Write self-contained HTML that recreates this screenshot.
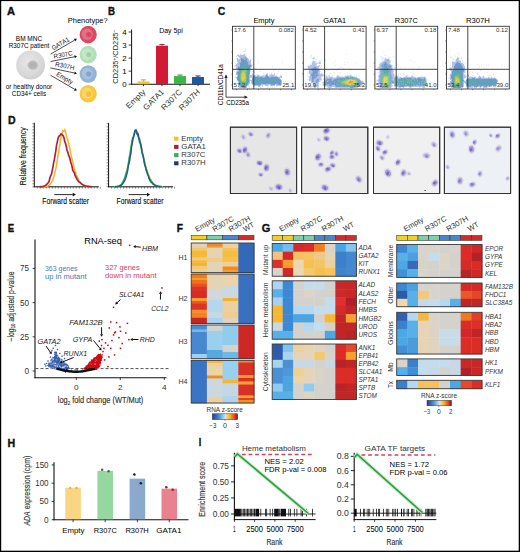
<!DOCTYPE html>
<html><head><meta charset="utf-8"><style>
html,body{margin:0;padding:0;background:#fff;}
svg{display:block;font-family:"Liberation Sans",sans-serif;}
</style></head><body>
<svg width="520" height="552" viewBox="0 0 520 552" font-family='"Liberation Sans", sans-serif'>
<defs>
<filter id="mblur" x="-5%" y="-5%" width="110%" height="110%"><feGaussianBlur stdDeviation="0.35"/></filter>
<filter id="fblur" x="-5%" y="-5%" width="110%" height="110%"><feGaussianBlur stdDeviation="0.45"/></filter>
<radialGradient id="gcell" cx="0.45" cy="0.4" r="0.6"><stop offset="0" stop-color="#e8e8e8"/><stop offset="0.7" stop-color="#d9d9d9"/><stop offset="1" stop-color="#cfcfcf"/></radialGradient>
<radialGradient id="gBlue"><stop offset="0" stop-color="#5a8cc0" stop-opacity="0.95"/><stop offset="0.6" stop-color="#7aa6d0" stop-opacity="0.6"/><stop offset="1" stop-color="#b8d0ea" stop-opacity="0"/></radialGradient>
<radialGradient id="gCore"><stop offset="0" stop-color="#e89a30"/><stop offset="0.3" stop-color="#d8c840"/><stop offset="0.65" stop-color="#6cb060" stop-opacity="0.9"/><stop offset="1" stop-color="#5a9ac0" stop-opacity="0"/></radialGradient>
<radialGradient id="gTail"><stop offset="0" stop-color="#4aa080"/><stop offset="0.5" stop-color="#5a90c0" stop-opacity="0.8"/><stop offset="1" stop-color="#9cbce0" stop-opacity="0"/></radialGradient>
<radialGradient id="gGreen"><stop offset="0" stop-color="#60b050"/><stop offset="1" stop-color="#60b050" stop-opacity="0"/></radialGradient>
<radialGradient id="gTail2"><stop offset="0" stop-color="#60b040"/><stop offset="0.55" stop-color="#58a090" stop-opacity="0.85"/><stop offset="1" stop-color="#9cbce0" stop-opacity="0"/></radialGradient>
<radialGradient id="gCore2"><stop offset="0" stop-color="#f07020"/><stop offset="0.5" stop-color="#e8c030"/><stop offset="1" stop-color="#a0c040" stop-opacity="0"/></radialGradient>
<linearGradient id="cbar" x1="0" x2="1" y1="0" y2="0"><stop offset="0" stop-color="#2b3f8f"/><stop offset="0.2" stop-color="#3a78c4"/><stop offset="0.42" stop-color="#8ccaee"/><stop offset="0.52" stop-color="#e6e2cc"/><stop offset="0.68" stop-color="#f8b434"/><stop offset="0.84" stop-color="#ea5a20"/><stop offset="1" stop-color="#8e0e1c"/></linearGradient>
</defs>
<rect x="0" y="0" width="520" height="552" fill="#fff"/>
<text x="6.90" y="14.60" font-size="10.2" fill="#111" font-weight="bold" textLength="8.00" lengthAdjust="spacingAndGlyphs" stroke="#111" stroke-width="0.35">A</text>
<text x="29.00" y="41.30" font-size="6.9" text-anchor="middle" textLength="26.40" lengthAdjust="spacingAndGlyphs" >BM MNC</text>
<text x="29.00" y="48.40" font-size="6.9" text-anchor="middle" textLength="40.40" lengthAdjust="spacingAndGlyphs" >R307C patient</text>
<circle cx="30.6" cy="65" r="14.4" fill="url(#gcell)"/>
<ellipse cx="32.8" cy="65.2" rx="5.2" ry="4.6" fill="#bcbcbc"/>
<ellipse cx="32.8" cy="65.2" rx="3.2" ry="2.6" fill="#b2b2b2"/>
<text x="29.00" y="88.50" font-size="6.9" text-anchor="middle" textLength="46.40" lengthAdjust="spacingAndGlyphs" >or healthy donor</text>
<text x="29.00" y="95.70" font-size="6.9" text-anchor="middle" textLength="34.40" lengthAdjust="spacingAndGlyphs" >CD34+ cells</text>
<text x="67.80" y="22.80" font-size="7.4" textLength="39.80" lengthAdjust="spacingAndGlyphs" >Phenotype?</text>
<ellipse cx="88.2" cy="34.6" rx="8.6" ry="8.8" fill="#dc4862"/>
<ellipse cx="87.2" cy="34.2" rx="5.6" ry="5.8" fill="#f0a0b0" opacity="0.45"/>
<circle cx="88.8" cy="34.6" r="2.6" fill="#c43050" opacity="0.6"/>
<ellipse cx="88.2" cy="54.6" rx="8.6" ry="8.8" fill="#b2e0b6"/>
<ellipse cx="87.2" cy="54.2" rx="5.6" ry="5.8" fill="#d8f0d8" opacity="0.45"/>
<circle cx="88.8" cy="54.6" r="2.6" fill="#86c890" opacity="0.6"/>
<ellipse cx="88.2" cy="74.0" rx="8.6" ry="8.8" fill="#92b2d8"/>
<ellipse cx="87.2" cy="73.6" rx="5.6" ry="5.8" fill="#c0d4ec" opacity="0.45"/>
<circle cx="88.8" cy="74.0" r="2.6" fill="#6a90c0" opacity="0.6"/>
<ellipse cx="88.2" cy="93.8" rx="8.6" ry="8.8" fill="#f8c83a"/>
<ellipse cx="87.2" cy="93.39999999999999" rx="5.6" ry="5.8" fill="#fce49a" opacity="0.45"/>
<circle cx="88.8" cy="93.8" r="2.6" fill="#f0b020" opacity="0.6"/>
<line x1="50.60" y1="54.10" x2="74.65" y2="40.11" stroke="#111" stroke-width="0.75" />
<polygon points="76.90,38.80 75.46,41.49 73.85,38.72" fill="#111"/>
<line x1="50.60" y1="61.50" x2="74.45" y2="56.80" stroke="#111" stroke-width="0.75" />
<polygon points="77.00,56.30 74.76,58.37 74.14,55.23" fill="#111"/>
<line x1="50.30" y1="67.90" x2="74.46" y2="72.97" stroke="#111" stroke-width="0.75" />
<polygon points="77.00,73.50 74.13,74.53 74.78,71.40" fill="#111"/>
<line x1="50.60" y1="75.30" x2="74.65" y2="89.29" stroke="#111" stroke-width="0.75" />
<polygon points="76.90,90.60 73.85,90.68 75.46,87.91" fill="#111"/>
<text x="53.20" y="50.60" font-size="6.6" fill="#1a1a1a" textLength="19.50" lengthAdjust="spacingAndGlyphs" transform="rotate(-30.3 53.20 50.60)" >GATA1</text>
<text x="54.00" y="58.80" font-size="6.6" fill="#1a1a1a" textLength="19.20" lengthAdjust="spacingAndGlyphs" transform="rotate(-10.7 54.00 58.80)" >R307C</text>
<text x="54.80" y="66.20" font-size="6.6" fill="#1a1a1a" textLength="19.60" lengthAdjust="spacingAndGlyphs" transform="rotate(11.8 54.80 66.20)" >R307H</text>
<text x="55.80" y="75.40" font-size="6.6" fill="#1a1a1a" textLength="18.20" lengthAdjust="spacingAndGlyphs" transform="rotate(30.3 55.80 75.40)" >Empty</text>
<text x="107.90" y="14.70" font-size="10.2" fill="#111" font-weight="bold" textLength="7.00" lengthAdjust="spacingAndGlyphs" stroke="#111" stroke-width="0.35">B</text>
<line x1="131.60" y1="29.50" x2="131.60" y2="84.60" stroke="#111" stroke-width="1" />
<line x1="131.20" y1="84.20" x2="210.00" y2="84.20" stroke="#111" stroke-width="1.1" />
<line x1="128.60" y1="84.20" x2="131.60" y2="84.20" stroke="#111" stroke-width="0.8" />
<text x="126.60" y="87.00" font-size="7.8" text-anchor="end" >0</text>
<line x1="128.60" y1="71.15" x2="131.60" y2="71.15" stroke="#111" stroke-width="0.8" />
<text x="126.60" y="73.95" font-size="7.8" text-anchor="end" >1</text>
<line x1="128.60" y1="58.10" x2="131.60" y2="58.10" stroke="#111" stroke-width="0.8" />
<text x="126.60" y="60.90" font-size="7.8" text-anchor="end" >2</text>
<line x1="128.60" y1="45.05" x2="131.60" y2="45.05" stroke="#111" stroke-width="0.8" />
<text x="126.60" y="47.85" font-size="7.8" text-anchor="end" >3</text>
<line x1="128.60" y1="32.00" x2="131.60" y2="32.00" stroke="#111" stroke-width="0.8" />
<text x="126.60" y="34.80" font-size="7.8" text-anchor="end" >4</text>
<text x="118.4" y="56.7" font-size="7.8" text-anchor="middle" fill="#222" transform="rotate(-90 118.4 56.7)" textLength="54" lengthAdjust="spacingAndGlyphs">CD235<tspan dy="-2.4" font-size="5">+</tspan><tspan dy="2.4">/CD235</tspan><tspan dy="-2.4" font-size="5">−</tspan></text>
<text x="171.00" y="33.00" font-size="6.6" text-anchor="middle" textLength="23.50" lengthAdjust="spacingAndGlyphs" >Day 5pi</text>
<rect x="137.50" y="81.46" width="12.00" height="2.74" fill="#f2c232" />
<line x1="143.50" y1="79.89" x2="143.50" y2="81.46" stroke="#c49a12" stroke-width="0.8" />
<line x1="140.90" y1="79.89" x2="146.10" y2="79.89" stroke="#c49a12" stroke-width="0.9" />
<line x1="143.50" y1="84.20" x2="143.50" y2="86.20" stroke="#111" stroke-width="0.8" />
<rect x="156.00" y="45.70" width="12.00" height="38.50" fill="#d11a35" />
<line x1="162.00" y1="44.40" x2="162.00" y2="45.70" stroke="#801020" stroke-width="0.8" />
<line x1="159.40" y1="44.40" x2="164.60" y2="44.40" stroke="#801020" stroke-width="0.9" />
<line x1="162.00" y1="84.20" x2="162.00" y2="86.20" stroke="#111" stroke-width="0.8" />
<rect x="174.00" y="76.11" width="12.00" height="8.09" fill="#3cb54a" />
<line x1="180.00" y1="75.06" x2="180.00" y2="76.11" stroke="#1c7a2a" stroke-width="0.8" />
<line x1="177.40" y1="75.06" x2="182.60" y2="75.06" stroke="#1c7a2a" stroke-width="0.9" />
<line x1="180.00" y1="84.20" x2="180.00" y2="86.20" stroke="#111" stroke-width="0.8" />
<rect x="192.00" y="77.02" width="12.00" height="7.18" fill="#1e58a0" />
<line x1="198.00" y1="75.98" x2="198.00" y2="77.02" stroke="#0c3060" stroke-width="0.8" />
<line x1="195.40" y1="75.98" x2="200.60" y2="75.98" stroke="#0c3060" stroke-width="0.9" />
<line x1="198.00" y1="84.20" x2="198.00" y2="86.20" stroke="#111" stroke-width="0.8" />
<text x="146.10" y="92.40" font-size="8.0" text-anchor="end" fill="#333" textLength="24.00" lengthAdjust="spacingAndGlyphs" transform="rotate(-45 146.10 92.40)" >Empty</text>
<text x="164.60" y="92.40" font-size="8.0" text-anchor="end" fill="#333" textLength="25.80" lengthAdjust="spacingAndGlyphs" transform="rotate(-45 164.60 92.40)" >GATA1</text>
<text x="182.60" y="92.40" font-size="8.0" text-anchor="end" fill="#333" textLength="25.80" lengthAdjust="spacingAndGlyphs" transform="rotate(-45 182.60 92.40)" >R307C</text>
<text x="200.60" y="92.40" font-size="8.0" text-anchor="end" fill="#333" textLength="26.40" lengthAdjust="spacingAndGlyphs" transform="rotate(-45 200.60 92.40)" >R307H</text>
<text x="217.70" y="15.00" font-size="10.2" fill="#111" font-weight="bold" textLength="7.50" lengthAdjust="spacingAndGlyphs" stroke="#111" stroke-width="0.35">C</text>
<text x="263.90" y="22.80" font-size="7.2" text-anchor="middle" textLength="21.00" lengthAdjust="spacingAndGlyphs" >Empty</text>
<g filter="url(#fblur)">
<rect x="245.0" y="48.8" width="1" height="1" fill="#96afdc" fill-opacity="0.33"/>
<rect x="243.0" y="50.8" width="2" height="1" fill="#7a9ad2" fill-opacity="0.33"/>
<rect x="245.0" y="50.8" width="1" height="1" fill="#96afdc" fill-opacity="0.33"/>
<rect x="238.0" y="53.8" width="1" height="1" fill="#96afdc" fill-opacity="0.33"/>
<rect x="240.0" y="53.8" width="1" height="1" fill="#96afdc" fill-opacity="0.33"/>
<rect x="243.0" y="53.8" width="3" height="1" fill="#7a9ad2" fill-opacity="0.33"/>
<rect x="237.0" y="54.8" width="2" height="1" fill="#7a9ad2" fill-opacity="0.67"/>
<rect x="239.0" y="54.8" width="1" height="1" fill="#7a9ad2" fill-opacity="0.33"/>
<rect x="240.0" y="54.8" width="5" height="1" fill="#7a9ad2" fill-opacity="0.67"/>
<rect x="246.0" y="54.8" width="1" height="1" fill="#96afdc" fill-opacity="0.33"/>
<rect x="236.0" y="55.8" width="1" height="1" fill="#96afdc" fill-opacity="0.33"/>
<rect x="238.0" y="55.8" width="8" height="1" fill="#7a9ad2" fill-opacity="0.67"/>
<rect x="239.0" y="56.8" width="5" height="1" fill="#7a9ad2" fill-opacity="0.67"/>
<rect x="244.0" y="56.8" width="2" height="1" fill="#5e85c9" fill-opacity="0.67"/>
<rect x="246.0" y="56.8" width="1" height="1" fill="#7a9ad2" fill-opacity="0.67"/>
<rect x="249.0" y="56.8" width="1" height="1" fill="#96afdc" fill-opacity="0.33"/>
<rect x="236.0" y="57.8" width="1" height="1" fill="#96afdc" fill-opacity="0.33"/>
<rect x="237.0" y="57.8" width="1" height="1" fill="#7a9ad2" fill-opacity="0.67"/>
<rect x="240.0" y="57.8" width="1" height="1" fill="#7a9ad2" fill-opacity="0.67"/>
<rect x="241.0" y="57.8" width="1" height="1" fill="#5e85c9"/>
<rect x="242.0" y="57.8" width="3" height="1" fill="#5e85c9" fill-opacity="0.67"/>
<rect x="245.0" y="57.8" width="1" height="1" fill="#5e85c9"/>
<rect x="246.0" y="57.8" width="1" height="1" fill="#5e85c9" fill-opacity="0.67"/>
<rect x="247.0" y="57.8" width="1" height="1" fill="#7a9ad2" fill-opacity="0.67"/>
<rect x="252.0" y="57.8" width="1" height="1" fill="#96afdc" fill-opacity="0.33"/>
<rect x="237.0" y="58.8" width="3" height="1" fill="#7a9ad2" fill-opacity="0.67"/>
<rect x="240.0" y="58.8" width="1" height="1" fill="#5e85c9" fill-opacity="0.67"/>
<rect x="241.0" y="58.8" width="3" height="1" fill="#5e85c9"/>
<rect x="244.0" y="58.8" width="2" height="1" fill="#5e85c9" fill-opacity="0.67"/>
<rect x="246.0" y="58.8" width="1" height="1" fill="#5e85c9"/>
<rect x="247.0" y="58.8" width="1" height="1" fill="#5e85c9" fill-opacity="0.67"/>
<rect x="248.0" y="58.8" width="1" height="1" fill="#7a9ad2" fill-opacity="0.67"/>
<rect x="250.0" y="58.8" width="1" height="1" fill="#96afdc" fill-opacity="0.33"/>
<rect x="237.0" y="59.8" width="4" height="1" fill="#7a9ad2" fill-opacity="0.67"/>
<rect x="241.0" y="59.8" width="1" height="1" fill="#5e85c9"/>
<rect x="242.0" y="59.8" width="2" height="1" fill="#4f89bd"/>
<rect x="244.0" y="59.8" width="1" height="1" fill="#5e85c9"/>
<rect x="245.0" y="59.8" width="1" height="1" fill="#4f89bd"/>
<rect x="246.0" y="59.8" width="1" height="1" fill="#5e85c9"/>
<rect x="247.0" y="59.8" width="2" height="1" fill="#7a9ad2" fill-opacity="0.67"/>
<rect x="249.0" y="59.8" width="1" height="1" fill="#7a9ad2" fill-opacity="0.33"/>
<rect x="250.0" y="59.8" width="1" height="1" fill="#7a9ad2" fill-opacity="0.67"/>
<rect x="251.0" y="59.8" width="1" height="1" fill="#96afdc" fill-opacity="0.33"/>
<rect x="237.0" y="60.8" width="2" height="1" fill="#7a9ad2" fill-opacity="0.67"/>
<rect x="239.0" y="60.8" width="1" height="1" fill="#5e85c9" fill-opacity="0.67"/>
<rect x="240.0" y="60.8" width="1" height="1" fill="#7a9ad2" fill-opacity="0.67"/>
<rect x="241.0" y="60.8" width="1" height="1" fill="#5e85c9"/>
<rect x="242.0" y="60.8" width="1" height="1" fill="#4f89bd"/>
<rect x="243.0" y="60.8" width="1" height="1" fill="#4391b1"/>
<rect x="244.0" y="60.8" width="2" height="1" fill="#4f89bd"/>
<rect x="246.0" y="60.8" width="1" height="1" fill="#5e85c9"/>
<rect x="247.0" y="60.8" width="1" height="1" fill="#5e85c9" fill-opacity="0.67"/>
<rect x="248.0" y="60.8" width="3" height="1" fill="#7a9ad2" fill-opacity="0.67"/>
<rect x="234.0" y="61.8" width="1" height="1" fill="#96afdc" fill-opacity="0.33"/>
<rect x="238.0" y="61.8" width="1" height="1" fill="#7a9ad2" fill-opacity="0.67"/>
<rect x="239.0" y="61.8" width="2" height="1" fill="#5e85c9" fill-opacity="0.67"/>
<rect x="241.0" y="61.8" width="1" height="1" fill="#5e85c9"/>
<rect x="242.0" y="61.8" width="1" height="1" fill="#4f89bd"/>
<rect x="243.0" y="61.8" width="2" height="1" fill="#4391b1"/>
<rect x="245.0" y="61.8" width="2" height="1" fill="#4f89bd"/>
<rect x="247.0" y="61.8" width="1" height="1" fill="#5e85c9"/>
<rect x="248.0" y="61.8" width="1" height="1" fill="#5e85c9" fill-opacity="0.67"/>
<rect x="249.0" y="61.8" width="2" height="1" fill="#7a9ad2" fill-opacity="0.67"/>
<rect x="258.0" y="61.8" width="1" height="1" fill="#96afdc" fill-opacity="0.33"/>
<rect x="282.0" y="61.8" width="1" height="1" fill="#96afdc" fill-opacity="0.33"/>
<rect x="235.0" y="62.8" width="1" height="1" fill="#96afdc" fill-opacity="0.33"/>
<rect x="237.0" y="62.8" width="2" height="1" fill="#7a9ad2" fill-opacity="0.67"/>
<rect x="239.0" y="62.8" width="1" height="1" fill="#5e85c9" fill-opacity="0.67"/>
<rect x="240.0" y="62.8" width="1" height="1" fill="#5e85c9"/>
<rect x="241.0" y="62.8" width="1" height="1" fill="#4f89bd"/>
<rect x="242.0" y="62.8" width="1" height="1" fill="#4391b1"/>
<rect x="243.0" y="62.8" width="1" height="1" fill="#409b98"/>
<rect x="244.0" y="62.8" width="1" height="1" fill="#4391b1"/>
<rect x="245.0" y="62.8" width="2" height="1" fill="#4f89bd"/>
<rect x="247.0" y="62.8" width="1" height="1" fill="#5e85c9"/>
<rect x="248.0" y="62.8" width="1" height="1" fill="#5e85c9" fill-opacity="0.67"/>
<rect x="249.0" y="62.8" width="2" height="1" fill="#7a9ad2" fill-opacity="0.67"/>
<rect x="236.0" y="63.8" width="3" height="1" fill="#7a9ad2" fill-opacity="0.67"/>
<rect x="239.0" y="63.8" width="1" height="1" fill="#5e85c9" fill-opacity="0.67"/>
<rect x="240.0" y="63.8" width="2" height="1" fill="#4f89bd"/>
<rect x="242.0" y="63.8" width="3" height="1" fill="#4391b1"/>
<rect x="245.0" y="63.8" width="1" height="1" fill="#4f89bd"/>
<rect x="246.0" y="63.8" width="2" height="1" fill="#5e85c9"/>
<rect x="248.0" y="63.8" width="2" height="1" fill="#5e85c9" fill-opacity="0.67"/>
<rect x="250.0" y="63.8" width="1" height="1" fill="#7a9ad2" fill-opacity="0.67"/>
<rect x="251.0" y="63.8" width="1" height="1" fill="#7a9ad2" fill-opacity="0.33"/>
<rect x="234.0" y="64.8" width="1" height="1" fill="#96afdc" fill-opacity="0.33"/>
<rect x="235.0" y="64.8" width="1" height="1" fill="#7a9ad2" fill-opacity="0.33"/>
<rect x="236.0" y="64.8" width="4" height="1" fill="#7a9ad2" fill-opacity="0.67"/>
<rect x="240.0" y="64.8" width="1" height="1" fill="#5e85c9"/>
<rect x="241.0" y="64.8" width="3" height="1" fill="#4391b1"/>
<rect x="244.0" y="64.8" width="1" height="1" fill="#409b98"/>
<rect x="245.0" y="64.8" width="1" height="1" fill="#4391b1"/>
<rect x="246.0" y="64.8" width="1" height="1" fill="#5e85c9"/>
<rect x="247.0" y="64.8" width="2" height="1" fill="#4f89bd"/>
<rect x="249.0" y="64.8" width="2" height="1" fill="#5e85c9"/>
<rect x="251.0" y="64.8" width="1" height="1" fill="#7a9ad2" fill-opacity="0.67"/>
<rect x="252.0" y="64.8" width="1" height="1" fill="#7a9ad2" fill-opacity="0.33"/>
<rect x="235.0" y="65.8" width="1" height="1" fill="#7a9ad2" fill-opacity="0.33"/>
<rect x="236.0" y="65.8" width="4" height="1" fill="#7a9ad2" fill-opacity="0.67"/>
<rect x="240.0" y="65.8" width="1" height="1" fill="#4f89bd"/>
<rect x="241.0" y="65.8" width="1" height="1" fill="#409b98"/>
<rect x="242.0" y="65.8" width="2" height="1" fill="#4391b1"/>
<rect x="244.0" y="65.8" width="1" height="1" fill="#409b98"/>
<rect x="245.0" y="65.8" width="4" height="1" fill="#4391b1"/>
<rect x="249.0" y="65.8" width="1" height="1" fill="#4f89bd"/>
<rect x="250.0" y="65.8" width="1" height="1" fill="#5e85c9"/>
<rect x="251.0" y="65.8" width="1" height="1" fill="#7a9ad2" fill-opacity="0.67"/>
<rect x="272.0" y="65.8" width="1" height="1" fill="#96afdc" fill-opacity="0.33"/>
<rect x="236.0" y="66.8" width="2" height="1" fill="#7a9ad2" fill-opacity="0.67"/>
<rect x="238.0" y="66.8" width="1" height="1" fill="#5e85c9"/>
<rect x="239.0" y="66.8" width="1" height="1" fill="#4f89bd"/>
<rect x="240.0" y="66.8" width="1" height="1" fill="#4391b1"/>
<rect x="241.0" y="66.8" width="6" height="1" fill="#409b98"/>
<rect x="247.0" y="66.8" width="2" height="1" fill="#4391b1"/>
<rect x="249.0" y="66.8" width="1" height="1" fill="#4f89bd"/>
<rect x="250.0" y="66.8" width="1" height="1" fill="#7a9ad2" fill-opacity="0.67"/>
<rect x="251.0" y="66.8" width="1" height="1" fill="#7a9ad2" fill-opacity="0.33"/>
<rect x="236.0" y="67.8" width="1" height="1" fill="#7a9ad2" fill-opacity="0.67"/>
<rect x="237.0" y="67.8" width="1" height="1" fill="#5e85c9" fill-opacity="0.67"/>
<rect x="238.0" y="67.8" width="1" height="1" fill="#4f89bd"/>
<rect x="239.0" y="67.8" width="1" height="1" fill="#4391b1"/>
<rect x="240.0" y="67.8" width="3" height="1" fill="#409b98"/>
<rect x="243.0" y="67.8" width="3" height="1" fill="#4aa771"/>
<rect x="246.0" y="67.8" width="1" height="1" fill="#409b98"/>
<rect x="247.0" y="67.8" width="1" height="1" fill="#4391b1"/>
<rect x="248.0" y="67.8" width="1" height="1" fill="#4f89bd"/>
<rect x="249.0" y="67.8" width="1" height="1" fill="#5e85c9"/>
<rect x="250.0" y="67.8" width="1" height="1" fill="#7a9ad2" fill-opacity="0.67"/>
<rect x="255.0" y="67.8" width="1" height="1" fill="#96afdc" fill-opacity="0.33"/>
<rect x="234.0" y="68.8" width="2" height="1" fill="#96afdc" fill-opacity="0.33"/>
<rect x="236.0" y="68.8" width="1" height="1" fill="#7a9ad2" fill-opacity="0.33"/>
<rect x="237.0" y="68.8" width="1" height="1" fill="#7a9ad2" fill-opacity="0.67"/>
<rect x="238.0" y="68.8" width="1" height="1" fill="#5e85c9"/>
<rect x="239.0" y="68.8" width="1" height="1" fill="#4391b1"/>
<rect x="240.0" y="68.8" width="2" height="1" fill="#409b98"/>
<rect x="242.0" y="68.8" width="2" height="1" fill="#4aa771"/>
<rect x="244.0" y="68.8" width="2" height="1" fill="#61b354"/>
<rect x="246.0" y="68.8" width="1" height="1" fill="#409b98"/>
<rect x="247.0" y="68.8" width="1" height="1" fill="#4391b1"/>
<rect x="248.0" y="68.8" width="1" height="1" fill="#4f89bd"/>
<rect x="249.0" y="68.8" width="1" height="1" fill="#5e85c9"/>
<rect x="250.0" y="68.8" width="1" height="1" fill="#7a9ad2" fill-opacity="0.67"/>
<rect x="252.0" y="68.8" width="1" height="1" fill="#96afdc" fill-opacity="0.33"/>
<rect x="233.0" y="69.8" width="1" height="1" fill="#96afdc" fill-opacity="0.33"/>
<rect x="237.0" y="69.8" width="1" height="1" fill="#7a9ad2" fill-opacity="0.33"/>
<rect x="238.0" y="69.8" width="1" height="1" fill="#7a9ad2" fill-opacity="0.67"/>
<rect x="239.0" y="69.8" width="1" height="1" fill="#5e85c9"/>
<rect x="240.0" y="69.8" width="1" height="1" fill="#4391b1"/>
<rect x="241.0" y="69.8" width="2" height="1" fill="#4aa771"/>
<rect x="243.0" y="69.8" width="1" height="1" fill="#61b354"/>
<rect x="244.0" y="69.8" width="2" height="1" fill="#8dc045"/>
<rect x="246.0" y="69.8" width="1" height="1" fill="#4aa771"/>
<rect x="247.0" y="69.8" width="1" height="1" fill="#409b98"/>
<rect x="248.0" y="69.8" width="1" height="1" fill="#4391b1"/>
<rect x="249.0" y="69.8" width="1" height="1" fill="#5e85c9"/>
<rect x="250.0" y="69.8" width="1" height="1" fill="#7a9ad2" fill-opacity="0.33"/>
<rect x="273.0" y="69.8" width="1" height="1" fill="#96afdc" fill-opacity="0.33"/>
<rect x="234.0" y="70.8" width="1" height="1" fill="#96afdc" fill-opacity="0.33"/>
<rect x="236.0" y="70.8" width="1" height="1" fill="#96afdc" fill-opacity="0.33"/>
<rect x="237.0" y="70.8" width="1" height="1" fill="#7a9ad2" fill-opacity="0.67"/>
<rect x="238.0" y="70.8" width="1" height="1" fill="#5e85c9" fill-opacity="0.67"/>
<rect x="239.0" y="70.8" width="1" height="1" fill="#4f89bd"/>
<rect x="240.0" y="70.8" width="1" height="1" fill="#409b98"/>
<rect x="241.0" y="70.8" width="1" height="1" fill="#61b354"/>
<rect x="242.0" y="70.8" width="4" height="1" fill="#8dc045"/>
<rect x="246.0" y="70.8" width="1" height="1" fill="#61b354"/>
<rect x="247.0" y="70.8" width="1" height="1" fill="#409b98"/>
<rect x="248.0" y="70.8" width="1" height="1" fill="#4391b1"/>
<rect x="249.0" y="70.8" width="1" height="1" fill="#5e85c9"/>
<rect x="250.0" y="70.8" width="1" height="1" fill="#7a9ad2" fill-opacity="0.33"/>
<rect x="252.0" y="70.8" width="2" height="1" fill="#96afdc" fill-opacity="0.33"/>
<rect x="260.0" y="70.8" width="1" height="1" fill="#96afdc" fill-opacity="0.33"/>
<rect x="278.0" y="70.8" width="1" height="1" fill="#96afdc" fill-opacity="0.33"/>
<rect x="236.0" y="71.8" width="1" height="1" fill="#7a9ad2" fill-opacity="0.67"/>
<rect x="237.0" y="71.8" width="1" height="1" fill="#5e85c9"/>
<rect x="238.0" y="71.8" width="1" height="1" fill="#4f89bd"/>
<rect x="239.0" y="71.8" width="1" height="1" fill="#409b98"/>
<rect x="240.0" y="71.8" width="1" height="1" fill="#4aa771"/>
<rect x="241.0" y="71.8" width="1" height="1" fill="#61b354"/>
<rect x="242.0" y="71.8" width="2" height="1" fill="#b9c839"/>
<rect x="244.0" y="71.8" width="1" height="1" fill="#8dc045"/>
<rect x="245.0" y="71.8" width="1" height="1" fill="#61b354"/>
<rect x="246.0" y="71.8" width="1" height="1" fill="#4aa771"/>
<rect x="247.0" y="71.8" width="1" height="1" fill="#409b98"/>
<rect x="248.0" y="71.8" width="1" height="1" fill="#4391b1"/>
<rect x="249.0" y="71.8" width="1" height="1" fill="#5e85c9"/>
<rect x="251.0" y="71.8" width="1" height="1" fill="#96afdc" fill-opacity="0.33"/>
<rect x="254.0" y="71.8" width="1" height="1" fill="#96afdc" fill-opacity="0.33"/>
<rect x="236.0" y="72.8" width="1" height="1" fill="#7a9ad2" fill-opacity="0.67"/>
<rect x="237.0" y="72.8" width="1" height="1" fill="#5e85c9"/>
<rect x="238.0" y="72.8" width="1" height="1" fill="#4391b1"/>
<rect x="239.0" y="72.8" width="1" height="1" fill="#409b98"/>
<rect x="240.0" y="72.8" width="1" height="1" fill="#4aa771"/>
<rect x="241.0" y="72.8" width="1" height="1" fill="#8dc045"/>
<rect x="242.0" y="72.8" width="3" height="1" fill="#b9c839"/>
<rect x="245.0" y="72.8" width="1" height="1" fill="#8dc045"/>
<rect x="246.0" y="72.8" width="1" height="1" fill="#4aa771"/>
<rect x="247.0" y="72.8" width="1" height="1" fill="#409b98"/>
<rect x="248.0" y="72.8" width="1" height="1" fill="#4391b1"/>
<rect x="249.0" y="72.8" width="1" height="1" fill="#5e85c9"/>
<rect x="252.0" y="72.8" width="1" height="1" fill="#7a9ad2" fill-opacity="0.33"/>
<rect x="263.0" y="72.8" width="1" height="1" fill="#96afdc" fill-opacity="0.33"/>
<rect x="267.0" y="72.8" width="1" height="1" fill="#96afdc" fill-opacity="0.33"/>
<rect x="271.0" y="72.8" width="1" height="1" fill="#96afdc" fill-opacity="0.33"/>
<rect x="274.0" y="72.8" width="1" height="1" fill="#96afdc" fill-opacity="0.33"/>
<rect x="277.0" y="72.8" width="1" height="1" fill="#96afdc" fill-opacity="0.33"/>
<rect x="236.0" y="73.8" width="2" height="1" fill="#7a9ad2" fill-opacity="0.67"/>
<rect x="238.0" y="73.8" width="1" height="1" fill="#4f89bd"/>
<rect x="239.0" y="73.8" width="1" height="1" fill="#409b98"/>
<rect x="240.0" y="73.8" width="1" height="1" fill="#61b354"/>
<rect x="241.0" y="73.8" width="1" height="1" fill="#8dc045"/>
<rect x="242.0" y="73.8" width="1" height="1" fill="#b9c839"/>
<rect x="243.0" y="73.8" width="1" height="1" fill="#e2c833"/>
<rect x="244.0" y="73.8" width="1" height="1" fill="#b9c839"/>
<rect x="245.0" y="73.8" width="1" height="1" fill="#8dc045"/>
<rect x="246.0" y="73.8" width="1" height="1" fill="#61b354"/>
<rect x="247.0" y="73.8" width="1" height="1" fill="#409b98"/>
<rect x="248.0" y="73.8" width="1" height="1" fill="#4f89bd"/>
<rect x="249.0" y="73.8" width="1" height="1" fill="#5e85c9" fill-opacity="0.67"/>
<rect x="252.0" y="73.8" width="1" height="1" fill="#7a9ad2" fill-opacity="0.67"/>
<rect x="256.0" y="73.8" width="1" height="1" fill="#96afdc" fill-opacity="0.33"/>
<rect x="264.0" y="73.8" width="1" height="1" fill="#96afdc" fill-opacity="0.33"/>
<rect x="266.0" y="73.8" width="2" height="1" fill="#7a9ad2" fill-opacity="0.67"/>
<rect x="269.0" y="73.8" width="1" height="1" fill="#96afdc" fill-opacity="0.33"/>
<rect x="271.0" y="73.8" width="1" height="1" fill="#7a9ad2" fill-opacity="0.67"/>
<rect x="272.0" y="73.8" width="1" height="1" fill="#7a9ad2" fill-opacity="0.33"/>
<rect x="274.0" y="73.8" width="1" height="1" fill="#7a9ad2" fill-opacity="0.67"/>
<rect x="235.0" y="74.8" width="1" height="1" fill="#96afdc" fill-opacity="0.33"/>
<rect x="237.0" y="74.8" width="1" height="1" fill="#7a9ad2" fill-opacity="0.67"/>
<rect x="238.0" y="74.8" width="1" height="1" fill="#5e85c9"/>
<rect x="239.0" y="74.8" width="1" height="1" fill="#409b98"/>
<rect x="240.0" y="74.8" width="1" height="1" fill="#61b354"/>
<rect x="241.0" y="74.8" width="1" height="1" fill="#b9c839"/>
<rect x="242.0" y="74.8" width="2" height="1" fill="#e2c833"/>
<rect x="244.0" y="74.8" width="1" height="1" fill="#b9c839"/>
<rect x="245.0" y="74.8" width="1" height="1" fill="#8dc045"/>
<rect x="246.0" y="74.8" width="1" height="1" fill="#4aa771"/>
<rect x="247.0" y="74.8" width="1" height="1" fill="#409b98"/>
<rect x="248.0" y="74.8" width="1" height="1" fill="#4f89bd"/>
<rect x="249.0" y="74.8" width="6" height="1" fill="#7a9ad2" fill-opacity="0.67"/>
<rect x="255.0" y="74.8" width="1" height="1" fill="#96afdc" fill-opacity="0.33"/>
<rect x="257.0" y="74.8" width="2" height="1" fill="#7a9ad2" fill-opacity="0.67"/>
<rect x="259.0" y="74.8" width="1" height="1" fill="#7a9ad2" fill-opacity="0.33"/>
<rect x="262.0" y="74.8" width="2" height="1" fill="#7a9ad2" fill-opacity="0.33"/>
<rect x="265.0" y="74.8" width="1" height="1" fill="#7a9ad2" fill-opacity="0.67"/>
<rect x="266.0" y="74.8" width="1" height="1" fill="#5e85c9"/>
<rect x="267.0" y="74.8" width="1" height="1" fill="#7a9ad2" fill-opacity="0.67"/>
<rect x="269.0" y="74.8" width="1" height="1" fill="#7a9ad2" fill-opacity="0.33"/>
<rect x="270.0" y="74.8" width="4" height="1" fill="#7a9ad2" fill-opacity="0.67"/>
<rect x="274.0" y="74.8" width="1" height="1" fill="#7a9ad2" fill-opacity="0.33"/>
<rect x="280.0" y="74.8" width="1" height="1" fill="#96afdc" fill-opacity="0.33"/>
<rect x="237.0" y="75.8" width="1" height="1" fill="#5e85c9" fill-opacity="0.67"/>
<rect x="238.0" y="75.8" width="1" height="1" fill="#4f89bd"/>
<rect x="239.0" y="75.8" width="1" height="1" fill="#409b98"/>
<rect x="240.0" y="75.8" width="1" height="1" fill="#61b354"/>
<rect x="241.0" y="75.8" width="1" height="1" fill="#b9c839"/>
<rect x="242.0" y="75.8" width="2" height="1" fill="#eda42d"/>
<rect x="244.0" y="75.8" width="1" height="1" fill="#e2c833"/>
<rect x="245.0" y="75.8" width="1" height="1" fill="#8dc045"/>
<rect x="246.0" y="75.8" width="1" height="1" fill="#4aa771"/>
<rect x="247.0" y="75.8" width="1" height="1" fill="#409b98"/>
<rect x="248.0" y="75.8" width="1" height="1" fill="#4f89bd"/>
<rect x="249.0" y="75.8" width="1" height="1" fill="#5e85c9" fill-opacity="0.67"/>
<rect x="250.0" y="75.8" width="3" height="1" fill="#7a9ad2" fill-opacity="0.67"/>
<rect x="253.0" y="75.8" width="2" height="1" fill="#5e85c9"/>
<rect x="255.0" y="75.8" width="1" height="1" fill="#5e85c9" fill-opacity="0.67"/>
<rect x="256.0" y="75.8" width="1" height="1" fill="#7a9ad2" fill-opacity="0.67"/>
<rect x="257.0" y="75.8" width="2" height="1" fill="#5e85c9" fill-opacity="0.67"/>
<rect x="259.0" y="75.8" width="6" height="1" fill="#7a9ad2" fill-opacity="0.67"/>
<rect x="265.0" y="75.8" width="1" height="1" fill="#5e85c9" fill-opacity="0.67"/>
<rect x="266.0" y="75.8" width="1" height="1" fill="#4f89bd"/>
<rect x="267.0" y="75.8" width="1" height="1" fill="#5e85c9"/>
<rect x="268.0" y="75.8" width="4" height="1" fill="#7a9ad2" fill-opacity="0.67"/>
<rect x="272.0" y="75.8" width="2" height="1" fill="#5e85c9" fill-opacity="0.67"/>
<rect x="274.0" y="75.8" width="3" height="1" fill="#7a9ad2" fill-opacity="0.67"/>
<rect x="280.0" y="75.8" width="2" height="1" fill="#7a9ad2" fill-opacity="0.67"/>
<rect x="235.0" y="76.8" width="1" height="1" fill="#7a9ad2" fill-opacity="0.33"/>
<rect x="236.0" y="76.8" width="1" height="1" fill="#7a9ad2" fill-opacity="0.67"/>
<rect x="237.0" y="76.8" width="1" height="1" fill="#5e85c9"/>
<rect x="238.0" y="76.8" width="1" height="1" fill="#4391b1"/>
<rect x="239.0" y="76.8" width="1" height="1" fill="#409b98"/>
<rect x="240.0" y="76.8" width="1" height="1" fill="#61b354"/>
<rect x="241.0" y="76.8" width="1" height="1" fill="#b9c839"/>
<rect x="242.0" y="76.8" width="3" height="1" fill="#e2c833"/>
<rect x="245.0" y="76.8" width="1" height="1" fill="#b9c839"/>
<rect x="246.0" y="76.8" width="1" height="1" fill="#61b354"/>
<rect x="247.0" y="76.8" width="1" height="1" fill="#409b98"/>
<rect x="248.0" y="76.8" width="1" height="1" fill="#4391b1"/>
<rect x="249.0" y="76.8" width="3" height="1" fill="#7a9ad2" fill-opacity="0.67"/>
<rect x="252.0" y="76.8" width="1" height="1" fill="#5e85c9" fill-opacity="0.67"/>
<rect x="253.0" y="76.8" width="1" height="1" fill="#4f89bd"/>
<rect x="254.0" y="76.8" width="1" height="1" fill="#4391b1"/>
<rect x="255.0" y="76.8" width="2" height="1" fill="#4f89bd"/>
<rect x="257.0" y="76.8" width="2" height="1" fill="#5e85c9"/>
<rect x="259.0" y="76.8" width="1" height="1" fill="#5e85c9" fill-opacity="0.67"/>
<rect x="260.0" y="76.8" width="2" height="1" fill="#5e85c9"/>
<rect x="262.0" y="76.8" width="3" height="1" fill="#5e85c9" fill-opacity="0.67"/>
<rect x="265.0" y="76.8" width="1" height="1" fill="#5e85c9"/>
<rect x="266.0" y="76.8" width="2" height="1" fill="#4f89bd"/>
<rect x="268.0" y="76.8" width="1" height="1" fill="#5e85c9"/>
<rect x="269.0" y="76.8" width="2" height="1" fill="#5e85c9" fill-opacity="0.67"/>
<rect x="271.0" y="76.8" width="7" height="1" fill="#5e85c9"/>
<rect x="278.0" y="76.8" width="4" height="1" fill="#7a9ad2" fill-opacity="0.67"/>
<rect x="236.0" y="77.8" width="1" height="1" fill="#7a9ad2" fill-opacity="0.33"/>
<rect x="237.0" y="77.8" width="1" height="1" fill="#5e85c9"/>
<rect x="238.0" y="77.8" width="1" height="1" fill="#4391b1"/>
<rect x="239.0" y="77.8" width="1" height="1" fill="#409b98"/>
<rect x="240.0" y="77.8" width="1" height="1" fill="#61b354"/>
<rect x="241.0" y="77.8" width="1" height="1" fill="#b9c839"/>
<rect x="242.0" y="77.8" width="2" height="1" fill="#e2c833"/>
<rect x="244.0" y="77.8" width="2" height="1" fill="#b9c839"/>
<rect x="246.0" y="77.8" width="1" height="1" fill="#61b354"/>
<rect x="247.0" y="77.8" width="1" height="1" fill="#409b98"/>
<rect x="248.0" y="77.8" width="1" height="1" fill="#4f89bd"/>
<rect x="249.0" y="77.8" width="1" height="1" fill="#7a9ad2" fill-opacity="0.67"/>
<rect x="252.0" y="77.8" width="1" height="1" fill="#5e85c9"/>
<rect x="253.0" y="77.8" width="3" height="1" fill="#4391b1"/>
<rect x="256.0" y="77.8" width="2" height="1" fill="#4f89bd"/>
<rect x="258.0" y="77.8" width="1" height="1" fill="#4391b1"/>
<rect x="259.0" y="77.8" width="1" height="1" fill="#4f89bd"/>
<rect x="260.0" y="77.8" width="2" height="1" fill="#4391b1"/>
<rect x="262.0" y="77.8" width="9" height="1" fill="#4f89bd"/>
<rect x="271.0" y="77.8" width="1" height="1" fill="#4391b1"/>
<rect x="272.0" y="77.8" width="6" height="1" fill="#4f89bd"/>
<rect x="278.0" y="77.8" width="1" height="1" fill="#5e85c9"/>
<rect x="279.0" y="77.8" width="1" height="1" fill="#7a9ad2" fill-opacity="0.67"/>
<rect x="237.0" y="78.8" width="1" height="1" fill="#5e85c9"/>
<rect x="238.0" y="78.8" width="1" height="1" fill="#4f89bd"/>
<rect x="239.0" y="78.8" width="1" height="1" fill="#409b98"/>
<rect x="240.0" y="78.8" width="1" height="1" fill="#61b354"/>
<rect x="241.0" y="78.8" width="1" height="1" fill="#8dc045"/>
<rect x="242.0" y="78.8" width="2" height="1" fill="#e2c833"/>
<rect x="244.0" y="78.8" width="1" height="1" fill="#b9c839"/>
<rect x="245.0" y="78.8" width="1" height="1" fill="#8dc045"/>
<rect x="246.0" y="78.8" width="1" height="1" fill="#4aa771"/>
<rect x="247.0" y="78.8" width="1" height="1" fill="#4391b1"/>
<rect x="248.0" y="78.8" width="1" height="1" fill="#5e85c9"/>
<rect x="249.0" y="78.8" width="1" height="1" fill="#7a9ad2" fill-opacity="0.67"/>
<rect x="252.0" y="78.8" width="1" height="1" fill="#5e85c9"/>
<rect x="253.0" y="78.8" width="3" height="1" fill="#4391b1"/>
<rect x="256.0" y="78.8" width="1" height="1" fill="#4f89bd"/>
<rect x="257.0" y="78.8" width="1" height="1" fill="#4391b1"/>
<rect x="258.0" y="78.8" width="2" height="1" fill="#409b98"/>
<rect x="260.0" y="78.8" width="4" height="1" fill="#4391b1"/>
<rect x="264.0" y="78.8" width="1" height="1" fill="#4f89bd"/>
<rect x="265.0" y="78.8" width="1" height="1" fill="#4391b1"/>
<rect x="266.0" y="78.8" width="3" height="1" fill="#4f89bd"/>
<rect x="269.0" y="78.8" width="5" height="1" fill="#4391b1"/>
<rect x="274.0" y="78.8" width="1" height="1" fill="#4f89bd"/>
<rect x="275.0" y="78.8" width="2" height="1" fill="#4391b1"/>
<rect x="277.0" y="78.8" width="2" height="1" fill="#4f89bd"/>
<rect x="279.0" y="78.8" width="1" height="1" fill="#5e85c9"/>
<rect x="280.0" y="78.8" width="1" height="1" fill="#7a9ad2" fill-opacity="0.67"/>
<rect x="237.0" y="79.8" width="1" height="1" fill="#7a9ad2" fill-opacity="0.67"/>
<rect x="238.0" y="79.8" width="1" height="1" fill="#4f89bd"/>
<rect x="239.0" y="79.8" width="1" height="1" fill="#4391b1"/>
<rect x="240.0" y="79.8" width="1" height="1" fill="#4aa771"/>
<rect x="241.0" y="79.8" width="1" height="1" fill="#8dc045"/>
<rect x="242.0" y="79.8" width="3" height="1" fill="#b9c839"/>
<rect x="245.0" y="79.8" width="1" height="1" fill="#8dc045"/>
<rect x="246.0" y="79.8" width="1" height="1" fill="#4aa771"/>
<rect x="247.0" y="79.8" width="1" height="1" fill="#4391b1"/>
<rect x="248.0" y="79.8" width="1" height="1" fill="#4f89bd"/>
<rect x="249.0" y="79.8" width="1" height="1" fill="#5e85c9" fill-opacity="0.67"/>
<rect x="250.0" y="79.8" width="2" height="1" fill="#7a9ad2" fill-opacity="0.67"/>
<rect x="252.0" y="79.8" width="1" height="1" fill="#4f89bd"/>
<rect x="253.0" y="79.8" width="1" height="1" fill="#4391b1"/>
<rect x="254.0" y="79.8" width="1" height="1" fill="#409b98"/>
<rect x="255.0" y="79.8" width="3" height="1" fill="#4391b1"/>
<rect x="258.0" y="79.8" width="2" height="1" fill="#409b98"/>
<rect x="260.0" y="79.8" width="1" height="1" fill="#4391b1"/>
<rect x="261.0" y="79.8" width="1" height="1" fill="#4f89bd"/>
<rect x="262.0" y="79.8" width="2" height="1" fill="#4391b1"/>
<rect x="264.0" y="79.8" width="2" height="1" fill="#4f89bd"/>
<rect x="266.0" y="79.8" width="1" height="1" fill="#4391b1"/>
<rect x="267.0" y="79.8" width="3" height="1" fill="#4f89bd"/>
<rect x="270.0" y="79.8" width="2" height="1" fill="#4391b1"/>
<rect x="272.0" y="79.8" width="2" height="1" fill="#409b98"/>
<rect x="274.0" y="79.8" width="3" height="1" fill="#4391b1"/>
<rect x="277.0" y="79.8" width="4" height="1" fill="#4f89bd"/>
<rect x="281.0" y="79.8" width="1" height="1" fill="#7a9ad2" fill-opacity="0.67"/>
<rect x="236.0" y="80.8" width="1" height="1" fill="#96afdc" fill-opacity="0.33"/>
<rect x="238.0" y="80.8" width="1" height="1" fill="#7a9ad2" fill-opacity="0.67"/>
<rect x="239.0" y="80.8" width="1" height="1" fill="#4f89bd"/>
<rect x="240.0" y="80.8" width="1" height="1" fill="#409b98"/>
<rect x="241.0" y="80.8" width="1" height="1" fill="#61b354"/>
<rect x="242.0" y="80.8" width="4" height="1" fill="#8dc045"/>
<rect x="246.0" y="80.8" width="1" height="1" fill="#4aa771"/>
<rect x="247.0" y="80.8" width="1" height="1" fill="#409b98"/>
<rect x="248.0" y="80.8" width="1" height="1" fill="#4f89bd"/>
<rect x="249.0" y="80.8" width="1" height="1" fill="#5e85c9" fill-opacity="0.67"/>
<rect x="251.0" y="80.8" width="1" height="1" fill="#7a9ad2" fill-opacity="0.67"/>
<rect x="252.0" y="80.8" width="1" height="1" fill="#4f89bd"/>
<rect x="253.0" y="80.8" width="1" height="1" fill="#409b98"/>
<rect x="254.0" y="80.8" width="1" height="1" fill="#4aa771"/>
<rect x="255.0" y="80.8" width="1" height="1" fill="#409b98"/>
<rect x="256.0" y="80.8" width="2" height="1" fill="#4391b1"/>
<rect x="258.0" y="80.8" width="1" height="1" fill="#409b98"/>
<rect x="259.0" y="80.8" width="2" height="1" fill="#4391b1"/>
<rect x="261.0" y="80.8" width="1" height="1" fill="#4f89bd"/>
<rect x="262.0" y="80.8" width="6" height="1" fill="#4391b1"/>
<rect x="268.0" y="80.8" width="1" height="1" fill="#4f89bd"/>
<rect x="269.0" y="80.8" width="3" height="1" fill="#4391b1"/>
<rect x="272.0" y="80.8" width="1" height="1" fill="#409b98"/>
<rect x="273.0" y="80.8" width="3" height="1" fill="#4391b1"/>
<rect x="276.0" y="80.8" width="4" height="1" fill="#4f89bd"/>
<rect x="280.0" y="80.8" width="1" height="1" fill="#5e85c9"/>
<rect x="281.0" y="80.8" width="1" height="1" fill="#7a9ad2" fill-opacity="0.67"/>
<rect x="285.0" y="80.8" width="1" height="1" fill="#96afdc" fill-opacity="0.33"/>
<rect x="235.0" y="81.8" width="1" height="1" fill="#96afdc" fill-opacity="0.33"/>
<rect x="238.0" y="81.8" width="1" height="1" fill="#7a9ad2" fill-opacity="0.67"/>
<rect x="239.0" y="81.8" width="1" height="1" fill="#4f89bd"/>
<rect x="240.0" y="81.8" width="1" height="1" fill="#409b98"/>
<rect x="241.0" y="81.8" width="1" height="1" fill="#4aa771"/>
<rect x="242.0" y="81.8" width="4" height="1" fill="#61b354"/>
<rect x="246.0" y="81.8" width="1" height="1" fill="#409b98"/>
<rect x="247.0" y="81.8" width="1" height="1" fill="#4391b1"/>
<rect x="248.0" y="81.8" width="1" height="1" fill="#5e85c9"/>
<rect x="249.0" y="81.8" width="1" height="1" fill="#7a9ad2" fill-opacity="0.67"/>
<rect x="251.0" y="81.8" width="1" height="1" fill="#7a9ad2" fill-opacity="0.67"/>
<rect x="252.0" y="81.8" width="1" height="1" fill="#4f89bd"/>
<rect x="253.0" y="81.8" width="1" height="1" fill="#409b98"/>
<rect x="254.0" y="81.8" width="1" height="1" fill="#4aa771"/>
<rect x="255.0" y="81.8" width="1" height="1" fill="#409b98"/>
<rect x="256.0" y="81.8" width="5" height="1" fill="#4391b1"/>
<rect x="261.0" y="81.8" width="1" height="1" fill="#4f89bd"/>
<rect x="262.0" y="81.8" width="3" height="1" fill="#4391b1"/>
<rect x="265.0" y="81.8" width="1" height="1" fill="#4f89bd"/>
<rect x="266.0" y="81.8" width="1" height="1" fill="#4391b1"/>
<rect x="267.0" y="81.8" width="3" height="1" fill="#4f89bd"/>
<rect x="270.0" y="81.8" width="4" height="1" fill="#4391b1"/>
<rect x="274.0" y="81.8" width="6" height="1" fill="#4f89bd"/>
<rect x="280.0" y="81.8" width="1" height="1" fill="#5e85c9"/>
<rect x="281.0" y="81.8" width="1" height="1" fill="#7a9ad2" fill-opacity="0.67"/>
<rect x="238.0" y="82.8" width="1" height="1" fill="#7a9ad2" fill-opacity="0.67"/>
<rect x="239.0" y="82.8" width="1" height="1" fill="#4391b1"/>
<rect x="240.0" y="82.8" width="1" height="1" fill="#409b98"/>
<rect x="241.0" y="82.8" width="3" height="1" fill="#4aa771"/>
<rect x="244.0" y="82.8" width="1" height="1" fill="#61b354"/>
<rect x="245.0" y="82.8" width="1" height="1" fill="#4aa771"/>
<rect x="246.0" y="82.8" width="1" height="1" fill="#4391b1"/>
<rect x="247.0" y="82.8" width="1" height="1" fill="#4f89bd"/>
<rect x="248.0" y="82.8" width="1" height="1" fill="#5e85c9" fill-opacity="0.67"/>
<rect x="249.0" y="82.8" width="1" height="1" fill="#7a9ad2" fill-opacity="0.67"/>
<rect x="251.0" y="82.8" width="1" height="1" fill="#7a9ad2" fill-opacity="0.33"/>
<rect x="252.0" y="82.8" width="1" height="1" fill="#5e85c9"/>
<rect x="253.0" y="82.8" width="1" height="1" fill="#4391b1"/>
<rect x="254.0" y="82.8" width="2" height="1" fill="#409b98"/>
<rect x="256.0" y="82.8" width="1" height="1" fill="#4391b1"/>
<rect x="257.0" y="82.8" width="4" height="1" fill="#4f89bd"/>
<rect x="261.0" y="82.8" width="2" height="1" fill="#5e85c9"/>
<rect x="263.0" y="82.8" width="4" height="1" fill="#4f89bd"/>
<rect x="267.0" y="82.8" width="2" height="1" fill="#5e85c9"/>
<rect x="269.0" y="82.8" width="4" height="1" fill="#4f89bd"/>
<rect x="273.0" y="82.8" width="1" height="1" fill="#4391b1"/>
<rect x="274.0" y="82.8" width="1" height="1" fill="#4f89bd"/>
<rect x="275.0" y="82.8" width="3" height="1" fill="#5e85c9"/>
<rect x="278.0" y="82.8" width="1" height="1" fill="#4f89bd"/>
<rect x="279.0" y="82.8" width="1" height="1" fill="#4391b1"/>
<rect x="280.0" y="82.8" width="1" height="1" fill="#4f89bd"/>
<rect x="281.0" y="82.8" width="1" height="1" fill="#7a9ad2" fill-opacity="0.67"/>
<rect x="238.0" y="83.8" width="1" height="1" fill="#7a9ad2" fill-opacity="0.67"/>
<rect x="239.0" y="83.8" width="1" height="1" fill="#4f89bd"/>
<rect x="240.0" y="83.8" width="1" height="1" fill="#4391b1"/>
<rect x="241.0" y="83.8" width="2" height="1" fill="#409b98"/>
<rect x="243.0" y="83.8" width="2" height="1" fill="#4aa771"/>
<rect x="245.0" y="83.8" width="1" height="1" fill="#409b98"/>
<rect x="246.0" y="83.8" width="1" height="1" fill="#4391b1"/>
<rect x="247.0" y="83.8" width="1" height="1" fill="#5e85c9"/>
<rect x="248.0" y="83.8" width="1" height="1" fill="#7a9ad2" fill-opacity="0.67"/>
<rect x="250.0" y="83.8" width="1" height="1" fill="#96afdc" fill-opacity="0.33"/>
<rect x="252.0" y="83.8" width="1" height="1" fill="#7a9ad2" fill-opacity="0.67"/>
<rect x="253.0" y="83.8" width="4" height="1" fill="#4f89bd"/>
<rect x="257.0" y="83.8" width="1" height="1" fill="#5e85c9"/>
<rect x="258.0" y="83.8" width="2" height="1" fill="#4f89bd"/>
<rect x="260.0" y="83.8" width="1" height="1" fill="#5e85c9"/>
<rect x="261.0" y="83.8" width="3" height="1" fill="#7a9ad2" fill-opacity="0.67"/>
<rect x="264.0" y="83.8" width="3" height="1" fill="#5e85c9" fill-opacity="0.67"/>
<rect x="267.0" y="83.8" width="3" height="1" fill="#7a9ad2" fill-opacity="0.67"/>
<rect x="270.0" y="83.8" width="1" height="1" fill="#5e85c9" fill-opacity="0.67"/>
<rect x="271.0" y="83.8" width="4" height="1" fill="#5e85c9"/>
<rect x="275.0" y="83.8" width="2" height="1" fill="#7a9ad2" fill-opacity="0.67"/>
<rect x="277.0" y="83.8" width="1" height="1" fill="#5e85c9" fill-opacity="0.67"/>
<rect x="278.0" y="83.8" width="1" height="1" fill="#5e85c9"/>
<rect x="279.0" y="83.8" width="2" height="1" fill="#4f89bd"/>
<rect x="281.0" y="83.8" width="1" height="1" fill="#7a9ad2" fill-opacity="0.67"/>
<rect x="236.0" y="84.8" width="1" height="1" fill="#96afdc" fill-opacity="0.33"/>
<rect x="239.0" y="84.8" width="1" height="1" fill="#7a9ad2" fill-opacity="0.67"/>
<rect x="240.0" y="84.8" width="1" height="1" fill="#5e85c9"/>
<rect x="241.0" y="84.8" width="1" height="1" fill="#4391b1"/>
<rect x="242.0" y="84.8" width="3" height="1" fill="#409b98"/>
<rect x="245.0" y="84.8" width="1" height="1" fill="#4391b1"/>
<rect x="246.0" y="84.8" width="1" height="1" fill="#5e85c9"/>
<rect x="247.0" y="84.8" width="1" height="1" fill="#7a9ad2" fill-opacity="0.67"/>
<rect x="248.0" y="84.8" width="1" height="1" fill="#7a9ad2" fill-opacity="0.33"/>
<rect x="253.0" y="84.8" width="2" height="1" fill="#7a9ad2" fill-opacity="0.67"/>
<rect x="255.0" y="84.8" width="1" height="1" fill="#5e85c9" fill-opacity="0.67"/>
<rect x="256.0" y="84.8" width="2" height="1" fill="#7a9ad2" fill-opacity="0.67"/>
<rect x="258.0" y="84.8" width="1" height="1" fill="#5e85c9" fill-opacity="0.67"/>
<rect x="259.0" y="84.8" width="1" height="1" fill="#5e85c9"/>
<rect x="260.0" y="84.8" width="1" height="1" fill="#7a9ad2" fill-opacity="0.67"/>
<rect x="261.0" y="84.8" width="1" height="1" fill="#7a9ad2" fill-opacity="0.33"/>
<rect x="262.0" y="84.8" width="1" height="1" fill="#7a9ad2" fill-opacity="0.67"/>
<rect x="265.0" y="84.8" width="3" height="1" fill="#7a9ad2" fill-opacity="0.67"/>
<rect x="268.0" y="84.8" width="1" height="1" fill="#96afdc" fill-opacity="0.33"/>
<rect x="270.0" y="84.8" width="5" height="1" fill="#7a9ad2" fill-opacity="0.67"/>
<rect x="276.0" y="84.8" width="5" height="1" fill="#7a9ad2" fill-opacity="0.67"/>
<rect x="284.0" y="84.8" width="1" height="1" fill="#96afdc" fill-opacity="0.33"/>
<rect x="238.0" y="85.8" width="1" height="1" fill="#7a9ad2" fill-opacity="0.33"/>
<rect x="239.0" y="85.8" width="1" height="1" fill="#7a9ad2" fill-opacity="0.67"/>
<rect x="240.0" y="85.8" width="1" height="1" fill="#5e85c9" fill-opacity="0.67"/>
<rect x="241.0" y="85.8" width="1" height="1" fill="#4f89bd"/>
<rect x="242.0" y="85.8" width="3" height="1" fill="#4391b1"/>
<rect x="245.0" y="85.8" width="1" height="1" fill="#4f89bd"/>
<rect x="246.0" y="85.8" width="1" height="1" fill="#5e85c9" fill-opacity="0.67"/>
<rect x="248.0" y="85.8" width="2" height="1" fill="#96afdc" fill-opacity="0.33"/>
<rect x="253.0" y="85.8" width="2" height="1" fill="#7a9ad2" fill-opacity="0.33"/>
<rect x="258.0" y="85.8" width="2" height="1" fill="#7a9ad2" fill-opacity="0.67"/>
<rect x="262.0" y="85.8" width="1" height="1" fill="#96afdc" fill-opacity="0.33"/>
<rect x="268.0" y="85.8" width="1" height="1" fill="#96afdc" fill-opacity="0.33"/>
<rect x="271.0" y="85.8" width="1" height="1" fill="#7a9ad2" fill-opacity="0.33"/>
<rect x="276.0" y="85.8" width="1" height="1" fill="#7a9ad2" fill-opacity="0.33"/>
<rect x="280.0" y="85.8" width="1" height="1" fill="#96afdc" fill-opacity="0.33"/>
<rect x="238.0" y="86.8" width="1" height="1" fill="#7a9ad2" fill-opacity="0.33"/>
<rect x="239.0" y="86.8" width="2" height="1" fill="#7a9ad2" fill-opacity="0.67"/>
<rect x="241.0" y="86.8" width="1" height="1" fill="#5e85c9" fill-opacity="0.67"/>
<rect x="242.0" y="86.8" width="2" height="1" fill="#5e85c9"/>
<rect x="244.0" y="86.8" width="2" height="1" fill="#4f89bd"/>
<rect x="246.0" y="86.8" width="1" height="1" fill="#7a9ad2" fill-opacity="0.67"/>
<rect x="249.0" y="86.8" width="1" height="1" fill="#96afdc" fill-opacity="0.33"/>
<rect x="260.0" y="86.8" width="1" height="1" fill="#96afdc" fill-opacity="0.33"/>
<rect x="267.0" y="86.8" width="1" height="1" fill="#96afdc" fill-opacity="0.33"/>
<rect x="270.0" y="86.8" width="1" height="1" fill="#96afdc" fill-opacity="0.33"/>
<rect x="272.0" y="86.8" width="1" height="1" fill="#96afdc" fill-opacity="0.33"/>
<rect x="274.0" y="86.8" width="1" height="1" fill="#96afdc" fill-opacity="0.33"/>
</g>
<rect x="232.50" y="26.3" width="62.8" height="62.70" fill="none" stroke="#333" stroke-width="0.9"/>
<line x1="253.80" y1="26.30" x2="253.80" y2="89.00" stroke="#333" stroke-width="0.9" />
<line x1="232.50" y1="69.30" x2="295.30" y2="69.30" stroke="#333" stroke-width="0.9" />
<line x1="231.30" y1="85.00" x2="232.50" y2="85.00" stroke="#444" stroke-width="0.6" />
<line x1="231.30" y1="74.00" x2="232.50" y2="74.00" stroke="#444" stroke-width="0.6" />
<line x1="231.30" y1="63.00" x2="232.50" y2="63.00" stroke="#444" stroke-width="0.6" />
<line x1="231.30" y1="52.00" x2="232.50" y2="52.00" stroke="#444" stroke-width="0.6" />
<line x1="231.30" y1="41.00" x2="232.50" y2="41.00" stroke="#444" stroke-width="0.6" />
<line x1="231.30" y1="30.00" x2="232.50" y2="30.00" stroke="#444" stroke-width="0.6" />
<line x1="236.50" y1="89.00" x2="236.50" y2="90.20" stroke="#444" stroke-width="0.6" />
<line x1="247.50" y1="89.00" x2="247.50" y2="90.20" stroke="#444" stroke-width="0.6" />
<line x1="258.50" y1="89.00" x2="258.50" y2="90.20" stroke="#444" stroke-width="0.6" />
<line x1="269.50" y1="89.00" x2="269.50" y2="90.20" stroke="#444" stroke-width="0.6" />
<line x1="280.50" y1="89.00" x2="280.50" y2="90.20" stroke="#444" stroke-width="0.6" />
<line x1="291.50" y1="89.00" x2="291.50" y2="90.20" stroke="#444" stroke-width="0.6" />
<text x="234.00" y="32.30" font-size="6.1" fill="#333" >17.6</text>
<text x="293.90" y="32.30" font-size="6.1" text-anchor="end" fill="#333" >0.082</text>
<text x="233.50" y="87.40" font-size="6.1" fill="#333" >57.2</text>
<text x="294.30" y="87.40" font-size="6.1" text-anchor="end" fill="#333" >25.1</text>
<text x="334.70" y="22.80" font-size="7.2" text-anchor="middle" textLength="23.00" lengthAdjust="spacingAndGlyphs" >GATA1</text>
<g filter="url(#fblur)">
<rect x="345.8" y="53.8" width="1" height="1" fill="#96afdc" fill-opacity="0.33"/>
<rect x="310.8" y="54.8" width="1" height="1" fill="#96afdc" fill-opacity="0.33"/>
<rect x="309.8" y="55.8" width="2" height="1" fill="#96afdc" fill-opacity="0.33"/>
<rect x="312.8" y="56.8" width="1" height="1" fill="#7a9ad2" fill-opacity="0.33"/>
<rect x="313.8" y="56.8" width="1" height="1" fill="#96afdc" fill-opacity="0.33"/>
<rect x="316.8" y="56.8" width="1" height="1" fill="#96afdc" fill-opacity="0.33"/>
<rect x="310.8" y="57.8" width="1" height="1" fill="#96afdc" fill-opacity="0.33"/>
<rect x="311.8" y="57.8" width="1" height="1" fill="#7a9ad2" fill-opacity="0.33"/>
<rect x="312.8" y="57.8" width="2" height="1" fill="#7a9ad2" fill-opacity="0.67"/>
<rect x="305.8" y="58.8" width="1" height="1" fill="#96afdc" fill-opacity="0.33"/>
<rect x="312.8" y="58.8" width="1" height="1" fill="#96afdc" fill-opacity="0.33"/>
<rect x="314.8" y="58.8" width="2" height="1" fill="#96afdc" fill-opacity="0.33"/>
<rect x="319.8" y="59.8" width="2" height="1" fill="#96afdc" fill-opacity="0.33"/>
<rect x="323.8" y="59.8" width="2" height="1" fill="#96afdc" fill-opacity="0.33"/>
<rect x="312.8" y="60.8" width="2" height="1" fill="#7a9ad2" fill-opacity="0.67"/>
<rect x="314.8" y="60.8" width="1" height="1" fill="#7a9ad2" fill-opacity="0.33"/>
<rect x="315.8" y="60.8" width="1" height="1" fill="#96afdc" fill-opacity="0.33"/>
<rect x="318.8" y="60.8" width="1" height="1" fill="#96afdc" fill-opacity="0.33"/>
<rect x="334.8" y="60.8" width="1" height="1" fill="#96afdc" fill-opacity="0.33"/>
<rect x="311.8" y="61.8" width="3" height="1" fill="#7a9ad2" fill-opacity="0.67"/>
<rect x="314.8" y="61.8" width="1" height="1" fill="#7a9ad2" fill-opacity="0.33"/>
<rect x="316.8" y="61.8" width="1" height="1" fill="#96afdc" fill-opacity="0.33"/>
<rect x="318.8" y="61.8" width="2" height="1" fill="#7a9ad2" fill-opacity="0.67"/>
<rect x="343.8" y="61.8" width="1" height="1" fill="#96afdc" fill-opacity="0.33"/>
<rect x="346.8" y="61.8" width="1" height="1" fill="#96afdc" fill-opacity="0.33"/>
<rect x="311.8" y="62.8" width="3" height="1" fill="#7a9ad2" fill-opacity="0.67"/>
<rect x="314.8" y="62.8" width="1" height="1" fill="#7a9ad2" fill-opacity="0.33"/>
<rect x="315.8" y="62.8" width="1" height="1" fill="#7a9ad2" fill-opacity="0.67"/>
<rect x="316.8" y="62.8" width="2" height="1" fill="#7a9ad2" fill-opacity="0.33"/>
<rect x="318.8" y="62.8" width="2" height="1" fill="#7a9ad2" fill-opacity="0.67"/>
<rect x="332.8" y="62.8" width="1" height="1" fill="#96afdc" fill-opacity="0.33"/>
<rect x="355.8" y="62.8" width="1" height="1" fill="#96afdc" fill-opacity="0.33"/>
<rect x="308.8" y="63.8" width="1" height="1" fill="#96afdc" fill-opacity="0.33"/>
<rect x="311.8" y="63.8" width="5" height="1" fill="#7a9ad2" fill-opacity="0.67"/>
<rect x="343.8" y="63.8" width="1" height="1" fill="#96afdc" fill-opacity="0.33"/>
<rect x="309.8" y="64.8" width="6" height="1" fill="#7a9ad2" fill-opacity="0.67"/>
<rect x="315.8" y="64.8" width="1" height="1" fill="#7a9ad2" fill-opacity="0.33"/>
<rect x="318.8" y="64.8" width="1" height="1" fill="#7a9ad2" fill-opacity="0.67"/>
<rect x="320.8" y="64.8" width="1" height="1" fill="#96afdc" fill-opacity="0.33"/>
<rect x="334.8" y="64.8" width="1" height="1" fill="#96afdc" fill-opacity="0.33"/>
<rect x="306.8" y="65.8" width="1" height="1" fill="#96afdc" fill-opacity="0.33"/>
<rect x="307.8" y="65.8" width="12" height="1" fill="#7a9ad2" fill-opacity="0.67"/>
<rect x="320.8" y="65.8" width="1" height="1" fill="#96afdc" fill-opacity="0.33"/>
<rect x="324.8" y="65.8" width="1" height="1" fill="#96afdc" fill-opacity="0.33"/>
<rect x="307.8" y="66.8" width="6" height="1" fill="#7a9ad2" fill-opacity="0.67"/>
<rect x="313.8" y="66.8" width="2" height="1" fill="#5e85c9"/>
<rect x="315.8" y="66.8" width="1" height="1" fill="#5e85c9" fill-opacity="0.67"/>
<rect x="316.8" y="66.8" width="2" height="1" fill="#7a9ad2" fill-opacity="0.67"/>
<rect x="319.8" y="66.8" width="1" height="1" fill="#96afdc" fill-opacity="0.33"/>
<rect x="340.8" y="66.8" width="1" height="1" fill="#96afdc" fill-opacity="0.33"/>
<rect x="305.8" y="67.8" width="1" height="1" fill="#96afdc" fill-opacity="0.33"/>
<rect x="307.8" y="67.8" width="5" height="1" fill="#7a9ad2" fill-opacity="0.67"/>
<rect x="312.8" y="67.8" width="2" height="1" fill="#5e85c9"/>
<rect x="314.8" y="67.8" width="1" height="1" fill="#4f89bd"/>
<rect x="315.8" y="67.8" width="1" height="1" fill="#5e85c9"/>
<rect x="316.8" y="67.8" width="1" height="1" fill="#5e85c9" fill-opacity="0.67"/>
<rect x="317.8" y="67.8" width="1" height="1" fill="#7a9ad2" fill-opacity="0.67"/>
<rect x="320.8" y="67.8" width="1" height="1" fill="#96afdc" fill-opacity="0.33"/>
<rect x="338.8" y="67.8" width="1" height="1" fill="#96afdc" fill-opacity="0.33"/>
<rect x="342.8" y="67.8" width="1" height="1" fill="#96afdc" fill-opacity="0.33"/>
<rect x="306.8" y="68.8" width="1" height="1" fill="#96afdc" fill-opacity="0.33"/>
<rect x="308.8" y="68.8" width="3" height="1" fill="#7a9ad2" fill-opacity="0.67"/>
<rect x="311.8" y="68.8" width="2" height="1" fill="#5e85c9"/>
<rect x="313.8" y="68.8" width="3" height="1" fill="#4f89bd"/>
<rect x="316.8" y="68.8" width="1" height="1" fill="#5e85c9"/>
<rect x="317.8" y="68.8" width="1" height="1" fill="#5e85c9" fill-opacity="0.67"/>
<rect x="318.8" y="68.8" width="1" height="1" fill="#7a9ad2" fill-opacity="0.67"/>
<rect x="319.8" y="68.8" width="1" height="1" fill="#96afdc" fill-opacity="0.33"/>
<rect x="333.8" y="68.8" width="1" height="1" fill="#96afdc" fill-opacity="0.33"/>
<rect x="337.8" y="68.8" width="1" height="1" fill="#96afdc" fill-opacity="0.33"/>
<rect x="308.8" y="69.8" width="3" height="1" fill="#7a9ad2" fill-opacity="0.67"/>
<rect x="311.8" y="69.8" width="3" height="1" fill="#5e85c9"/>
<rect x="314.8" y="69.8" width="2" height="1" fill="#4f89bd"/>
<rect x="316.8" y="69.8" width="2" height="1" fill="#5e85c9"/>
<rect x="318.8" y="69.8" width="1" height="1" fill="#7a9ad2" fill-opacity="0.67"/>
<rect x="327.8" y="69.8" width="1" height="1" fill="#96afdc" fill-opacity="0.33"/>
<rect x="335.8" y="69.8" width="1" height="1" fill="#96afdc" fill-opacity="0.33"/>
<rect x="349.8" y="69.8" width="1" height="1" fill="#96afdc" fill-opacity="0.33"/>
<rect x="308.8" y="70.8" width="3" height="1" fill="#7a9ad2" fill-opacity="0.67"/>
<rect x="311.8" y="70.8" width="1" height="1" fill="#5e85c9" fill-opacity="0.67"/>
<rect x="312.8" y="70.8" width="5" height="1" fill="#5e85c9"/>
<rect x="317.8" y="70.8" width="1" height="1" fill="#5e85c9" fill-opacity="0.67"/>
<rect x="318.8" y="70.8" width="1" height="1" fill="#7a9ad2" fill-opacity="0.67"/>
<rect x="319.8" y="70.8" width="1" height="1" fill="#96afdc" fill-opacity="0.33"/>
<rect x="307.8" y="71.8" width="1" height="1" fill="#96afdc" fill-opacity="0.33"/>
<rect x="308.8" y="71.8" width="1" height="1" fill="#7a9ad2" fill-opacity="0.67"/>
<rect x="309.8" y="71.8" width="1" height="1" fill="#5e85c9" fill-opacity="0.67"/>
<rect x="310.8" y="71.8" width="1" height="1" fill="#7a9ad2" fill-opacity="0.67"/>
<rect x="311.8" y="71.8" width="1" height="1" fill="#5e85c9" fill-opacity="0.67"/>
<rect x="312.8" y="71.8" width="5" height="1" fill="#5e85c9"/>
<rect x="317.8" y="71.8" width="2" height="1" fill="#7a9ad2" fill-opacity="0.67"/>
<rect x="323.8" y="71.8" width="1" height="1" fill="#96afdc" fill-opacity="0.33"/>
<rect x="333.8" y="71.8" width="1" height="1" fill="#96afdc" fill-opacity="0.33"/>
<rect x="339.8" y="71.8" width="1" height="1" fill="#96afdc" fill-opacity="0.33"/>
<rect x="308.8" y="72.8" width="3" height="1" fill="#7a9ad2" fill-opacity="0.67"/>
<rect x="311.8" y="72.8" width="1" height="1" fill="#5e85c9"/>
<rect x="312.8" y="72.8" width="4" height="1" fill="#4f89bd"/>
<rect x="316.8" y="72.8" width="1" height="1" fill="#5e85c9"/>
<rect x="317.8" y="72.8" width="2" height="1" fill="#7a9ad2" fill-opacity="0.67"/>
<rect x="320.8" y="72.8" width="2" height="1" fill="#96afdc" fill-opacity="0.33"/>
<rect x="329.8" y="72.8" width="1" height="1" fill="#96afdc" fill-opacity="0.33"/>
<rect x="330.8" y="72.8" width="1" height="1" fill="#7a9ad2" fill-opacity="0.33"/>
<rect x="333.8" y="72.8" width="1" height="1" fill="#96afdc" fill-opacity="0.33"/>
<rect x="338.8" y="72.8" width="1" height="1" fill="#96afdc" fill-opacity="0.33"/>
<rect x="348.8" y="72.8" width="1" height="1" fill="#96afdc" fill-opacity="0.33"/>
<rect x="306.8" y="73.8" width="1" height="1" fill="#96afdc" fill-opacity="0.33"/>
<rect x="309.8" y="73.8" width="1" height="1" fill="#7a9ad2" fill-opacity="0.67"/>
<rect x="310.8" y="73.8" width="1" height="1" fill="#5e85c9"/>
<rect x="311.8" y="73.8" width="2" height="1" fill="#4f89bd"/>
<rect x="313.8" y="73.8" width="1" height="1" fill="#4391b1"/>
<rect x="314.8" y="73.8" width="1" height="1" fill="#4f89bd"/>
<rect x="315.8" y="73.8" width="2" height="1" fill="#5e85c9"/>
<rect x="317.8" y="73.8" width="1" height="1" fill="#5e85c9" fill-opacity="0.67"/>
<rect x="318.8" y="73.8" width="4" height="1" fill="#7a9ad2" fill-opacity="0.67"/>
<rect x="322.8" y="73.8" width="1" height="1" fill="#96afdc" fill-opacity="0.33"/>
<rect x="326.8" y="73.8" width="1" height="1" fill="#96afdc" fill-opacity="0.33"/>
<rect x="309.8" y="74.8" width="1" height="1" fill="#7a9ad2" fill-opacity="0.67"/>
<rect x="310.8" y="74.8" width="1" height="1" fill="#5e85c9"/>
<rect x="311.8" y="74.8" width="4" height="1" fill="#4f89bd"/>
<rect x="315.8" y="74.8" width="3" height="1" fill="#5e85c9"/>
<rect x="318.8" y="74.8" width="5" height="1" fill="#7a9ad2" fill-opacity="0.67"/>
<rect x="324.8" y="74.8" width="1" height="1" fill="#96afdc" fill-opacity="0.33"/>
<rect x="327.8" y="74.8" width="2" height="1" fill="#7a9ad2" fill-opacity="0.33"/>
<rect x="331.8" y="74.8" width="1" height="1" fill="#96afdc" fill-opacity="0.33"/>
<rect x="336.8" y="74.8" width="1" height="1" fill="#7a9ad2" fill-opacity="0.33"/>
<rect x="337.8" y="74.8" width="1" height="1" fill="#96afdc" fill-opacity="0.33"/>
<rect x="341.8" y="74.8" width="1" height="1" fill="#96afdc" fill-opacity="0.33"/>
<rect x="346.8" y="74.8" width="1" height="1" fill="#7a9ad2" fill-opacity="0.33"/>
<rect x="347.8" y="74.8" width="1" height="1" fill="#96afdc" fill-opacity="0.33"/>
<rect x="349.8" y="74.8" width="1" height="1" fill="#7a9ad2" fill-opacity="0.67"/>
<rect x="350.8" y="74.8" width="1" height="1" fill="#7a9ad2" fill-opacity="0.33"/>
<rect x="355.8" y="74.8" width="1" height="1" fill="#96afdc" fill-opacity="0.33"/>
<rect x="307.8" y="75.8" width="2" height="1" fill="#96afdc" fill-opacity="0.33"/>
<rect x="309.8" y="75.8" width="1" height="1" fill="#7a9ad2" fill-opacity="0.67"/>
<rect x="310.8" y="75.8" width="1" height="1" fill="#5e85c9" fill-opacity="0.67"/>
<rect x="311.8" y="75.8" width="3" height="1" fill="#5e85c9"/>
<rect x="314.8" y="75.8" width="1" height="1" fill="#4f89bd"/>
<rect x="315.8" y="75.8" width="1" height="1" fill="#5e85c9"/>
<rect x="316.8" y="75.8" width="1" height="1" fill="#5e85c9" fill-opacity="0.67"/>
<rect x="317.8" y="75.8" width="4" height="1" fill="#7a9ad2" fill-opacity="0.67"/>
<rect x="321.8" y="75.8" width="1" height="1" fill="#7a9ad2" fill-opacity="0.33"/>
<rect x="323.8" y="75.8" width="1" height="1" fill="#96afdc" fill-opacity="0.33"/>
<rect x="325.8" y="75.8" width="1" height="1" fill="#7a9ad2" fill-opacity="0.67"/>
<rect x="326.8" y="75.8" width="1" height="1" fill="#96afdc" fill-opacity="0.33"/>
<rect x="328.8" y="75.8" width="1" height="1" fill="#7a9ad2" fill-opacity="0.67"/>
<rect x="336.8" y="75.8" width="2" height="1" fill="#7a9ad2" fill-opacity="0.67"/>
<rect x="338.8" y="75.8" width="1" height="1" fill="#7a9ad2" fill-opacity="0.33"/>
<rect x="339.8" y="75.8" width="1" height="1" fill="#96afdc" fill-opacity="0.33"/>
<rect x="341.8" y="75.8" width="1" height="1" fill="#96afdc" fill-opacity="0.33"/>
<rect x="344.8" y="75.8" width="7" height="1" fill="#7a9ad2" fill-opacity="0.67"/>
<rect x="351.8" y="75.8" width="1" height="1" fill="#7a9ad2" fill-opacity="0.33"/>
<rect x="353.8" y="75.8" width="1" height="1" fill="#96afdc" fill-opacity="0.33"/>
<rect x="308.8" y="76.8" width="3" height="1" fill="#7a9ad2" fill-opacity="0.67"/>
<rect x="311.8" y="76.8" width="5" height="1" fill="#5e85c9"/>
<rect x="316.8" y="76.8" width="4" height="1" fill="#7a9ad2" fill-opacity="0.67"/>
<rect x="320.8" y="76.8" width="1" height="1" fill="#96afdc" fill-opacity="0.33"/>
<rect x="324.8" y="76.8" width="1" height="1" fill="#7a9ad2" fill-opacity="0.33"/>
<rect x="325.8" y="76.8" width="2" height="1" fill="#7a9ad2" fill-opacity="0.67"/>
<rect x="327.8" y="76.8" width="1" height="1" fill="#7a9ad2" fill-opacity="0.33"/>
<rect x="328.8" y="76.8" width="4" height="1" fill="#7a9ad2" fill-opacity="0.67"/>
<rect x="332.8" y="76.8" width="1" height="1" fill="#96afdc" fill-opacity="0.33"/>
<rect x="335.8" y="76.8" width="1" height="1" fill="#7a9ad2" fill-opacity="0.67"/>
<rect x="336.8" y="76.8" width="2" height="1" fill="#5e85c9" fill-opacity="0.67"/>
<rect x="338.8" y="76.8" width="7" height="1" fill="#7a9ad2" fill-opacity="0.67"/>
<rect x="345.8" y="76.8" width="3" height="1" fill="#5e85c9"/>
<rect x="348.8" y="76.8" width="1" height="1" fill="#7a9ad2" fill-opacity="0.67"/>
<rect x="349.8" y="76.8" width="4" height="1" fill="#5e85c9"/>
<rect x="353.8" y="76.8" width="1" height="1" fill="#5e85c9" fill-opacity="0.67"/>
<rect x="354.8" y="76.8" width="2" height="1" fill="#7a9ad2" fill-opacity="0.67"/>
<rect x="308.8" y="77.8" width="1" height="1" fill="#7a9ad2" fill-opacity="0.33"/>
<rect x="309.8" y="77.8" width="2" height="1" fill="#7a9ad2" fill-opacity="0.67"/>
<rect x="311.8" y="77.8" width="3" height="1" fill="#5e85c9"/>
<rect x="314.8" y="77.8" width="1" height="1" fill="#5e85c9" fill-opacity="0.67"/>
<rect x="315.8" y="77.8" width="2" height="1" fill="#7a9ad2" fill-opacity="0.67"/>
<rect x="317.8" y="77.8" width="1" height="1" fill="#5e85c9" fill-opacity="0.67"/>
<rect x="318.8" y="77.8" width="2" height="1" fill="#7a9ad2" fill-opacity="0.67"/>
<rect x="320.8" y="77.8" width="1" height="1" fill="#7a9ad2" fill-opacity="0.33"/>
<rect x="323.8" y="77.8" width="1" height="1" fill="#96afdc" fill-opacity="0.33"/>
<rect x="324.8" y="77.8" width="5" height="1" fill="#7a9ad2" fill-opacity="0.67"/>
<rect x="329.8" y="77.8" width="1" height="1" fill="#5e85c9" fill-opacity="0.67"/>
<rect x="330.8" y="77.8" width="1" height="1" fill="#5e85c9"/>
<rect x="331.8" y="77.8" width="4" height="1" fill="#7a9ad2" fill-opacity="0.67"/>
<rect x="335.8" y="77.8" width="1" height="1" fill="#5e85c9" fill-opacity="0.67"/>
<rect x="336.8" y="77.8" width="1" height="1" fill="#5e85c9"/>
<rect x="337.8" y="77.8" width="1" height="1" fill="#4f89bd"/>
<rect x="338.8" y="77.8" width="4" height="1" fill="#5e85c9"/>
<rect x="342.8" y="77.8" width="3" height="1" fill="#4f89bd"/>
<rect x="345.8" y="77.8" width="4" height="1" fill="#4391b1"/>
<rect x="349.8" y="77.8" width="2" height="1" fill="#409b98"/>
<rect x="351.8" y="77.8" width="1" height="1" fill="#4391b1"/>
<rect x="352.8" y="77.8" width="1" height="1" fill="#409b98"/>
<rect x="353.8" y="77.8" width="1" height="1" fill="#4391b1"/>
<rect x="354.8" y="77.8" width="1" height="1" fill="#4f89bd"/>
<rect x="355.8" y="77.8" width="1" height="1" fill="#5e85c9"/>
<rect x="356.8" y="77.8" width="1" height="1" fill="#7a9ad2" fill-opacity="0.67"/>
<rect x="357.8" y="77.8" width="1" height="1" fill="#7a9ad2" fill-opacity="0.33"/>
<rect x="358.8" y="77.8" width="1" height="1" fill="#96afdc" fill-opacity="0.33"/>
<rect x="306.8" y="78.8" width="1" height="1" fill="#96afdc" fill-opacity="0.33"/>
<rect x="308.8" y="78.8" width="3" height="1" fill="#7a9ad2" fill-opacity="0.67"/>
<rect x="311.8" y="78.8" width="2" height="1" fill="#5e85c9"/>
<rect x="313.8" y="78.8" width="2" height="1" fill="#7a9ad2" fill-opacity="0.67"/>
<rect x="315.8" y="78.8" width="1" height="1" fill="#5e85c9" fill-opacity="0.67"/>
<rect x="316.8" y="78.8" width="2" height="1" fill="#5e85c9"/>
<rect x="318.8" y="78.8" width="3" height="1" fill="#7a9ad2" fill-opacity="0.67"/>
<rect x="322.8" y="78.8" width="1" height="1" fill="#96afdc" fill-opacity="0.33"/>
<rect x="323.8" y="78.8" width="2" height="1" fill="#7a9ad2" fill-opacity="0.67"/>
<rect x="325.8" y="78.8" width="1" height="1" fill="#5e85c9" fill-opacity="0.67"/>
<rect x="326.8" y="78.8" width="5" height="1" fill="#5e85c9"/>
<rect x="331.8" y="78.8" width="2" height="1" fill="#7a9ad2" fill-opacity="0.67"/>
<rect x="333.8" y="78.8" width="1" height="1" fill="#5e85c9"/>
<rect x="334.8" y="78.8" width="4" height="1" fill="#4f89bd"/>
<rect x="338.8" y="78.8" width="5" height="1" fill="#4391b1"/>
<rect x="343.8" y="78.8" width="2" height="1" fill="#409b98"/>
<rect x="345.8" y="78.8" width="1" height="1" fill="#4aa771"/>
<rect x="346.8" y="78.8" width="3" height="1" fill="#61b354"/>
<rect x="349.8" y="78.8" width="2" height="1" fill="#8dc045"/>
<rect x="351.8" y="78.8" width="3" height="1" fill="#61b354"/>
<rect x="354.8" y="78.8" width="1" height="1" fill="#4aa771"/>
<rect x="355.8" y="78.8" width="1" height="1" fill="#409b98"/>
<rect x="356.8" y="78.8" width="1" height="1" fill="#4f89bd"/>
<rect x="357.8" y="78.8" width="1" height="1" fill="#5e85c9"/>
<rect x="358.8" y="78.8" width="1" height="1" fill="#5e85c9" fill-opacity="0.67"/>
<rect x="308.8" y="79.8" width="2" height="1" fill="#7a9ad2" fill-opacity="0.67"/>
<rect x="310.8" y="79.8" width="1" height="1" fill="#5e85c9" fill-opacity="0.67"/>
<rect x="311.8" y="79.8" width="1" height="1" fill="#4f89bd"/>
<rect x="312.8" y="79.8" width="1" height="1" fill="#5e85c9"/>
<rect x="313.8" y="79.8" width="2" height="1" fill="#7a9ad2" fill-opacity="0.67"/>
<rect x="315.8" y="79.8" width="1" height="1" fill="#5e85c9"/>
<rect x="316.8" y="79.8" width="1" height="1" fill="#4f89bd"/>
<rect x="317.8" y="79.8" width="1" height="1" fill="#5e85c9"/>
<rect x="318.8" y="79.8" width="1" height="1" fill="#7a9ad2" fill-opacity="0.67"/>
<rect x="319.8" y="79.8" width="2" height="1" fill="#7a9ad2" fill-opacity="0.33"/>
<rect x="323.8" y="79.8" width="1" height="1" fill="#7a9ad2" fill-opacity="0.67"/>
<rect x="324.8" y="79.8" width="1" height="1" fill="#5e85c9" fill-opacity="0.67"/>
<rect x="325.8" y="79.8" width="2" height="1" fill="#5e85c9"/>
<rect x="327.8" y="79.8" width="1" height="1" fill="#5e85c9" fill-opacity="0.67"/>
<rect x="328.8" y="79.8" width="3" height="1" fill="#5e85c9"/>
<rect x="331.8" y="79.8" width="1" height="1" fill="#7a9ad2" fill-opacity="0.67"/>
<rect x="332.8" y="79.8" width="1" height="1" fill="#5e85c9"/>
<rect x="333.8" y="79.8" width="4" height="1" fill="#4f89bd"/>
<rect x="337.8" y="79.8" width="1" height="1" fill="#4391b1"/>
<rect x="338.8" y="79.8" width="1" height="1" fill="#409b98"/>
<rect x="339.8" y="79.8" width="2" height="1" fill="#4aa771"/>
<rect x="341.8" y="79.8" width="2" height="1" fill="#409b98"/>
<rect x="343.8" y="79.8" width="1" height="1" fill="#4aa771"/>
<rect x="344.8" y="79.8" width="2" height="1" fill="#61b354"/>
<rect x="346.8" y="79.8" width="1" height="1" fill="#8dc045"/>
<rect x="347.8" y="79.8" width="1" height="1" fill="#b9c839"/>
<rect x="348.8" y="79.8" width="4" height="1" fill="#e2c833"/>
<rect x="352.8" y="79.8" width="2" height="1" fill="#b9c839"/>
<rect x="354.8" y="79.8" width="1" height="1" fill="#8dc045"/>
<rect x="355.8" y="79.8" width="1" height="1" fill="#61b354"/>
<rect x="356.8" y="79.8" width="1" height="1" fill="#409b98"/>
<rect x="357.8" y="79.8" width="1" height="1" fill="#4391b1"/>
<rect x="358.8" y="79.8" width="1" height="1" fill="#4f89bd"/>
<rect x="359.8" y="79.8" width="1" height="1" fill="#5e85c9" fill-opacity="0.67"/>
<rect x="308.8" y="80.8" width="1" height="1" fill="#96afdc" fill-opacity="0.33"/>
<rect x="310.8" y="80.8" width="1" height="1" fill="#7a9ad2" fill-opacity="0.67"/>
<rect x="311.8" y="80.8" width="2" height="1" fill="#5e85c9"/>
<rect x="313.8" y="80.8" width="2" height="1" fill="#7a9ad2" fill-opacity="0.67"/>
<rect x="315.8" y="80.8" width="1" height="1" fill="#5e85c9"/>
<rect x="316.8" y="80.8" width="1" height="1" fill="#4f89bd"/>
<rect x="317.8" y="80.8" width="1" height="1" fill="#5e85c9"/>
<rect x="318.8" y="80.8" width="1" height="1" fill="#7a9ad2" fill-opacity="0.67"/>
<rect x="319.8" y="80.8" width="1" height="1" fill="#96afdc" fill-opacity="0.33"/>
<rect x="323.8" y="80.8" width="1" height="1" fill="#7a9ad2" fill-opacity="0.67"/>
<rect x="324.8" y="80.8" width="2" height="1" fill="#5e85c9"/>
<rect x="326.8" y="80.8" width="1" height="1" fill="#5e85c9" fill-opacity="0.67"/>
<rect x="327.8" y="80.8" width="6" height="1" fill="#5e85c9"/>
<rect x="333.8" y="80.8" width="1" height="1" fill="#4f89bd"/>
<rect x="334.8" y="80.8" width="4" height="1" fill="#4391b1"/>
<rect x="338.8" y="80.8" width="1" height="1" fill="#409b98"/>
<rect x="339.8" y="80.8" width="3" height="1" fill="#4aa771"/>
<rect x="342.8" y="80.8" width="1" height="1" fill="#61b354"/>
<rect x="343.8" y="80.8" width="1" height="1" fill="#8dc045"/>
<rect x="344.8" y="80.8" width="3" height="1" fill="#b9c839"/>
<rect x="347.8" y="80.8" width="1" height="1" fill="#e2c833"/>
<rect x="348.8" y="80.8" width="1" height="1" fill="#eda42d"/>
<rect x="349.8" y="80.8" width="2" height="1" fill="#f07828"/>
<rect x="351.8" y="80.8" width="2" height="1" fill="#eda42d"/>
<rect x="353.8" y="80.8" width="1" height="1" fill="#e2c833"/>
<rect x="354.8" y="80.8" width="1" height="1" fill="#b9c839"/>
<rect x="355.8" y="80.8" width="1" height="1" fill="#8dc045"/>
<rect x="356.8" y="80.8" width="1" height="1" fill="#61b354"/>
<rect x="357.8" y="80.8" width="1" height="1" fill="#409b98"/>
<rect x="358.8" y="80.8" width="1" height="1" fill="#4391b1"/>
<rect x="359.8" y="80.8" width="1" height="1" fill="#4f89bd"/>
<rect x="360.8" y="80.8" width="2" height="1" fill="#7a9ad2" fill-opacity="0.67"/>
<rect x="363.8" y="80.8" width="1" height="1" fill="#96afdc" fill-opacity="0.33"/>
<rect x="310.8" y="81.8" width="5" height="1" fill="#7a9ad2" fill-opacity="0.67"/>
<rect x="315.8" y="81.8" width="2" height="1" fill="#5e85c9"/>
<rect x="317.8" y="81.8" width="1" height="1" fill="#7a9ad2" fill-opacity="0.67"/>
<rect x="321.8" y="81.8" width="1" height="1" fill="#96afdc" fill-opacity="0.33"/>
<rect x="322.8" y="81.8" width="2" height="1" fill="#7a9ad2" fill-opacity="0.67"/>
<rect x="324.8" y="81.8" width="7" height="1" fill="#5e85c9"/>
<rect x="331.8" y="81.8" width="3" height="1" fill="#4f89bd"/>
<rect x="334.8" y="81.8" width="3" height="1" fill="#4391b1"/>
<rect x="337.8" y="81.8" width="3" height="1" fill="#409b98"/>
<rect x="340.8" y="81.8" width="1" height="1" fill="#61b354"/>
<rect x="341.8" y="81.8" width="3" height="1" fill="#8dc045"/>
<rect x="344.8" y="81.8" width="2" height="1" fill="#b9c839"/>
<rect x="346.8" y="81.8" width="1" height="1" fill="#e2c833"/>
<rect x="347.8" y="81.8" width="1" height="1" fill="#eda42d"/>
<rect x="348.8" y="81.8" width="4" height="1" fill="#f07828"/>
<rect x="352.8" y="81.8" width="2" height="1" fill="#eda42d"/>
<rect x="354.8" y="81.8" width="1" height="1" fill="#b9c839"/>
<rect x="355.8" y="81.8" width="1" height="1" fill="#8dc045"/>
<rect x="356.8" y="81.8" width="1" height="1" fill="#61b354"/>
<rect x="357.8" y="81.8" width="1" height="1" fill="#409b98"/>
<rect x="358.8" y="81.8" width="1" height="1" fill="#4391b1"/>
<rect x="359.8" y="81.8" width="1" height="1" fill="#4f89bd"/>
<rect x="360.8" y="81.8" width="1" height="1" fill="#5e85c9"/>
<rect x="361.8" y="81.8" width="2" height="1" fill="#7a9ad2" fill-opacity="0.67"/>
<rect x="310.8" y="82.8" width="1" height="1" fill="#96afdc" fill-opacity="0.33"/>
<rect x="312.8" y="82.8" width="6" height="1" fill="#7a9ad2" fill-opacity="0.67"/>
<rect x="322.8" y="82.8" width="1" height="1" fill="#7a9ad2" fill-opacity="0.67"/>
<rect x="323.8" y="82.8" width="1" height="1" fill="#5e85c9"/>
<rect x="324.8" y="82.8" width="2" height="1" fill="#4f89bd"/>
<rect x="326.8" y="82.8" width="4" height="1" fill="#5e85c9"/>
<rect x="330.8" y="82.8" width="4" height="1" fill="#4f89bd"/>
<rect x="334.8" y="82.8" width="2" height="1" fill="#4391b1"/>
<rect x="336.8" y="82.8" width="1" height="1" fill="#4f89bd"/>
<rect x="337.8" y="82.8" width="3" height="1" fill="#409b98"/>
<rect x="340.8" y="82.8" width="1" height="1" fill="#4aa771"/>
<rect x="341.8" y="82.8" width="1" height="1" fill="#61b354"/>
<rect x="342.8" y="82.8" width="3" height="1" fill="#8dc045"/>
<rect x="345.8" y="82.8" width="1" height="1" fill="#b9c839"/>
<rect x="346.8" y="82.8" width="1" height="1" fill="#e2c833"/>
<rect x="347.8" y="82.8" width="1" height="1" fill="#eda42d"/>
<rect x="348.8" y="82.8" width="1" height="1" fill="#f07828"/>
<rect x="349.8" y="82.8" width="4" height="1" fill="#eda42d"/>
<rect x="353.8" y="82.8" width="1" height="1" fill="#e2c833"/>
<rect x="354.8" y="82.8" width="1" height="1" fill="#b9c839"/>
<rect x="355.8" y="82.8" width="1" height="1" fill="#8dc045"/>
<rect x="356.8" y="82.8" width="1" height="1" fill="#4aa771"/>
<rect x="357.8" y="82.8" width="1" height="1" fill="#409b98"/>
<rect x="358.8" y="82.8" width="1" height="1" fill="#4391b1"/>
<rect x="359.8" y="82.8" width="1" height="1" fill="#4f89bd"/>
<rect x="360.8" y="82.8" width="1" height="1" fill="#5e85c9"/>
<rect x="361.8" y="82.8" width="2" height="1" fill="#7a9ad2" fill-opacity="0.67"/>
<rect x="307.8" y="83.8" width="1" height="1" fill="#96afdc" fill-opacity="0.33"/>
<rect x="312.8" y="83.8" width="1" height="1" fill="#7a9ad2" fill-opacity="0.33"/>
<rect x="313.8" y="83.8" width="5" height="1" fill="#7a9ad2" fill-opacity="0.67"/>
<rect x="319.8" y="83.8" width="1" height="1" fill="#96afdc" fill-opacity="0.33"/>
<rect x="321.8" y="83.8" width="1" height="1" fill="#96afdc" fill-opacity="0.33"/>
<rect x="322.8" y="83.8" width="1" height="1" fill="#7a9ad2" fill-opacity="0.67"/>
<rect x="323.8" y="83.8" width="4" height="1" fill="#5e85c9"/>
<rect x="327.8" y="83.8" width="1" height="1" fill="#5e85c9" fill-opacity="0.67"/>
<rect x="328.8" y="83.8" width="1" height="1" fill="#5e85c9"/>
<rect x="329.8" y="83.8" width="1" height="1" fill="#4f89bd"/>
<rect x="330.8" y="83.8" width="4" height="1" fill="#5e85c9"/>
<rect x="334.8" y="83.8" width="3" height="1" fill="#4f89bd"/>
<rect x="337.8" y="83.8" width="1" height="1" fill="#4391b1"/>
<rect x="338.8" y="83.8" width="1" height="1" fill="#409b98"/>
<rect x="339.8" y="83.8" width="1" height="1" fill="#4391b1"/>
<rect x="340.8" y="83.8" width="1" height="1" fill="#409b98"/>
<rect x="341.8" y="83.8" width="2" height="1" fill="#4aa771"/>
<rect x="343.8" y="83.8" width="2" height="1" fill="#61b354"/>
<rect x="345.8" y="83.8" width="2" height="1" fill="#8dc045"/>
<rect x="347.8" y="83.8" width="1" height="1" fill="#b9c839"/>
<rect x="348.8" y="83.8" width="2" height="1" fill="#e2c833"/>
<rect x="350.8" y="83.8" width="3" height="1" fill="#b9c839"/>
<rect x="353.8" y="83.8" width="1" height="1" fill="#8dc045"/>
<rect x="354.8" y="83.8" width="1" height="1" fill="#61b354"/>
<rect x="355.8" y="83.8" width="1" height="1" fill="#4aa771"/>
<rect x="356.8" y="83.8" width="1" height="1" fill="#409b98"/>
<rect x="357.8" y="83.8" width="1" height="1" fill="#4391b1"/>
<rect x="358.8" y="83.8" width="1" height="1" fill="#4f89bd"/>
<rect x="359.8" y="83.8" width="1" height="1" fill="#5e85c9"/>
<rect x="360.8" y="83.8" width="1" height="1" fill="#5e85c9" fill-opacity="0.67"/>
<rect x="361.8" y="83.8" width="1" height="1" fill="#7a9ad2" fill-opacity="0.67"/>
<rect x="312.8" y="84.8" width="4" height="1" fill="#7a9ad2" fill-opacity="0.67"/>
<rect x="316.8" y="84.8" width="1" height="1" fill="#5e85c9" fill-opacity="0.67"/>
<rect x="317.8" y="84.8" width="1" height="1" fill="#7a9ad2" fill-opacity="0.67"/>
<rect x="322.8" y="84.8" width="1" height="1" fill="#7a9ad2" fill-opacity="0.67"/>
<rect x="323.8" y="84.8" width="2" height="1" fill="#5e85c9"/>
<rect x="325.8" y="84.8" width="3" height="1" fill="#7a9ad2" fill-opacity="0.67"/>
<rect x="328.8" y="84.8" width="3" height="1" fill="#5e85c9"/>
<rect x="331.8" y="84.8" width="3" height="1" fill="#7a9ad2" fill-opacity="0.67"/>
<rect x="334.8" y="84.8" width="3" height="1" fill="#5e85c9"/>
<rect x="337.8" y="84.8" width="4" height="1" fill="#4f89bd"/>
<rect x="341.8" y="84.8" width="1" height="1" fill="#4391b1"/>
<rect x="342.8" y="84.8" width="3" height="1" fill="#409b98"/>
<rect x="345.8" y="84.8" width="3" height="1" fill="#4aa771"/>
<rect x="348.8" y="84.8" width="1" height="1" fill="#61b354"/>
<rect x="349.8" y="84.8" width="1" height="1" fill="#8dc045"/>
<rect x="350.8" y="84.8" width="1" height="1" fill="#61b354"/>
<rect x="351.8" y="84.8" width="3" height="1" fill="#4aa771"/>
<rect x="354.8" y="84.8" width="1" height="1" fill="#409b98"/>
<rect x="355.8" y="84.8" width="1" height="1" fill="#4391b1"/>
<rect x="356.8" y="84.8" width="3" height="1" fill="#4f89bd"/>
<rect x="359.8" y="84.8" width="1" height="1" fill="#5e85c9" fill-opacity="0.67"/>
<rect x="360.8" y="84.8" width="1" height="1" fill="#7a9ad2" fill-opacity="0.67"/>
<rect x="311.8" y="85.8" width="1" height="1" fill="#96afdc" fill-opacity="0.33"/>
<rect x="312.8" y="85.8" width="1" height="1" fill="#7a9ad2" fill-opacity="0.33"/>
<rect x="313.8" y="85.8" width="3" height="1" fill="#7a9ad2" fill-opacity="0.67"/>
<rect x="316.8" y="85.8" width="1" height="1" fill="#5e85c9" fill-opacity="0.67"/>
<rect x="317.8" y="85.8" width="1" height="1" fill="#7a9ad2" fill-opacity="0.67"/>
<rect x="323.8" y="85.8" width="2" height="1" fill="#7a9ad2" fill-opacity="0.67"/>
<rect x="326.8" y="85.8" width="3" height="1" fill="#7a9ad2" fill-opacity="0.67"/>
<rect x="329.8" y="85.8" width="2" height="1" fill="#5e85c9" fill-opacity="0.67"/>
<rect x="331.8" y="85.8" width="4" height="1" fill="#7a9ad2" fill-opacity="0.67"/>
<rect x="335.8" y="85.8" width="7" height="1" fill="#5e85c9"/>
<rect x="342.8" y="85.8" width="4" height="1" fill="#4f89bd"/>
<rect x="346.8" y="85.8" width="3" height="1" fill="#4391b1"/>
<rect x="349.8" y="85.8" width="2" height="1" fill="#409b98"/>
<rect x="351.8" y="85.8" width="3" height="1" fill="#4391b1"/>
<rect x="354.8" y="85.8" width="2" height="1" fill="#4f89bd"/>
<rect x="356.8" y="85.8" width="1" height="1" fill="#5e85c9" fill-opacity="0.67"/>
<rect x="357.8" y="85.8" width="3" height="1" fill="#7a9ad2" fill-opacity="0.67"/>
<rect x="363.8" y="85.8" width="1" height="1" fill="#96afdc" fill-opacity="0.33"/>
<rect x="307.8" y="86.8" width="1" height="1" fill="#96afdc" fill-opacity="0.33"/>
<rect x="309.8" y="86.8" width="2" height="1" fill="#96afdc" fill-opacity="0.33"/>
<rect x="313.8" y="86.8" width="2" height="1" fill="#7a9ad2" fill-opacity="0.67"/>
<rect x="316.8" y="86.8" width="1" height="1" fill="#7a9ad2" fill-opacity="0.67"/>
<rect x="317.8" y="86.8" width="1" height="1" fill="#7a9ad2" fill-opacity="0.33"/>
<rect x="326.8" y="86.8" width="1" height="1" fill="#96afdc" fill-opacity="0.33"/>
<rect x="327.8" y="86.8" width="4" height="1" fill="#7a9ad2" fill-opacity="0.67"/>
<rect x="334.8" y="86.8" width="15" height="1" fill="#7a9ad2" fill-opacity="0.67"/>
<rect x="349.8" y="86.8" width="4" height="1" fill="#5e85c9"/>
<rect x="353.8" y="86.8" width="1" height="1" fill="#5e85c9" fill-opacity="0.67"/>
<rect x="354.8" y="86.8" width="3" height="1" fill="#7a9ad2" fill-opacity="0.67"/>
</g>
<rect x="303.30" y="26.3" width="62.8" height="62.70" fill="none" stroke="#333" stroke-width="0.9"/>
<line x1="324.60" y1="26.30" x2="324.60" y2="89.00" stroke="#333" stroke-width="0.9" />
<line x1="303.30" y1="69.30" x2="366.10" y2="69.30" stroke="#333" stroke-width="0.9" />
<line x1="302.10" y1="85.00" x2="303.30" y2="85.00" stroke="#444" stroke-width="0.6" />
<line x1="302.10" y1="74.00" x2="303.30" y2="74.00" stroke="#444" stroke-width="0.6" />
<line x1="302.10" y1="63.00" x2="303.30" y2="63.00" stroke="#444" stroke-width="0.6" />
<line x1="302.10" y1="52.00" x2="303.30" y2="52.00" stroke="#444" stroke-width="0.6" />
<line x1="302.10" y1="41.00" x2="303.30" y2="41.00" stroke="#444" stroke-width="0.6" />
<line x1="302.10" y1="30.00" x2="303.30" y2="30.00" stroke="#444" stroke-width="0.6" />
<line x1="307.30" y1="89.00" x2="307.30" y2="90.20" stroke="#444" stroke-width="0.6" />
<line x1="318.30" y1="89.00" x2="318.30" y2="90.20" stroke="#444" stroke-width="0.6" />
<line x1="329.30" y1="89.00" x2="329.30" y2="90.20" stroke="#444" stroke-width="0.6" />
<line x1="340.30" y1="89.00" x2="340.30" y2="90.20" stroke="#444" stroke-width="0.6" />
<line x1="351.30" y1="89.00" x2="351.30" y2="90.20" stroke="#444" stroke-width="0.6" />
<line x1="362.30" y1="89.00" x2="362.30" y2="90.20" stroke="#444" stroke-width="0.6" />
<text x="304.80" y="32.30" font-size="6.1" fill="#333" >4.52</text>
<text x="364.70" y="32.30" font-size="6.1" text-anchor="end" fill="#333" >0.41</text>
<text x="304.30" y="87.40" font-size="6.1" fill="#333" >19.9</text>
<text x="365.10" y="87.40" font-size="6.1" text-anchor="end" fill="#333" >75.2</text>
<text x="406.30" y="22.80" font-size="7.2" text-anchor="middle" textLength="23.00" lengthAdjust="spacingAndGlyphs" >R307C</text>
<g filter="url(#fblur)">
<rect x="389.4" y="49.8" width="1" height="1" fill="#96afdc" fill-opacity="0.33"/>
<rect x="383.4" y="51.8" width="1" height="1" fill="#96afdc" fill-opacity="0.33"/>
<rect x="384.4" y="54.8" width="2" height="1" fill="#96afdc" fill-opacity="0.33"/>
<rect x="380.4" y="55.8" width="1" height="1" fill="#96afdc" fill-opacity="0.33"/>
<rect x="392.4" y="55.8" width="1" height="1" fill="#96afdc" fill-opacity="0.33"/>
<rect x="380.4" y="56.8" width="2" height="1" fill="#96afdc" fill-opacity="0.33"/>
<rect x="388.4" y="56.8" width="2" height="1" fill="#96afdc" fill-opacity="0.33"/>
<rect x="394.4" y="56.8" width="1" height="1" fill="#96afdc" fill-opacity="0.33"/>
<rect x="382.4" y="57.8" width="1" height="1" fill="#7a9ad2" fill-opacity="0.33"/>
<rect x="383.4" y="57.8" width="1" height="1" fill="#96afdc" fill-opacity="0.33"/>
<rect x="385.4" y="57.8" width="1" height="1" fill="#7a9ad2" fill-opacity="0.67"/>
<rect x="381.4" y="58.8" width="2" height="1" fill="#96afdc" fill-opacity="0.33"/>
<rect x="384.4" y="58.8" width="5" height="1" fill="#7a9ad2" fill-opacity="0.67"/>
<rect x="384.4" y="59.8" width="2" height="1" fill="#7a9ad2" fill-opacity="0.67"/>
<rect x="386.4" y="59.8" width="1" height="1" fill="#5e85c9" fill-opacity="0.67"/>
<rect x="387.4" y="59.8" width="1" height="1" fill="#5e85c9"/>
<rect x="388.4" y="59.8" width="1" height="1" fill="#5e85c9" fill-opacity="0.67"/>
<rect x="389.4" y="59.8" width="1" height="1" fill="#7a9ad2" fill-opacity="0.67"/>
<rect x="390.4" y="59.8" width="1" height="1" fill="#96afdc" fill-opacity="0.33"/>
<rect x="410.4" y="59.8" width="1" height="1" fill="#96afdc" fill-opacity="0.33"/>
<rect x="381.4" y="60.8" width="1" height="1" fill="#96afdc" fill-opacity="0.33"/>
<rect x="382.4" y="60.8" width="1" height="1" fill="#7a9ad2" fill-opacity="0.33"/>
<rect x="383.4" y="60.8" width="4" height="1" fill="#7a9ad2" fill-opacity="0.67"/>
<rect x="387.4" y="60.8" width="1" height="1" fill="#5e85c9"/>
<rect x="388.4" y="60.8" width="1" height="1" fill="#5e85c9" fill-opacity="0.67"/>
<rect x="389.4" y="60.8" width="1" height="1" fill="#7a9ad2" fill-opacity="0.67"/>
<rect x="392.4" y="60.8" width="1" height="1" fill="#96afdc" fill-opacity="0.33"/>
<rect x="379.4" y="61.8" width="1" height="1" fill="#96afdc" fill-opacity="0.33"/>
<rect x="381.4" y="61.8" width="1" height="1" fill="#7a9ad2" fill-opacity="0.33"/>
<rect x="382.4" y="61.8" width="2" height="1" fill="#7a9ad2" fill-opacity="0.67"/>
<rect x="384.4" y="61.8" width="2" height="1" fill="#5e85c9"/>
<rect x="386.4" y="61.8" width="4" height="1" fill="#7a9ad2" fill-opacity="0.67"/>
<rect x="413.4" y="61.8" width="1" height="1" fill="#96afdc" fill-opacity="0.33"/>
<rect x="380.4" y="62.8" width="2" height="1" fill="#7a9ad2" fill-opacity="0.67"/>
<rect x="382.4" y="62.8" width="1" height="1" fill="#5e85c9" fill-opacity="0.67"/>
<rect x="383.4" y="62.8" width="1" height="1" fill="#5e85c9"/>
<rect x="384.4" y="62.8" width="2" height="1" fill="#4f89bd"/>
<rect x="386.4" y="62.8" width="1" height="1" fill="#5e85c9"/>
<rect x="387.4" y="62.8" width="1" height="1" fill="#5e85c9" fill-opacity="0.67"/>
<rect x="388.4" y="62.8" width="1" height="1" fill="#7a9ad2" fill-opacity="0.67"/>
<rect x="389.4" y="62.8" width="1" height="1" fill="#7a9ad2" fill-opacity="0.33"/>
<rect x="379.4" y="63.8" width="2" height="1" fill="#7a9ad2" fill-opacity="0.67"/>
<rect x="381.4" y="63.8" width="1" height="1" fill="#5e85c9" fill-opacity="0.67"/>
<rect x="382.4" y="63.8" width="1" height="1" fill="#5e85c9"/>
<rect x="383.4" y="63.8" width="4" height="1" fill="#4f89bd"/>
<rect x="387.4" y="63.8" width="1" height="1" fill="#5e85c9"/>
<rect x="388.4" y="63.8" width="1" height="1" fill="#5e85c9" fill-opacity="0.67"/>
<rect x="389.4" y="63.8" width="1" height="1" fill="#7a9ad2" fill-opacity="0.67"/>
<rect x="390.4" y="63.8" width="1" height="1" fill="#7a9ad2" fill-opacity="0.33"/>
<rect x="397.4" y="63.8" width="1" height="1" fill="#96afdc" fill-opacity="0.33"/>
<rect x="379.4" y="64.8" width="2" height="1" fill="#7a9ad2" fill-opacity="0.67"/>
<rect x="381.4" y="64.8" width="2" height="1" fill="#5e85c9"/>
<rect x="383.4" y="64.8" width="3" height="1" fill="#4f89bd"/>
<rect x="386.4" y="64.8" width="1" height="1" fill="#4391b1"/>
<rect x="387.4" y="64.8" width="1" height="1" fill="#4f89bd"/>
<rect x="388.4" y="64.8" width="2" height="1" fill="#5e85c9"/>
<rect x="390.4" y="64.8" width="1" height="1" fill="#5e85c9" fill-opacity="0.67"/>
<rect x="391.4" y="64.8" width="1" height="1" fill="#7a9ad2" fill-opacity="0.67"/>
<rect x="378.4" y="65.8" width="1" height="1" fill="#96afdc" fill-opacity="0.33"/>
<rect x="379.4" y="65.8" width="2" height="1" fill="#7a9ad2" fill-opacity="0.67"/>
<rect x="381.4" y="65.8" width="2" height="1" fill="#5e85c9"/>
<rect x="383.4" y="65.8" width="2" height="1" fill="#4f89bd"/>
<rect x="385.4" y="65.8" width="2" height="1" fill="#4391b1"/>
<rect x="387.4" y="65.8" width="1" height="1" fill="#4f89bd"/>
<rect x="388.4" y="65.8" width="3" height="1" fill="#5e85c9"/>
<rect x="391.4" y="65.8" width="1" height="1" fill="#7a9ad2" fill-opacity="0.67"/>
<rect x="419.4" y="65.8" width="1" height="1" fill="#96afdc" fill-opacity="0.33"/>
<rect x="377.4" y="66.8" width="1" height="1" fill="#96afdc" fill-opacity="0.33"/>
<rect x="378.4" y="66.8" width="3" height="1" fill="#7a9ad2" fill-opacity="0.67"/>
<rect x="381.4" y="66.8" width="1" height="1" fill="#5e85c9" fill-opacity="0.67"/>
<rect x="382.4" y="66.8" width="1" height="1" fill="#5e85c9"/>
<rect x="383.4" y="66.8" width="1" height="1" fill="#4f89bd"/>
<rect x="384.4" y="66.8" width="3" height="1" fill="#4391b1"/>
<rect x="387.4" y="66.8" width="2" height="1" fill="#4f89bd"/>
<rect x="389.4" y="66.8" width="2" height="1" fill="#5e85c9"/>
<rect x="391.4" y="66.8" width="1" height="1" fill="#7a9ad2" fill-opacity="0.67"/>
<rect x="392.4" y="66.8" width="1" height="1" fill="#96afdc" fill-opacity="0.33"/>
<rect x="394.4" y="66.8" width="1" height="1" fill="#96afdc" fill-opacity="0.33"/>
<rect x="400.4" y="66.8" width="1" height="1" fill="#96afdc" fill-opacity="0.33"/>
<rect x="377.4" y="67.8" width="1" height="1" fill="#96afdc" fill-opacity="0.33"/>
<rect x="378.4" y="67.8" width="1" height="1" fill="#7a9ad2" fill-opacity="0.33"/>
<rect x="379.4" y="67.8" width="2" height="1" fill="#7a9ad2" fill-opacity="0.67"/>
<rect x="381.4" y="67.8" width="1" height="1" fill="#5e85c9"/>
<rect x="382.4" y="67.8" width="1" height="1" fill="#4f89bd"/>
<rect x="383.4" y="67.8" width="5" height="1" fill="#4391b1"/>
<rect x="388.4" y="67.8" width="1" height="1" fill="#4f89bd"/>
<rect x="389.4" y="67.8" width="1" height="1" fill="#5e85c9"/>
<rect x="390.4" y="67.8" width="2" height="1" fill="#7a9ad2" fill-opacity="0.67"/>
<rect x="404.4" y="67.8" width="1" height="1" fill="#96afdc" fill-opacity="0.33"/>
<rect x="418.4" y="67.8" width="1" height="1" fill="#96afdc" fill-opacity="0.33"/>
<rect x="379.4" y="68.8" width="1" height="1" fill="#7a9ad2" fill-opacity="0.67"/>
<rect x="380.4" y="68.8" width="1" height="1" fill="#5e85c9" fill-opacity="0.67"/>
<rect x="381.4" y="68.8" width="1" height="1" fill="#4f89bd"/>
<rect x="382.4" y="68.8" width="6" height="1" fill="#4391b1"/>
<rect x="388.4" y="68.8" width="1" height="1" fill="#4f89bd"/>
<rect x="389.4" y="68.8" width="1" height="1" fill="#5e85c9"/>
<rect x="390.4" y="68.8" width="2" height="1" fill="#7a9ad2" fill-opacity="0.67"/>
<rect x="376.4" y="69.8" width="2" height="1" fill="#96afdc" fill-opacity="0.33"/>
<rect x="379.4" y="69.8" width="1" height="1" fill="#7a9ad2" fill-opacity="0.67"/>
<rect x="380.4" y="69.8" width="1" height="1" fill="#5e85c9"/>
<rect x="381.4" y="69.8" width="1" height="1" fill="#4f89bd"/>
<rect x="382.4" y="69.8" width="6" height="1" fill="#4391b1"/>
<rect x="388.4" y="69.8" width="1" height="1" fill="#4f89bd"/>
<rect x="389.4" y="69.8" width="2" height="1" fill="#5e85c9"/>
<rect x="391.4" y="69.8" width="2" height="1" fill="#7a9ad2" fill-opacity="0.67"/>
<rect x="412.4" y="69.8" width="1" height="1" fill="#96afdc" fill-opacity="0.33"/>
<rect x="379.4" y="70.8" width="1" height="1" fill="#7a9ad2" fill-opacity="0.67"/>
<rect x="380.4" y="70.8" width="1" height="1" fill="#5e85c9"/>
<rect x="381.4" y="70.8" width="1" height="1" fill="#4f89bd"/>
<rect x="382.4" y="70.8" width="1" height="1" fill="#4391b1"/>
<rect x="383.4" y="70.8" width="2" height="1" fill="#409b98"/>
<rect x="385.4" y="70.8" width="4" height="1" fill="#4391b1"/>
<rect x="389.4" y="70.8" width="1" height="1" fill="#4f89bd"/>
<rect x="390.4" y="70.8" width="1" height="1" fill="#5e85c9"/>
<rect x="391.4" y="70.8" width="2" height="1" fill="#7a9ad2" fill-opacity="0.67"/>
<rect x="393.4" y="70.8" width="1" height="1" fill="#96afdc" fill-opacity="0.33"/>
<rect x="377.4" y="71.8" width="2" height="1" fill="#96afdc" fill-opacity="0.33"/>
<rect x="379.4" y="71.8" width="1" height="1" fill="#7a9ad2" fill-opacity="0.67"/>
<rect x="380.4" y="71.8" width="1" height="1" fill="#5e85c9" fill-opacity="0.67"/>
<rect x="381.4" y="71.8" width="1" height="1" fill="#4f89bd"/>
<rect x="382.4" y="71.8" width="1" height="1" fill="#4391b1"/>
<rect x="383.4" y="71.8" width="5" height="1" fill="#409b98"/>
<rect x="388.4" y="71.8" width="1" height="1" fill="#4391b1"/>
<rect x="389.4" y="71.8" width="1" height="1" fill="#4f89bd"/>
<rect x="390.4" y="71.8" width="1" height="1" fill="#5e85c9"/>
<rect x="391.4" y="71.8" width="2" height="1" fill="#7a9ad2" fill-opacity="0.67"/>
<rect x="403.4" y="71.8" width="1" height="1" fill="#96afdc" fill-opacity="0.33"/>
<rect x="411.4" y="71.8" width="1" height="1" fill="#96afdc" fill-opacity="0.33"/>
<rect x="376.4" y="72.8" width="1" height="1" fill="#96afdc" fill-opacity="0.33"/>
<rect x="379.4" y="72.8" width="1" height="1" fill="#7a9ad2" fill-opacity="0.67"/>
<rect x="380.4" y="72.8" width="1" height="1" fill="#5e85c9"/>
<rect x="381.4" y="72.8" width="1" height="1" fill="#4f89bd"/>
<rect x="382.4" y="72.8" width="1" height="1" fill="#4391b1"/>
<rect x="383.4" y="72.8" width="3" height="1" fill="#409b98"/>
<rect x="386.4" y="72.8" width="2" height="1" fill="#4aa771"/>
<rect x="388.4" y="72.8" width="1" height="1" fill="#4391b1"/>
<rect x="389.4" y="72.8" width="1" height="1" fill="#4f89bd"/>
<rect x="390.4" y="72.8" width="1" height="1" fill="#5e85c9"/>
<rect x="391.4" y="72.8" width="2" height="1" fill="#7a9ad2" fill-opacity="0.67"/>
<rect x="400.4" y="72.8" width="1" height="1" fill="#96afdc" fill-opacity="0.33"/>
<rect x="402.4" y="72.8" width="1" height="1" fill="#96afdc" fill-opacity="0.33"/>
<rect x="412.4" y="72.8" width="1" height="1" fill="#96afdc" fill-opacity="0.33"/>
<rect x="425.4" y="72.8" width="1" height="1" fill="#96afdc" fill-opacity="0.33"/>
<rect x="379.4" y="73.8" width="1" height="1" fill="#7a9ad2" fill-opacity="0.67"/>
<rect x="380.4" y="73.8" width="1" height="1" fill="#5e85c9"/>
<rect x="381.4" y="73.8" width="1" height="1" fill="#4f89bd"/>
<rect x="382.4" y="73.8" width="1" height="1" fill="#4391b1"/>
<rect x="383.4" y="73.8" width="1" height="1" fill="#409b98"/>
<rect x="384.4" y="73.8" width="4" height="1" fill="#4aa771"/>
<rect x="388.4" y="73.8" width="1" height="1" fill="#409b98"/>
<rect x="389.4" y="73.8" width="1" height="1" fill="#4f89bd"/>
<rect x="390.4" y="73.8" width="1" height="1" fill="#5e85c9"/>
<rect x="391.4" y="73.8" width="3" height="1" fill="#7a9ad2" fill-opacity="0.67"/>
<rect x="398.4" y="73.8" width="1" height="1" fill="#96afdc" fill-opacity="0.33"/>
<rect x="400.4" y="73.8" width="1" height="1" fill="#96afdc" fill-opacity="0.33"/>
<rect x="403.4" y="73.8" width="1" height="1" fill="#96afdc" fill-opacity="0.33"/>
<rect x="413.4" y="73.8" width="2" height="1" fill="#96afdc" fill-opacity="0.33"/>
<rect x="378.4" y="74.8" width="1" height="1" fill="#7a9ad2" fill-opacity="0.67"/>
<rect x="379.4" y="74.8" width="1" height="1" fill="#5e85c9" fill-opacity="0.67"/>
<rect x="380.4" y="74.8" width="1" height="1" fill="#4f89bd"/>
<rect x="381.4" y="74.8" width="1" height="1" fill="#4391b1"/>
<rect x="382.4" y="74.8" width="1" height="1" fill="#409b98"/>
<rect x="383.4" y="74.8" width="2" height="1" fill="#4aa771"/>
<rect x="385.4" y="74.8" width="1" height="1" fill="#61b354"/>
<rect x="386.4" y="74.8" width="2" height="1" fill="#4aa771"/>
<rect x="388.4" y="74.8" width="1" height="1" fill="#409b98"/>
<rect x="389.4" y="74.8" width="1" height="1" fill="#4391b1"/>
<rect x="390.4" y="74.8" width="1" height="1" fill="#4f89bd"/>
<rect x="391.4" y="74.8" width="1" height="1" fill="#5e85c9" fill-opacity="0.67"/>
<rect x="392.4" y="74.8" width="2" height="1" fill="#7a9ad2" fill-opacity="0.67"/>
<rect x="398.4" y="74.8" width="1" height="1" fill="#96afdc" fill-opacity="0.33"/>
<rect x="400.4" y="74.8" width="1" height="1" fill="#96afdc" fill-opacity="0.33"/>
<rect x="403.4" y="74.8" width="1" height="1" fill="#96afdc" fill-opacity="0.33"/>
<rect x="406.4" y="74.8" width="2" height="1" fill="#96afdc" fill-opacity="0.33"/>
<rect x="411.4" y="74.8" width="1" height="1" fill="#96afdc" fill-opacity="0.33"/>
<rect x="421.4" y="74.8" width="1" height="1" fill="#96afdc" fill-opacity="0.33"/>
<rect x="378.4" y="75.8" width="1" height="1" fill="#7a9ad2" fill-opacity="0.67"/>
<rect x="379.4" y="75.8" width="1" height="1" fill="#5e85c9"/>
<rect x="380.4" y="75.8" width="1" height="1" fill="#4f89bd"/>
<rect x="381.4" y="75.8" width="1" height="1" fill="#4391b1"/>
<rect x="382.4" y="75.8" width="1" height="1" fill="#4aa771"/>
<rect x="383.4" y="75.8" width="1" height="1" fill="#61b354"/>
<rect x="384.4" y="75.8" width="3" height="1" fill="#8dc045"/>
<rect x="387.4" y="75.8" width="1" height="1" fill="#61b354"/>
<rect x="388.4" y="75.8" width="1" height="1" fill="#4aa771"/>
<rect x="389.4" y="75.8" width="1" height="1" fill="#4391b1"/>
<rect x="390.4" y="75.8" width="1" height="1" fill="#4f89bd"/>
<rect x="391.4" y="75.8" width="1" height="1" fill="#5e85c9"/>
<rect x="392.4" y="75.8" width="2" height="1" fill="#7a9ad2" fill-opacity="0.67"/>
<rect x="395.4" y="75.8" width="3" height="1" fill="#7a9ad2" fill-opacity="0.67"/>
<rect x="405.4" y="75.8" width="2" height="1" fill="#7a9ad2" fill-opacity="0.67"/>
<rect x="411.4" y="75.8" width="2" height="1" fill="#7a9ad2" fill-opacity="0.67"/>
<rect x="424.4" y="75.8" width="1" height="1" fill="#96afdc" fill-opacity="0.33"/>
<rect x="378.4" y="76.8" width="1" height="1" fill="#7a9ad2" fill-opacity="0.67"/>
<rect x="379.4" y="76.8" width="1" height="1" fill="#5e85c9" fill-opacity="0.67"/>
<rect x="380.4" y="76.8" width="1" height="1" fill="#4f89bd"/>
<rect x="381.4" y="76.8" width="1" height="1" fill="#409b98"/>
<rect x="382.4" y="76.8" width="1" height="1" fill="#4aa771"/>
<rect x="383.4" y="76.8" width="1" height="1" fill="#61b354"/>
<rect x="384.4" y="76.8" width="3" height="1" fill="#b9c839"/>
<rect x="387.4" y="76.8" width="1" height="1" fill="#8dc045"/>
<rect x="388.4" y="76.8" width="1" height="1" fill="#4aa771"/>
<rect x="389.4" y="76.8" width="1" height="1" fill="#4391b1"/>
<rect x="390.4" y="76.8" width="1" height="1" fill="#4f89bd"/>
<rect x="391.4" y="76.8" width="1" height="1" fill="#5e85c9"/>
<rect x="392.4" y="76.8" width="3" height="1" fill="#7a9ad2" fill-opacity="0.67"/>
<rect x="395.4" y="76.8" width="2" height="1" fill="#5e85c9"/>
<rect x="397.4" y="76.8" width="1" height="1" fill="#7a9ad2" fill-opacity="0.67"/>
<rect x="399.4" y="76.8" width="2" height="1" fill="#7a9ad2" fill-opacity="0.67"/>
<rect x="403.4" y="76.8" width="9" height="1" fill="#7a9ad2" fill-opacity="0.67"/>
<rect x="412.4" y="76.8" width="1" height="1" fill="#5e85c9" fill-opacity="0.67"/>
<rect x="413.4" y="76.8" width="2" height="1" fill="#7a9ad2" fill-opacity="0.67"/>
<rect x="417.4" y="76.8" width="8" height="1" fill="#7a9ad2" fill-opacity="0.67"/>
<rect x="378.4" y="77.8" width="1" height="1" fill="#7a9ad2" fill-opacity="0.67"/>
<rect x="379.4" y="77.8" width="1" height="1" fill="#5e85c9" fill-opacity="0.67"/>
<rect x="380.4" y="77.8" width="1" height="1" fill="#4f89bd"/>
<rect x="381.4" y="77.8" width="1" height="1" fill="#409b98"/>
<rect x="382.4" y="77.8" width="1" height="1" fill="#4aa771"/>
<rect x="383.4" y="77.8" width="1" height="1" fill="#8dc045"/>
<rect x="384.4" y="77.8" width="2" height="1" fill="#e2c833"/>
<rect x="386.4" y="77.8" width="1" height="1" fill="#b9c839"/>
<rect x="387.4" y="77.8" width="1" height="1" fill="#8dc045"/>
<rect x="388.4" y="77.8" width="1" height="1" fill="#4aa771"/>
<rect x="389.4" y="77.8" width="1" height="1" fill="#4391b1"/>
<rect x="390.4" y="77.8" width="1" height="1" fill="#4f89bd"/>
<rect x="391.4" y="77.8" width="1" height="1" fill="#5e85c9"/>
<rect x="392.4" y="77.8" width="2" height="1" fill="#7a9ad2" fill-opacity="0.67"/>
<rect x="394.4" y="77.8" width="1" height="1" fill="#5e85c9"/>
<rect x="395.4" y="77.8" width="2" height="1" fill="#4f89bd"/>
<rect x="397.4" y="77.8" width="1" height="1" fill="#5e85c9"/>
<rect x="398.4" y="77.8" width="1" height="1" fill="#7a9ad2" fill-opacity="0.67"/>
<rect x="399.4" y="77.8" width="1" height="1" fill="#5e85c9" fill-opacity="0.67"/>
<rect x="400.4" y="77.8" width="3" height="1" fill="#5e85c9"/>
<rect x="403.4" y="77.8" width="3" height="1" fill="#4f89bd"/>
<rect x="406.4" y="77.8" width="6" height="1" fill="#5e85c9"/>
<rect x="412.4" y="77.8" width="2" height="1" fill="#5e85c9" fill-opacity="0.67"/>
<rect x="414.4" y="77.8" width="2" height="1" fill="#5e85c9"/>
<rect x="416.4" y="77.8" width="1" height="1" fill="#7a9ad2" fill-opacity="0.67"/>
<rect x="417.4" y="77.8" width="4" height="1" fill="#5e85c9"/>
<rect x="421.4" y="77.8" width="1" height="1" fill="#5e85c9" fill-opacity="0.67"/>
<rect x="422.4" y="77.8" width="1" height="1" fill="#7a9ad2" fill-opacity="0.67"/>
<rect x="423.4" y="77.8" width="2" height="1" fill="#5e85c9"/>
<rect x="425.4" y="77.8" width="1" height="1" fill="#7a9ad2" fill-opacity="0.67"/>
<rect x="378.4" y="78.8" width="1" height="1" fill="#7a9ad2" fill-opacity="0.67"/>
<rect x="379.4" y="78.8" width="1" height="1" fill="#5e85c9"/>
<rect x="380.4" y="78.8" width="1" height="1" fill="#4f89bd"/>
<rect x="381.4" y="78.8" width="1" height="1" fill="#409b98"/>
<rect x="382.4" y="78.8" width="1" height="1" fill="#61b354"/>
<rect x="383.4" y="78.8" width="1" height="1" fill="#8dc045"/>
<rect x="384.4" y="78.8" width="2" height="1" fill="#e2c833"/>
<rect x="386.4" y="78.8" width="1" height="1" fill="#b9c839"/>
<rect x="387.4" y="78.8" width="1" height="1" fill="#8dc045"/>
<rect x="388.4" y="78.8" width="1" height="1" fill="#4aa771"/>
<rect x="389.4" y="78.8" width="1" height="1" fill="#4391b1"/>
<rect x="390.4" y="78.8" width="1" height="1" fill="#4f89bd"/>
<rect x="391.4" y="78.8" width="1" height="1" fill="#5e85c9" fill-opacity="0.67"/>
<rect x="392.4" y="78.8" width="2" height="1" fill="#7a9ad2" fill-opacity="0.67"/>
<rect x="394.4" y="78.8" width="1" height="1" fill="#4f89bd"/>
<rect x="395.4" y="78.8" width="2" height="1" fill="#4391b1"/>
<rect x="397.4" y="78.8" width="1" height="1" fill="#4f89bd"/>
<rect x="398.4" y="78.8" width="9" height="1" fill="#4391b1"/>
<rect x="407.4" y="78.8" width="2" height="1" fill="#4f89bd"/>
<rect x="409.4" y="78.8" width="2" height="1" fill="#4391b1"/>
<rect x="411.4" y="78.8" width="1" height="1" fill="#4f89bd"/>
<rect x="412.4" y="78.8" width="1" height="1" fill="#5e85c9"/>
<rect x="413.4" y="78.8" width="1" height="1" fill="#4f89bd"/>
<rect x="414.4" y="78.8" width="2" height="1" fill="#4391b1"/>
<rect x="416.4" y="78.8" width="5" height="1" fill="#4f89bd"/>
<rect x="421.4" y="78.8" width="2" height="1" fill="#5e85c9"/>
<rect x="423.4" y="78.8" width="2" height="1" fill="#4f89bd"/>
<rect x="425.4" y="78.8" width="1" height="1" fill="#7a9ad2" fill-opacity="0.67"/>
<rect x="375.4" y="79.8" width="1" height="1" fill="#96afdc" fill-opacity="0.33"/>
<rect x="376.4" y="79.8" width="1" height="1" fill="#7a9ad2" fill-opacity="0.33"/>
<rect x="377.4" y="79.8" width="2" height="1" fill="#7a9ad2" fill-opacity="0.67"/>
<rect x="379.4" y="79.8" width="1" height="1" fill="#5e85c9"/>
<rect x="380.4" y="79.8" width="1" height="1" fill="#4f89bd"/>
<rect x="381.4" y="79.8" width="1" height="1" fill="#409b98"/>
<rect x="382.4" y="79.8" width="1" height="1" fill="#61b354"/>
<rect x="383.4" y="79.8" width="1" height="1" fill="#b9c839"/>
<rect x="384.4" y="79.8" width="1" height="1" fill="#e2c833"/>
<rect x="385.4" y="79.8" width="2" height="1" fill="#b9c839"/>
<rect x="387.4" y="79.8" width="1" height="1" fill="#8dc045"/>
<rect x="388.4" y="79.8" width="1" height="1" fill="#4aa771"/>
<rect x="389.4" y="79.8" width="1" height="1" fill="#409b98"/>
<rect x="390.4" y="79.8" width="1" height="1" fill="#4f89bd"/>
<rect x="391.4" y="79.8" width="1" height="1" fill="#5e85c9"/>
<rect x="392.4" y="79.8" width="2" height="1" fill="#7a9ad2" fill-opacity="0.67"/>
<rect x="394.4" y="79.8" width="1" height="1" fill="#4f89bd"/>
<rect x="395.4" y="79.8" width="2" height="1" fill="#4391b1"/>
<rect x="397.4" y="79.8" width="11" height="1" fill="#409b98"/>
<rect x="408.4" y="79.8" width="2" height="1" fill="#4391b1"/>
<rect x="410.4" y="79.8" width="1" height="1" fill="#409b98"/>
<rect x="411.4" y="79.8" width="3" height="1" fill="#4391b1"/>
<rect x="414.4" y="79.8" width="3" height="1" fill="#409b98"/>
<rect x="417.4" y="79.8" width="5" height="1" fill="#4391b1"/>
<rect x="422.4" y="79.8" width="3" height="1" fill="#4f89bd"/>
<rect x="425.4" y="79.8" width="1" height="1" fill="#5e85c9"/>
<rect x="428.4" y="79.8" width="1" height="1" fill="#96afdc" fill-opacity="0.33"/>
<rect x="376.4" y="80.8" width="1" height="1" fill="#96afdc" fill-opacity="0.33"/>
<rect x="377.4" y="80.8" width="1" height="1" fill="#7a9ad2" fill-opacity="0.33"/>
<rect x="378.4" y="80.8" width="1" height="1" fill="#7a9ad2" fill-opacity="0.67"/>
<rect x="379.4" y="80.8" width="1" height="1" fill="#5e85c9"/>
<rect x="380.4" y="80.8" width="1" height="1" fill="#4f89bd"/>
<rect x="381.4" y="80.8" width="1" height="1" fill="#409b98"/>
<rect x="382.4" y="80.8" width="1" height="1" fill="#61b354"/>
<rect x="383.4" y="80.8" width="1" height="1" fill="#b9c839"/>
<rect x="384.4" y="80.8" width="2" height="1" fill="#e2c833"/>
<rect x="386.4" y="80.8" width="1" height="1" fill="#b9c839"/>
<rect x="387.4" y="80.8" width="1" height="1" fill="#8dc045"/>
<rect x="388.4" y="80.8" width="1" height="1" fill="#61b354"/>
<rect x="389.4" y="80.8" width="1" height="1" fill="#4aa771"/>
<rect x="390.4" y="80.8" width="1" height="1" fill="#4f89bd"/>
<rect x="391.4" y="80.8" width="2" height="1" fill="#5e85c9"/>
<rect x="393.4" y="80.8" width="1" height="1" fill="#7a9ad2" fill-opacity="0.67"/>
<rect x="394.4" y="80.8" width="1" height="1" fill="#4f89bd"/>
<rect x="395.4" y="80.8" width="3" height="1" fill="#409b98"/>
<rect x="398.4" y="80.8" width="2" height="1" fill="#4aa771"/>
<rect x="400.4" y="80.8" width="1" height="1" fill="#409b98"/>
<rect x="401.4" y="80.8" width="2" height="1" fill="#4aa771"/>
<rect x="403.4" y="80.8" width="4" height="1" fill="#409b98"/>
<rect x="407.4" y="80.8" width="1" height="1" fill="#4aa771"/>
<rect x="408.4" y="80.8" width="9" height="1" fill="#409b98"/>
<rect x="417.4" y="80.8" width="4" height="1" fill="#4391b1"/>
<rect x="421.4" y="80.8" width="2" height="1" fill="#409b98"/>
<rect x="423.4" y="80.8" width="1" height="1" fill="#4391b1"/>
<rect x="424.4" y="80.8" width="1" height="1" fill="#4f89bd"/>
<rect x="425.4" y="80.8" width="1" height="1" fill="#5e85c9"/>
<rect x="378.4" y="81.8" width="2" height="1" fill="#7a9ad2" fill-opacity="0.67"/>
<rect x="380.4" y="81.8" width="1" height="1" fill="#4f89bd"/>
<rect x="381.4" y="81.8" width="1" height="1" fill="#409b98"/>
<rect x="382.4" y="81.8" width="1" height="1" fill="#61b354"/>
<rect x="383.4" y="81.8" width="1" height="1" fill="#b9c839"/>
<rect x="384.4" y="81.8" width="2" height="1" fill="#e2c833"/>
<rect x="386.4" y="81.8" width="1" height="1" fill="#b9c839"/>
<rect x="387.4" y="81.8" width="1" height="1" fill="#8dc045"/>
<rect x="388.4" y="81.8" width="1" height="1" fill="#61b354"/>
<rect x="389.4" y="81.8" width="1" height="1" fill="#4aa771"/>
<rect x="390.4" y="81.8" width="1" height="1" fill="#4f89bd"/>
<rect x="391.4" y="81.8" width="3" height="1" fill="#5e85c9"/>
<rect x="394.4" y="81.8" width="1" height="1" fill="#4391b1"/>
<rect x="395.4" y="81.8" width="12" height="1" fill="#409b98"/>
<rect x="407.4" y="81.8" width="2" height="1" fill="#4aa771"/>
<rect x="409.4" y="81.8" width="2" height="1" fill="#409b98"/>
<rect x="411.4" y="81.8" width="1" height="1" fill="#4aa771"/>
<rect x="412.4" y="81.8" width="3" height="1" fill="#409b98"/>
<rect x="415.4" y="81.8" width="4" height="1" fill="#4391b1"/>
<rect x="419.4" y="81.8" width="5" height="1" fill="#409b98"/>
<rect x="424.4" y="81.8" width="1" height="1" fill="#4391b1"/>
<rect x="425.4" y="81.8" width="1" height="1" fill="#5e85c9"/>
<rect x="377.4" y="82.8" width="1" height="1" fill="#96afdc" fill-opacity="0.33"/>
<rect x="378.4" y="82.8" width="2" height="1" fill="#7a9ad2" fill-opacity="0.67"/>
<rect x="380.4" y="82.8" width="1" height="1" fill="#4f89bd"/>
<rect x="381.4" y="82.8" width="1" height="1" fill="#409b98"/>
<rect x="382.4" y="82.8" width="1" height="1" fill="#4aa771"/>
<rect x="383.4" y="82.8" width="1" height="1" fill="#8dc045"/>
<rect x="384.4" y="82.8" width="3" height="1" fill="#b9c839"/>
<rect x="387.4" y="82.8" width="1" height="1" fill="#8dc045"/>
<rect x="388.4" y="82.8" width="1" height="1" fill="#61b354"/>
<rect x="389.4" y="82.8" width="1" height="1" fill="#409b98"/>
<rect x="390.4" y="82.8" width="1" height="1" fill="#4f89bd"/>
<rect x="391.4" y="82.8" width="3" height="1" fill="#7a9ad2" fill-opacity="0.67"/>
<rect x="394.4" y="82.8" width="1" height="1" fill="#4f89bd"/>
<rect x="395.4" y="82.8" width="2" height="1" fill="#409b98"/>
<rect x="397.4" y="82.8" width="2" height="1" fill="#4391b1"/>
<rect x="399.4" y="82.8" width="2" height="1" fill="#409b98"/>
<rect x="401.4" y="82.8" width="2" height="1" fill="#4391b1"/>
<rect x="403.4" y="82.8" width="6" height="1" fill="#409b98"/>
<rect x="409.4" y="82.8" width="2" height="1" fill="#4391b1"/>
<rect x="411.4" y="82.8" width="2" height="1" fill="#409b98"/>
<rect x="413.4" y="82.8" width="4" height="1" fill="#4391b1"/>
<rect x="417.4" y="82.8" width="1" height="1" fill="#4f89bd"/>
<rect x="418.4" y="82.8" width="1" height="1" fill="#4391b1"/>
<rect x="419.4" y="82.8" width="2" height="1" fill="#409b98"/>
<rect x="421.4" y="82.8" width="2" height="1" fill="#4391b1"/>
<rect x="423.4" y="82.8" width="1" height="1" fill="#409b98"/>
<rect x="424.4" y="82.8" width="1" height="1" fill="#4391b1"/>
<rect x="425.4" y="82.8" width="1" height="1" fill="#5e85c9"/>
<rect x="379.4" y="83.8" width="1" height="1" fill="#7a9ad2" fill-opacity="0.67"/>
<rect x="380.4" y="83.8" width="1" height="1" fill="#4f89bd"/>
<rect x="381.4" y="83.8" width="1" height="1" fill="#4391b1"/>
<rect x="382.4" y="83.8" width="1" height="1" fill="#4aa771"/>
<rect x="383.4" y="83.8" width="4" height="1" fill="#8dc045"/>
<rect x="387.4" y="83.8" width="1" height="1" fill="#61b354"/>
<rect x="388.4" y="83.8" width="1" height="1" fill="#4aa771"/>
<rect x="389.4" y="83.8" width="1" height="1" fill="#4391b1"/>
<rect x="390.4" y="83.8" width="1" height="1" fill="#5e85c9"/>
<rect x="394.4" y="83.8" width="1" height="1" fill="#5e85c9"/>
<rect x="395.4" y="83.8" width="2" height="1" fill="#4391b1"/>
<rect x="397.4" y="83.8" width="2" height="1" fill="#4f89bd"/>
<rect x="399.4" y="83.8" width="2" height="1" fill="#4391b1"/>
<rect x="401.4" y="83.8" width="2" height="1" fill="#4f89bd"/>
<rect x="403.4" y="83.8" width="2" height="1" fill="#4391b1"/>
<rect x="405.4" y="83.8" width="1" height="1" fill="#4f89bd"/>
<rect x="406.4" y="83.8" width="7" height="1" fill="#4391b1"/>
<rect x="413.4" y="83.8" width="2" height="1" fill="#4f89bd"/>
<rect x="415.4" y="83.8" width="1" height="1" fill="#4391b1"/>
<rect x="416.4" y="83.8" width="3" height="1" fill="#4f89bd"/>
<rect x="419.4" y="83.8" width="2" height="1" fill="#4391b1"/>
<rect x="421.4" y="83.8" width="1" height="1" fill="#4f89bd"/>
<rect x="422.4" y="83.8" width="3" height="1" fill="#4391b1"/>
<rect x="425.4" y="83.8" width="1" height="1" fill="#5e85c9"/>
<rect x="379.4" y="84.8" width="1" height="1" fill="#7a9ad2" fill-opacity="0.33"/>
<rect x="380.4" y="84.8" width="1" height="1" fill="#5e85c9"/>
<rect x="381.4" y="84.8" width="1" height="1" fill="#4f89bd"/>
<rect x="382.4" y="84.8" width="1" height="1" fill="#409b98"/>
<rect x="383.4" y="84.8" width="5" height="1" fill="#61b354"/>
<rect x="388.4" y="84.8" width="1" height="1" fill="#409b98"/>
<rect x="389.4" y="84.8" width="1" height="1" fill="#4f89bd"/>
<rect x="390.4" y="84.8" width="1" height="1" fill="#5e85c9" fill-opacity="0.67"/>
<rect x="391.4" y="84.8" width="1" height="1" fill="#7a9ad2" fill-opacity="0.67"/>
<rect x="393.4" y="84.8" width="1" height="1" fill="#7a9ad2" fill-opacity="0.33"/>
<rect x="394.4" y="84.8" width="1" height="1" fill="#5e85c9"/>
<rect x="395.4" y="84.8" width="3" height="1" fill="#4f89bd"/>
<rect x="398.4" y="84.8" width="1" height="1" fill="#5e85c9"/>
<rect x="399.4" y="84.8" width="6" height="1" fill="#4f89bd"/>
<rect x="405.4" y="84.8" width="1" height="1" fill="#5e85c9"/>
<rect x="406.4" y="84.8" width="7" height="1" fill="#4f89bd"/>
<rect x="413.4" y="84.8" width="1" height="1" fill="#5e85c9"/>
<rect x="414.4" y="84.8" width="2" height="1" fill="#4f89bd"/>
<rect x="416.4" y="84.8" width="1" height="1" fill="#5e85c9"/>
<rect x="417.4" y="84.8" width="1" height="1" fill="#5e85c9" fill-opacity="0.67"/>
<rect x="418.4" y="84.8" width="1" height="1" fill="#5e85c9"/>
<rect x="419.4" y="84.8" width="2" height="1" fill="#4f89bd"/>
<rect x="421.4" y="84.8" width="1" height="1" fill="#5e85c9"/>
<rect x="422.4" y="84.8" width="2" height="1" fill="#4f89bd"/>
<rect x="424.4" y="84.8" width="1" height="1" fill="#5e85c9"/>
<rect x="425.4" y="84.8" width="1" height="1" fill="#7a9ad2" fill-opacity="0.67"/>
<rect x="378.4" y="85.8" width="1" height="1" fill="#96afdc" fill-opacity="0.33"/>
<rect x="379.4" y="85.8" width="2" height="1" fill="#7a9ad2" fill-opacity="0.67"/>
<rect x="381.4" y="85.8" width="1" height="1" fill="#5e85c9"/>
<rect x="382.4" y="85.8" width="1" height="1" fill="#4391b1"/>
<rect x="383.4" y="85.8" width="1" height="1" fill="#409b98"/>
<rect x="384.4" y="85.8" width="4" height="1" fill="#4aa771"/>
<rect x="388.4" y="85.8" width="1" height="1" fill="#4391b1"/>
<rect x="389.4" y="85.8" width="1" height="1" fill="#5e85c9"/>
<rect x="390.4" y="85.8" width="2" height="1" fill="#7a9ad2" fill-opacity="0.67"/>
<rect x="394.4" y="85.8" width="4" height="1" fill="#7a9ad2" fill-opacity="0.67"/>
<rect x="398.4" y="85.8" width="6" height="1" fill="#5e85c9"/>
<rect x="404.4" y="85.8" width="3" height="1" fill="#5e85c9" fill-opacity="0.67"/>
<rect x="407.4" y="85.8" width="2" height="1" fill="#7a9ad2" fill-opacity="0.67"/>
<rect x="409.4" y="85.8" width="2" height="1" fill="#5e85c9"/>
<rect x="411.4" y="85.8" width="3" height="1" fill="#5e85c9" fill-opacity="0.67"/>
<rect x="414.4" y="85.8" width="5" height="1" fill="#7a9ad2" fill-opacity="0.67"/>
<rect x="419.4" y="85.8" width="1" height="1" fill="#5e85c9" fill-opacity="0.67"/>
<rect x="420.4" y="85.8" width="2" height="1" fill="#7a9ad2" fill-opacity="0.67"/>
<rect x="422.4" y="85.8" width="2" height="1" fill="#5e85c9" fill-opacity="0.67"/>
<rect x="424.4" y="85.8" width="1" height="1" fill="#7a9ad2" fill-opacity="0.67"/>
<rect x="378.4" y="86.8" width="1" height="1" fill="#96afdc" fill-opacity="0.33"/>
<rect x="379.4" y="86.8" width="2" height="1" fill="#7a9ad2" fill-opacity="0.67"/>
<rect x="381.4" y="86.8" width="2" height="1" fill="#5e85c9"/>
<rect x="383.4" y="86.8" width="1" height="1" fill="#4f89bd"/>
<rect x="384.4" y="86.8" width="1" height="1" fill="#4391b1"/>
<rect x="385.4" y="86.8" width="1" height="1" fill="#409b98"/>
<rect x="386.4" y="86.8" width="2" height="1" fill="#4391b1"/>
<rect x="388.4" y="86.8" width="1" height="1" fill="#4f89bd"/>
<rect x="389.4" y="86.8" width="2" height="1" fill="#7a9ad2" fill-opacity="0.67"/>
<rect x="398.4" y="86.8" width="3" height="1" fill="#7a9ad2" fill-opacity="0.67"/>
<rect x="402.4" y="86.8" width="2" height="1" fill="#7a9ad2" fill-opacity="0.67"/>
<rect x="409.4" y="86.8" width="2" height="1" fill="#7a9ad2" fill-opacity="0.67"/>
<rect x="419.4" y="86.8" width="1" height="1" fill="#7a9ad2" fill-opacity="0.67"/>
<rect x="422.4" y="86.8" width="3" height="1" fill="#7a9ad2" fill-opacity="0.67"/>
<rect x="430.4" y="86.8" width="1" height="1" fill="#96afdc" fill-opacity="0.33"/>
</g>
<rect x="374.90" y="26.3" width="62.8" height="62.70" fill="none" stroke="#333" stroke-width="0.9"/>
<line x1="396.20" y1="26.30" x2="396.20" y2="89.00" stroke="#333" stroke-width="0.9" />
<line x1="374.90" y1="69.30" x2="437.70" y2="69.30" stroke="#333" stroke-width="0.9" />
<line x1="373.70" y1="85.00" x2="374.90" y2="85.00" stroke="#444" stroke-width="0.6" />
<line x1="373.70" y1="74.00" x2="374.90" y2="74.00" stroke="#444" stroke-width="0.6" />
<line x1="373.70" y1="63.00" x2="374.90" y2="63.00" stroke="#444" stroke-width="0.6" />
<line x1="373.70" y1="52.00" x2="374.90" y2="52.00" stroke="#444" stroke-width="0.6" />
<line x1="373.70" y1="41.00" x2="374.90" y2="41.00" stroke="#444" stroke-width="0.6" />
<line x1="373.70" y1="30.00" x2="374.90" y2="30.00" stroke="#444" stroke-width="0.6" />
<line x1="378.90" y1="89.00" x2="378.90" y2="90.20" stroke="#444" stroke-width="0.6" />
<line x1="389.90" y1="89.00" x2="389.90" y2="90.20" stroke="#444" stroke-width="0.6" />
<line x1="400.90" y1="89.00" x2="400.90" y2="90.20" stroke="#444" stroke-width="0.6" />
<line x1="411.90" y1="89.00" x2="411.90" y2="90.20" stroke="#444" stroke-width="0.6" />
<line x1="422.90" y1="89.00" x2="422.90" y2="90.20" stroke="#444" stroke-width="0.6" />
<line x1="433.90" y1="89.00" x2="433.90" y2="90.20" stroke="#444" stroke-width="0.6" />
<text x="376.40" y="32.30" font-size="6.1" fill="#333" >6.37</text>
<text x="436.30" y="32.30" font-size="6.1" text-anchor="end" fill="#333" >0.18</text>
<text x="375.90" y="87.40" font-size="6.1" fill="#333" >52.5</text>
<text x="436.70" y="87.40" font-size="6.1" text-anchor="end" fill="#333" >41.0</text>
<text x="477.90" y="22.80" font-size="7.2" text-anchor="middle" textLength="24.00" lengthAdjust="spacingAndGlyphs" >R307H</text>
<g filter="url(#fblur)">
<rect x="450.0" y="49.8" width="1" height="1" fill="#96afdc" fill-opacity="0.33"/>
<rect x="457.0" y="52.8" width="1" height="1" fill="#96afdc" fill-opacity="0.33"/>
<rect x="459.0" y="53.8" width="1" height="1" fill="#96afdc" fill-opacity="0.33"/>
<rect x="454.0" y="54.8" width="1" height="1" fill="#96afdc" fill-opacity="0.33"/>
<rect x="455.0" y="55.8" width="1" height="1" fill="#96afdc" fill-opacity="0.33"/>
<rect x="450.0" y="56.8" width="2" height="1" fill="#96afdc" fill-opacity="0.33"/>
<rect x="457.0" y="56.8" width="2" height="1" fill="#96afdc" fill-opacity="0.33"/>
<rect x="461.0" y="56.8" width="1" height="1" fill="#96afdc" fill-opacity="0.33"/>
<rect x="452.0" y="57.8" width="1" height="1" fill="#96afdc" fill-opacity="0.33"/>
<rect x="457.0" y="57.8" width="2" height="1" fill="#7a9ad2" fill-opacity="0.67"/>
<rect x="459.0" y="57.8" width="1" height="1" fill="#96afdc" fill-opacity="0.33"/>
<rect x="461.0" y="57.8" width="1" height="1" fill="#96afdc" fill-opacity="0.33"/>
<rect x="453.0" y="58.8" width="2" height="1" fill="#96afdc" fill-opacity="0.33"/>
<rect x="456.0" y="58.8" width="3" height="1" fill="#7a9ad2" fill-opacity="0.67"/>
<rect x="467.0" y="58.8" width="1" height="1" fill="#96afdc" fill-opacity="0.33"/>
<rect x="455.0" y="59.8" width="1" height="1" fill="#96afdc" fill-opacity="0.33"/>
<rect x="456.0" y="59.8" width="3" height="1" fill="#7a9ad2" fill-opacity="0.67"/>
<rect x="459.0" y="59.8" width="1" height="1" fill="#96afdc" fill-opacity="0.33"/>
<rect x="462.0" y="59.8" width="1" height="1" fill="#96afdc" fill-opacity="0.33"/>
<rect x="452.0" y="60.8" width="2" height="1" fill="#96afdc" fill-opacity="0.33"/>
<rect x="455.0" y="60.8" width="1" height="1" fill="#96afdc" fill-opacity="0.33"/>
<rect x="456.0" y="60.8" width="5" height="1" fill="#7a9ad2" fill-opacity="0.67"/>
<rect x="452.0" y="61.8" width="5" height="1" fill="#7a9ad2" fill-opacity="0.67"/>
<rect x="457.0" y="61.8" width="1" height="1" fill="#5e85c9"/>
<rect x="458.0" y="61.8" width="3" height="1" fill="#7a9ad2" fill-opacity="0.67"/>
<rect x="463.0" y="61.8" width="1" height="1" fill="#96afdc" fill-opacity="0.33"/>
<rect x="467.0" y="61.8" width="1" height="1" fill="#96afdc" fill-opacity="0.33"/>
<rect x="452.0" y="62.8" width="4" height="1" fill="#7a9ad2" fill-opacity="0.67"/>
<rect x="456.0" y="62.8" width="4" height="1" fill="#5e85c9"/>
<rect x="460.0" y="62.8" width="3" height="1" fill="#7a9ad2" fill-opacity="0.67"/>
<rect x="465.0" y="62.8" width="1" height="1" fill="#96afdc" fill-opacity="0.33"/>
<rect x="452.0" y="63.8" width="3" height="1" fill="#7a9ad2" fill-opacity="0.67"/>
<rect x="455.0" y="63.8" width="6" height="1" fill="#5e85c9"/>
<rect x="461.0" y="63.8" width="3" height="1" fill="#7a9ad2" fill-opacity="0.67"/>
<rect x="477.0" y="63.8" width="1" height="1" fill="#96afdc" fill-opacity="0.33"/>
<rect x="483.0" y="63.8" width="1" height="1" fill="#96afdc" fill-opacity="0.33"/>
<rect x="450.0" y="64.8" width="1" height="1" fill="#96afdc" fill-opacity="0.33"/>
<rect x="452.0" y="64.8" width="3" height="1" fill="#7a9ad2" fill-opacity="0.67"/>
<rect x="455.0" y="64.8" width="2" height="1" fill="#5e85c9"/>
<rect x="457.0" y="64.8" width="3" height="1" fill="#4f89bd"/>
<rect x="460.0" y="64.8" width="2" height="1" fill="#5e85c9"/>
<rect x="462.0" y="64.8" width="2" height="1" fill="#7a9ad2" fill-opacity="0.67"/>
<rect x="481.0" y="64.8" width="1" height="1" fill="#96afdc" fill-opacity="0.33"/>
<rect x="486.0" y="64.8" width="1" height="1" fill="#96afdc" fill-opacity="0.33"/>
<rect x="488.0" y="64.8" width="1" height="1" fill="#96afdc" fill-opacity="0.33"/>
<rect x="501.0" y="64.8" width="1" height="1" fill="#96afdc" fill-opacity="0.33"/>
<rect x="452.0" y="65.8" width="2" height="1" fill="#7a9ad2" fill-opacity="0.67"/>
<rect x="454.0" y="65.8" width="1" height="1" fill="#5e85c9"/>
<rect x="455.0" y="65.8" width="3" height="1" fill="#4f89bd"/>
<rect x="458.0" y="65.8" width="1" height="1" fill="#4391b1"/>
<rect x="459.0" y="65.8" width="2" height="1" fill="#4f89bd"/>
<rect x="461.0" y="65.8" width="1" height="1" fill="#5e85c9"/>
<rect x="462.0" y="65.8" width="3" height="1" fill="#7a9ad2" fill-opacity="0.67"/>
<rect x="479.0" y="65.8" width="1" height="1" fill="#96afdc" fill-opacity="0.33"/>
<rect x="452.0" y="66.8" width="2" height="1" fill="#7a9ad2" fill-opacity="0.67"/>
<rect x="454.0" y="66.8" width="1" height="1" fill="#4f89bd"/>
<rect x="455.0" y="66.8" width="5" height="1" fill="#4391b1"/>
<rect x="460.0" y="66.8" width="2" height="1" fill="#4f89bd"/>
<rect x="462.0" y="66.8" width="1" height="1" fill="#5e85c9"/>
<rect x="463.0" y="66.8" width="2" height="1" fill="#7a9ad2" fill-opacity="0.67"/>
<rect x="449.0" y="67.8" width="1" height="1" fill="#96afdc" fill-opacity="0.33"/>
<rect x="450.0" y="67.8" width="2" height="1" fill="#7a9ad2" fill-opacity="0.67"/>
<rect x="452.0" y="67.8" width="1" height="1" fill="#96afdc" fill-opacity="0.33"/>
<rect x="453.0" y="67.8" width="1" height="1" fill="#7a9ad2" fill-opacity="0.67"/>
<rect x="454.0" y="67.8" width="1" height="1" fill="#4f89bd"/>
<rect x="455.0" y="67.8" width="2" height="1" fill="#4391b1"/>
<rect x="457.0" y="67.8" width="2" height="1" fill="#4f89bd"/>
<rect x="459.0" y="67.8" width="2" height="1" fill="#4391b1"/>
<rect x="461.0" y="67.8" width="1" height="1" fill="#4f89bd"/>
<rect x="462.0" y="67.8" width="1" height="1" fill="#5e85c9"/>
<rect x="463.0" y="67.8" width="2" height="1" fill="#7a9ad2" fill-opacity="0.67"/>
<rect x="478.0" y="67.8" width="1" height="1" fill="#96afdc" fill-opacity="0.33"/>
<rect x="449.0" y="68.8" width="5" height="1" fill="#7a9ad2" fill-opacity="0.67"/>
<rect x="454.0" y="68.8" width="1" height="1" fill="#5e85c9"/>
<rect x="455.0" y="68.8" width="7" height="1" fill="#4f89bd"/>
<rect x="462.0" y="68.8" width="2" height="1" fill="#5e85c9"/>
<rect x="464.0" y="68.8" width="1" height="1" fill="#7a9ad2" fill-opacity="0.67"/>
<rect x="484.0" y="68.8" width="1" height="1" fill="#96afdc" fill-opacity="0.33"/>
<rect x="450.0" y="69.8" width="3" height="1" fill="#7a9ad2" fill-opacity="0.67"/>
<rect x="453.0" y="69.8" width="2" height="1" fill="#5e85c9"/>
<rect x="455.0" y="69.8" width="6" height="1" fill="#4f89bd"/>
<rect x="461.0" y="69.8" width="3" height="1" fill="#5e85c9"/>
<rect x="464.0" y="69.8" width="1" height="1" fill="#7a9ad2" fill-opacity="0.67"/>
<rect x="465.0" y="69.8" width="1" height="1" fill="#96afdc" fill-opacity="0.33"/>
<rect x="480.0" y="69.8" width="1" height="1" fill="#96afdc" fill-opacity="0.33"/>
<rect x="451.0" y="70.8" width="1" height="1" fill="#7a9ad2" fill-opacity="0.67"/>
<rect x="452.0" y="70.8" width="1" height="1" fill="#5e85c9"/>
<rect x="453.0" y="70.8" width="2" height="1" fill="#4f89bd"/>
<rect x="455.0" y="70.8" width="2" height="1" fill="#4391b1"/>
<rect x="457.0" y="70.8" width="1" height="1" fill="#4f89bd"/>
<rect x="458.0" y="70.8" width="3" height="1" fill="#4391b1"/>
<rect x="461.0" y="70.8" width="1" height="1" fill="#4f89bd"/>
<rect x="462.0" y="70.8" width="2" height="1" fill="#5e85c9"/>
<rect x="464.0" y="70.8" width="1" height="1" fill="#7a9ad2" fill-opacity="0.67"/>
<rect x="447.0" y="71.8" width="1" height="1" fill="#96afdc" fill-opacity="0.33"/>
<rect x="451.0" y="71.8" width="1" height="1" fill="#7a9ad2" fill-opacity="0.67"/>
<rect x="452.0" y="71.8" width="1" height="1" fill="#5e85c9"/>
<rect x="453.0" y="71.8" width="1" height="1" fill="#4f89bd"/>
<rect x="454.0" y="71.8" width="3" height="1" fill="#4391b1"/>
<rect x="457.0" y="71.8" width="1" height="1" fill="#4f89bd"/>
<rect x="458.0" y="71.8" width="1" height="1" fill="#4391b1"/>
<rect x="459.0" y="71.8" width="1" height="1" fill="#409b98"/>
<rect x="460.0" y="71.8" width="1" height="1" fill="#4391b1"/>
<rect x="461.0" y="71.8" width="1" height="1" fill="#4f89bd"/>
<rect x="462.0" y="71.8" width="1" height="1" fill="#5e85c9"/>
<rect x="463.0" y="71.8" width="2" height="1" fill="#7a9ad2" fill-opacity="0.67"/>
<rect x="465.0" y="71.8" width="1" height="1" fill="#96afdc" fill-opacity="0.33"/>
<rect x="467.0" y="71.8" width="1" height="1" fill="#96afdc" fill-opacity="0.33"/>
<rect x="469.0" y="71.8" width="1" height="1" fill="#96afdc" fill-opacity="0.33"/>
<rect x="472.0" y="71.8" width="1" height="1" fill="#96afdc" fill-opacity="0.33"/>
<rect x="487.0" y="71.8" width="1" height="1" fill="#96afdc" fill-opacity="0.33"/>
<rect x="451.0" y="72.8" width="1" height="1" fill="#7a9ad2" fill-opacity="0.67"/>
<rect x="452.0" y="72.8" width="1" height="1" fill="#5e85c9"/>
<rect x="453.0" y="72.8" width="1" height="1" fill="#4f89bd"/>
<rect x="454.0" y="72.8" width="1" height="1" fill="#4391b1"/>
<rect x="455.0" y="72.8" width="1" height="1" fill="#409b98"/>
<rect x="456.0" y="72.8" width="2" height="1" fill="#4391b1"/>
<rect x="458.0" y="72.8" width="2" height="1" fill="#409b98"/>
<rect x="460.0" y="72.8" width="1" height="1" fill="#4391b1"/>
<rect x="461.0" y="72.8" width="1" height="1" fill="#4f89bd"/>
<rect x="462.0" y="72.8" width="1" height="1" fill="#5e85c9"/>
<rect x="463.0" y="72.8" width="1" height="1" fill="#7a9ad2" fill-opacity="0.67"/>
<rect x="477.0" y="72.8" width="1" height="1" fill="#96afdc" fill-opacity="0.33"/>
<rect x="450.0" y="73.8" width="2" height="1" fill="#7a9ad2" fill-opacity="0.67"/>
<rect x="452.0" y="73.8" width="1" height="1" fill="#5e85c9"/>
<rect x="453.0" y="73.8" width="1" height="1" fill="#4f89bd"/>
<rect x="454.0" y="73.8" width="1" height="1" fill="#4391b1"/>
<rect x="455.0" y="73.8" width="2" height="1" fill="#409b98"/>
<rect x="457.0" y="73.8" width="2" height="1" fill="#4aa771"/>
<rect x="459.0" y="73.8" width="1" height="1" fill="#409b98"/>
<rect x="460.0" y="73.8" width="1" height="1" fill="#4391b1"/>
<rect x="461.0" y="73.8" width="1" height="1" fill="#4f89bd"/>
<rect x="462.0" y="73.8" width="1" height="1" fill="#5e85c9"/>
<rect x="463.0" y="73.8" width="1" height="1" fill="#7a9ad2" fill-opacity="0.67"/>
<rect x="464.0" y="73.8" width="1" height="1" fill="#96afdc" fill-opacity="0.33"/>
<rect x="469.0" y="73.8" width="1" height="1" fill="#96afdc" fill-opacity="0.33"/>
<rect x="477.0" y="73.8" width="1" height="1" fill="#96afdc" fill-opacity="0.33"/>
<rect x="493.0" y="73.8" width="1" height="1" fill="#96afdc" fill-opacity="0.33"/>
<rect x="449.0" y="74.8" width="1" height="1" fill="#96afdc" fill-opacity="0.33"/>
<rect x="450.0" y="74.8" width="1" height="1" fill="#7a9ad2" fill-opacity="0.67"/>
<rect x="451.0" y="74.8" width="2" height="1" fill="#5e85c9"/>
<rect x="453.0" y="74.8" width="1" height="1" fill="#4391b1"/>
<rect x="454.0" y="74.8" width="1" height="1" fill="#409b98"/>
<rect x="455.0" y="74.8" width="2" height="1" fill="#4aa771"/>
<rect x="457.0" y="74.8" width="2" height="1" fill="#61b354"/>
<rect x="459.0" y="74.8" width="1" height="1" fill="#409b98"/>
<rect x="460.0" y="74.8" width="1" height="1" fill="#4391b1"/>
<rect x="461.0" y="74.8" width="1" height="1" fill="#4f89bd"/>
<rect x="462.0" y="74.8" width="1" height="1" fill="#5e85c9"/>
<rect x="463.0" y="74.8" width="2" height="1" fill="#7a9ad2" fill-opacity="0.67"/>
<rect x="465.0" y="74.8" width="1" height="1" fill="#96afdc" fill-opacity="0.33"/>
<rect x="467.0" y="74.8" width="1" height="1" fill="#96afdc" fill-opacity="0.33"/>
<rect x="468.0" y="74.8" width="1" height="1" fill="#7a9ad2" fill-opacity="0.67"/>
<rect x="472.0" y="74.8" width="2" height="1" fill="#96afdc" fill-opacity="0.33"/>
<rect x="489.0" y="74.8" width="2" height="1" fill="#96afdc" fill-opacity="0.33"/>
<rect x="450.0" y="75.8" width="1" height="1" fill="#7a9ad2" fill-opacity="0.67"/>
<rect x="451.0" y="75.8" width="1" height="1" fill="#5e85c9"/>
<rect x="452.0" y="75.8" width="1" height="1" fill="#4f89bd"/>
<rect x="453.0" y="75.8" width="1" height="1" fill="#4391b1"/>
<rect x="454.0" y="75.8" width="1" height="1" fill="#4aa771"/>
<rect x="455.0" y="75.8" width="4" height="1" fill="#61b354"/>
<rect x="459.0" y="75.8" width="1" height="1" fill="#4aa771"/>
<rect x="460.0" y="75.8" width="1" height="1" fill="#409b98"/>
<rect x="461.0" y="75.8" width="1" height="1" fill="#4391b1"/>
<rect x="462.0" y="75.8" width="1" height="1" fill="#5e85c9"/>
<rect x="463.0" y="75.8" width="3" height="1" fill="#7a9ad2" fill-opacity="0.67"/>
<rect x="466.0" y="75.8" width="1" height="1" fill="#96afdc" fill-opacity="0.33"/>
<rect x="468.0" y="75.8" width="1" height="1" fill="#7a9ad2" fill-opacity="0.67"/>
<rect x="470.0" y="75.8" width="1" height="1" fill="#96afdc" fill-opacity="0.33"/>
<rect x="479.0" y="75.8" width="1" height="1" fill="#7a9ad2" fill-opacity="0.67"/>
<rect x="480.0" y="75.8" width="1" height="1" fill="#96afdc" fill-opacity="0.33"/>
<rect x="482.0" y="75.8" width="1" height="1" fill="#96afdc" fill-opacity="0.33"/>
<rect x="483.0" y="75.8" width="1" height="1" fill="#7a9ad2" fill-opacity="0.67"/>
<rect x="449.0" y="76.8" width="1" height="1" fill="#96afdc" fill-opacity="0.33"/>
<rect x="450.0" y="76.8" width="1" height="1" fill="#7a9ad2" fill-opacity="0.67"/>
<rect x="451.0" y="76.8" width="1" height="1" fill="#5e85c9"/>
<rect x="452.0" y="76.8" width="1" height="1" fill="#4391b1"/>
<rect x="453.0" y="76.8" width="1" height="1" fill="#409b98"/>
<rect x="454.0" y="76.8" width="1" height="1" fill="#61b354"/>
<rect x="455.0" y="76.8" width="3" height="1" fill="#8dc045"/>
<rect x="458.0" y="76.8" width="1" height="1" fill="#61b354"/>
<rect x="459.0" y="76.8" width="1" height="1" fill="#4aa771"/>
<rect x="460.0" y="76.8" width="1" height="1" fill="#409b98"/>
<rect x="461.0" y="76.8" width="1" height="1" fill="#4391b1"/>
<rect x="462.0" y="76.8" width="1" height="1" fill="#4f89bd"/>
<rect x="463.0" y="76.8" width="3" height="1" fill="#7a9ad2" fill-opacity="0.67"/>
<rect x="466.0" y="76.8" width="1" height="1" fill="#96afdc" fill-opacity="0.33"/>
<rect x="469.0" y="76.8" width="7" height="1" fill="#7a9ad2" fill-opacity="0.67"/>
<rect x="478.0" y="76.8" width="3" height="1" fill="#7a9ad2" fill-opacity="0.67"/>
<rect x="481.0" y="76.8" width="2" height="1" fill="#96afdc" fill-opacity="0.33"/>
<rect x="483.0" y="76.8" width="1" height="1" fill="#7a9ad2" fill-opacity="0.67"/>
<rect x="484.0" y="76.8" width="1" height="1" fill="#96afdc" fill-opacity="0.33"/>
<rect x="488.0" y="76.8" width="1" height="1" fill="#7a9ad2" fill-opacity="0.67"/>
<rect x="489.0" y="76.8" width="1" height="1" fill="#96afdc" fill-opacity="0.33"/>
<rect x="491.0" y="76.8" width="1" height="1" fill="#7a9ad2" fill-opacity="0.67"/>
<rect x="494.0" y="76.8" width="1" height="1" fill="#96afdc" fill-opacity="0.33"/>
<rect x="448.0" y="77.8" width="2" height="1" fill="#96afdc" fill-opacity="0.33"/>
<rect x="450.0" y="77.8" width="1" height="1" fill="#7a9ad2" fill-opacity="0.67"/>
<rect x="451.0" y="77.8" width="1" height="1" fill="#5e85c9"/>
<rect x="452.0" y="77.8" width="1" height="1" fill="#4f89bd"/>
<rect x="453.0" y="77.8" width="1" height="1" fill="#409b98"/>
<rect x="454.0" y="77.8" width="1" height="1" fill="#61b354"/>
<rect x="455.0" y="77.8" width="1" height="1" fill="#8dc045"/>
<rect x="456.0" y="77.8" width="2" height="1" fill="#b9c839"/>
<rect x="458.0" y="77.8" width="1" height="1" fill="#8dc045"/>
<rect x="459.0" y="77.8" width="1" height="1" fill="#61b354"/>
<rect x="460.0" y="77.8" width="1" height="1" fill="#409b98"/>
<rect x="461.0" y="77.8" width="1" height="1" fill="#4391b1"/>
<rect x="462.0" y="77.8" width="1" height="1" fill="#5e85c9"/>
<rect x="463.0" y="77.8" width="1" height="1" fill="#7a9ad2" fill-opacity="0.67"/>
<rect x="464.0" y="77.8" width="1" height="1" fill="#96afdc" fill-opacity="0.33"/>
<rect x="466.0" y="77.8" width="1" height="1" fill="#96afdc" fill-opacity="0.33"/>
<rect x="467.0" y="77.8" width="5" height="1" fill="#7a9ad2" fill-opacity="0.67"/>
<rect x="472.0" y="77.8" width="3" height="1" fill="#5e85c9"/>
<rect x="475.0" y="77.8" width="4" height="1" fill="#7a9ad2" fill-opacity="0.67"/>
<rect x="479.0" y="77.8" width="2" height="1" fill="#5e85c9"/>
<rect x="481.0" y="77.8" width="7" height="1" fill="#7a9ad2" fill-opacity="0.67"/>
<rect x="488.0" y="77.8" width="1" height="1" fill="#5e85c9" fill-opacity="0.67"/>
<rect x="489.0" y="77.8" width="2" height="1" fill="#7a9ad2" fill-opacity="0.67"/>
<rect x="491.0" y="77.8" width="1" height="1" fill="#5e85c9" fill-opacity="0.67"/>
<rect x="492.0" y="77.8" width="4" height="1" fill="#7a9ad2" fill-opacity="0.67"/>
<rect x="450.0" y="78.8" width="2" height="1" fill="#7a9ad2" fill-opacity="0.67"/>
<rect x="452.0" y="78.8" width="1" height="1" fill="#4f89bd"/>
<rect x="453.0" y="78.8" width="1" height="1" fill="#409b98"/>
<rect x="454.0" y="78.8" width="1" height="1" fill="#4aa771"/>
<rect x="455.0" y="78.8" width="1" height="1" fill="#8dc045"/>
<rect x="456.0" y="78.8" width="3" height="1" fill="#b9c839"/>
<rect x="459.0" y="78.8" width="1" height="1" fill="#61b354"/>
<rect x="460.0" y="78.8" width="1" height="1" fill="#4aa771"/>
<rect x="461.0" y="78.8" width="1" height="1" fill="#4391b1"/>
<rect x="462.0" y="78.8" width="1" height="1" fill="#5e85c9"/>
<rect x="463.0" y="78.8" width="1" height="1" fill="#7a9ad2" fill-opacity="0.67"/>
<rect x="466.0" y="78.8" width="1" height="1" fill="#7a9ad2" fill-opacity="0.67"/>
<rect x="467.0" y="78.8" width="1" height="1" fill="#5e85c9"/>
<rect x="468.0" y="78.8" width="6" height="1" fill="#4f89bd"/>
<rect x="474.0" y="78.8" width="3" height="1" fill="#5e85c9"/>
<rect x="477.0" y="78.8" width="2" height="1" fill="#4f89bd"/>
<rect x="479.0" y="78.8" width="6" height="1" fill="#5e85c9"/>
<rect x="485.0" y="78.8" width="1" height="1" fill="#4f89bd"/>
<rect x="486.0" y="78.8" width="1" height="1" fill="#5e85c9"/>
<rect x="487.0" y="78.8" width="4" height="1" fill="#4f89bd"/>
<rect x="491.0" y="78.8" width="5" height="1" fill="#5e85c9"/>
<rect x="496.0" y="78.8" width="1" height="1" fill="#7a9ad2" fill-opacity="0.67"/>
<rect x="451.0" y="79.8" width="1" height="1" fill="#7a9ad2" fill-opacity="0.67"/>
<rect x="452.0" y="79.8" width="1" height="1" fill="#4f89bd"/>
<rect x="453.0" y="79.8" width="1" height="1" fill="#409b98"/>
<rect x="454.0" y="79.8" width="1" height="1" fill="#61b354"/>
<rect x="455.0" y="79.8" width="1" height="1" fill="#b9c839"/>
<rect x="456.0" y="79.8" width="1" height="1" fill="#e2c833"/>
<rect x="457.0" y="79.8" width="2" height="1" fill="#b9c839"/>
<rect x="459.0" y="79.8" width="1" height="1" fill="#8dc045"/>
<rect x="460.0" y="79.8" width="1" height="1" fill="#4aa771"/>
<rect x="461.0" y="79.8" width="1" height="1" fill="#4391b1"/>
<rect x="462.0" y="79.8" width="1" height="1" fill="#4f89bd"/>
<rect x="463.0" y="79.8" width="1" height="1" fill="#5e85c9"/>
<rect x="464.0" y="79.8" width="1" height="1" fill="#96afdc" fill-opacity="0.33"/>
<rect x="466.0" y="79.8" width="1" height="1" fill="#4f89bd"/>
<rect x="467.0" y="79.8" width="6" height="1" fill="#4391b1"/>
<rect x="473.0" y="79.8" width="1" height="1" fill="#4f89bd"/>
<rect x="474.0" y="79.8" width="5" height="1" fill="#4391b1"/>
<rect x="479.0" y="79.8" width="5" height="1" fill="#4f89bd"/>
<rect x="484.0" y="79.8" width="7" height="1" fill="#4391b1"/>
<rect x="491.0" y="79.8" width="3" height="1" fill="#4f89bd"/>
<rect x="494.0" y="79.8" width="2" height="1" fill="#4391b1"/>
<rect x="496.0" y="79.8" width="1" height="1" fill="#4f89bd"/>
<rect x="497.0" y="79.8" width="1" height="1" fill="#7a9ad2" fill-opacity="0.67"/>
<rect x="450.0" y="80.8" width="2" height="1" fill="#7a9ad2" fill-opacity="0.67"/>
<rect x="452.0" y="80.8" width="1" height="1" fill="#4f89bd"/>
<rect x="453.0" y="80.8" width="1" height="1" fill="#409b98"/>
<rect x="454.0" y="80.8" width="1" height="1" fill="#61b354"/>
<rect x="455.0" y="80.8" width="1" height="1" fill="#b9c839"/>
<rect x="456.0" y="80.8" width="1" height="1" fill="#e2c833"/>
<rect x="457.0" y="80.8" width="2" height="1" fill="#b9c839"/>
<rect x="459.0" y="80.8" width="1" height="1" fill="#8dc045"/>
<rect x="460.0" y="80.8" width="1" height="1" fill="#4aa771"/>
<rect x="461.0" y="80.8" width="1" height="1" fill="#4391b1"/>
<rect x="462.0" y="80.8" width="1" height="1" fill="#4f89bd"/>
<rect x="463.0" y="80.8" width="1" height="1" fill="#5e85c9" fill-opacity="0.67"/>
<rect x="464.0" y="80.8" width="2" height="1" fill="#7a9ad2" fill-opacity="0.67"/>
<rect x="466.0" y="80.8" width="1" height="1" fill="#4f89bd"/>
<rect x="467.0" y="80.8" width="2" height="1" fill="#409b98"/>
<rect x="469.0" y="80.8" width="1" height="1" fill="#4391b1"/>
<rect x="470.0" y="80.8" width="2" height="1" fill="#409b98"/>
<rect x="472.0" y="80.8" width="1" height="1" fill="#4391b1"/>
<rect x="473.0" y="80.8" width="4" height="1" fill="#409b98"/>
<rect x="477.0" y="80.8" width="3" height="1" fill="#4391b1"/>
<rect x="480.0" y="80.8" width="1" height="1" fill="#4f89bd"/>
<rect x="481.0" y="80.8" width="2" height="1" fill="#4391b1"/>
<rect x="483.0" y="80.8" width="3" height="1" fill="#409b98"/>
<rect x="486.0" y="80.8" width="1" height="1" fill="#4391b1"/>
<rect x="487.0" y="80.8" width="3" height="1" fill="#409b98"/>
<rect x="490.0" y="80.8" width="6" height="1" fill="#4391b1"/>
<rect x="496.0" y="80.8" width="1" height="1" fill="#4f89bd"/>
<rect x="497.0" y="80.8" width="1" height="1" fill="#7a9ad2" fill-opacity="0.67"/>
<rect x="450.0" y="81.8" width="1" height="1" fill="#7a9ad2" fill-opacity="0.67"/>
<rect x="451.0" y="81.8" width="1" height="1" fill="#5e85c9"/>
<rect x="452.0" y="81.8" width="1" height="1" fill="#4f89bd"/>
<rect x="453.0" y="81.8" width="1" height="1" fill="#409b98"/>
<rect x="454.0" y="81.8" width="1" height="1" fill="#61b354"/>
<rect x="455.0" y="81.8" width="1" height="1" fill="#8dc045"/>
<rect x="456.0" y="81.8" width="3" height="1" fill="#b9c839"/>
<rect x="459.0" y="81.8" width="1" height="1" fill="#8dc045"/>
<rect x="460.0" y="81.8" width="1" height="1" fill="#4aa771"/>
<rect x="461.0" y="81.8" width="1" height="1" fill="#4391b1"/>
<rect x="462.0" y="81.8" width="1" height="1" fill="#5e85c9"/>
<rect x="463.0" y="81.8" width="3" height="1" fill="#7a9ad2" fill-opacity="0.67"/>
<rect x="466.0" y="81.8" width="1" height="1" fill="#4f89bd"/>
<rect x="467.0" y="81.8" width="8" height="1" fill="#409b98"/>
<rect x="475.0" y="81.8" width="1" height="1" fill="#4aa771"/>
<rect x="476.0" y="81.8" width="1" height="1" fill="#409b98"/>
<rect x="477.0" y="81.8" width="5" height="1" fill="#4391b1"/>
<rect x="482.0" y="81.8" width="3" height="1" fill="#409b98"/>
<rect x="485.0" y="81.8" width="11" height="1" fill="#4391b1"/>
<rect x="496.0" y="81.8" width="1" height="1" fill="#5e85c9"/>
<rect x="450.0" y="82.8" width="1" height="1" fill="#7a9ad2" fill-opacity="0.67"/>
<rect x="451.0" y="82.8" width="1" height="1" fill="#5e85c9"/>
<rect x="452.0" y="82.8" width="1" height="1" fill="#4f89bd"/>
<rect x="453.0" y="82.8" width="1" height="1" fill="#4391b1"/>
<rect x="454.0" y="82.8" width="1" height="1" fill="#4aa771"/>
<rect x="455.0" y="82.8" width="4" height="1" fill="#8dc045"/>
<rect x="459.0" y="82.8" width="1" height="1" fill="#61b354"/>
<rect x="460.0" y="82.8" width="1" height="1" fill="#4aa771"/>
<rect x="461.0" y="82.8" width="1" height="1" fill="#4391b1"/>
<rect x="462.0" y="82.8" width="1" height="1" fill="#5e85c9"/>
<rect x="463.0" y="82.8" width="1" height="1" fill="#7a9ad2" fill-opacity="0.67"/>
<rect x="465.0" y="82.8" width="1" height="1" fill="#7a9ad2" fill-opacity="0.67"/>
<rect x="466.0" y="82.8" width="1" height="1" fill="#4f89bd"/>
<rect x="467.0" y="82.8" width="4" height="1" fill="#409b98"/>
<rect x="471.0" y="82.8" width="2" height="1" fill="#4391b1"/>
<rect x="473.0" y="82.8" width="4" height="1" fill="#409b98"/>
<rect x="477.0" y="82.8" width="2" height="1" fill="#4391b1"/>
<rect x="479.0" y="82.8" width="2" height="1" fill="#409b98"/>
<rect x="481.0" y="82.8" width="5" height="1" fill="#4391b1"/>
<rect x="486.0" y="82.8" width="1" height="1" fill="#4f89bd"/>
<rect x="487.0" y="82.8" width="1" height="1" fill="#4391b1"/>
<rect x="488.0" y="82.8" width="2" height="1" fill="#4f89bd"/>
<rect x="490.0" y="82.8" width="3" height="1" fill="#4391b1"/>
<rect x="493.0" y="82.8" width="3" height="1" fill="#4f89bd"/>
<rect x="496.0" y="82.8" width="1" height="1" fill="#5e85c9"/>
<rect x="449.0" y="83.8" width="1" height="1" fill="#96afdc" fill-opacity="0.33"/>
<rect x="450.0" y="83.8" width="2" height="1" fill="#7a9ad2" fill-opacity="0.67"/>
<rect x="452.0" y="83.8" width="1" height="1" fill="#5e85c9"/>
<rect x="453.0" y="83.8" width="1" height="1" fill="#4f89bd"/>
<rect x="454.0" y="83.8" width="1" height="1" fill="#409b98"/>
<rect x="455.0" y="83.8" width="4" height="1" fill="#61b354"/>
<rect x="459.0" y="83.8" width="1" height="1" fill="#4aa771"/>
<rect x="460.0" y="83.8" width="1" height="1" fill="#4391b1"/>
<rect x="461.0" y="83.8" width="1" height="1" fill="#4f89bd"/>
<rect x="462.0" y="83.8" width="1" height="1" fill="#5e85c9"/>
<rect x="463.0" y="83.8" width="1" height="1" fill="#7a9ad2" fill-opacity="0.67"/>
<rect x="466.0" y="83.8" width="1" height="1" fill="#5e85c9"/>
<rect x="467.0" y="83.8" width="1" height="1" fill="#4391b1"/>
<rect x="468.0" y="83.8" width="2" height="1" fill="#409b98"/>
<rect x="470.0" y="83.8" width="1" height="1" fill="#4391b1"/>
<rect x="471.0" y="83.8" width="1" height="1" fill="#4f89bd"/>
<rect x="472.0" y="83.8" width="8" height="1" fill="#4391b1"/>
<rect x="480.0" y="83.8" width="13" height="1" fill="#4f89bd"/>
<rect x="493.0" y="83.8" width="1" height="1" fill="#5e85c9"/>
<rect x="494.0" y="83.8" width="1" height="1" fill="#4f89bd"/>
<rect x="495.0" y="83.8" width="1" height="1" fill="#5e85c9"/>
<rect x="496.0" y="83.8" width="1" height="1" fill="#7a9ad2" fill-opacity="0.67"/>
<rect x="449.0" y="84.8" width="1" height="1" fill="#96afdc" fill-opacity="0.33"/>
<rect x="450.0" y="84.8" width="2" height="1" fill="#7a9ad2" fill-opacity="0.67"/>
<rect x="452.0" y="84.8" width="1" height="1" fill="#5e85c9"/>
<rect x="453.0" y="84.8" width="1" height="1" fill="#4f89bd"/>
<rect x="454.0" y="84.8" width="1" height="1" fill="#4391b1"/>
<rect x="455.0" y="84.8" width="1" height="1" fill="#4aa771"/>
<rect x="456.0" y="84.8" width="1" height="1" fill="#61b354"/>
<rect x="457.0" y="84.8" width="2" height="1" fill="#4aa771"/>
<rect x="459.0" y="84.8" width="1" height="1" fill="#409b98"/>
<rect x="460.0" y="84.8" width="1" height="1" fill="#4391b1"/>
<rect x="461.0" y="84.8" width="1" height="1" fill="#4f89bd"/>
<rect x="462.0" y="84.8" width="1" height="1" fill="#5e85c9"/>
<rect x="463.0" y="84.8" width="1" height="1" fill="#7a9ad2" fill-opacity="0.67"/>
<rect x="466.0" y="84.8" width="1" height="1" fill="#5e85c9"/>
<rect x="467.0" y="84.8" width="1" height="1" fill="#4f89bd"/>
<rect x="468.0" y="84.8" width="2" height="1" fill="#4391b1"/>
<rect x="470.0" y="84.8" width="1" height="1" fill="#4f89bd"/>
<rect x="471.0" y="84.8" width="2" height="1" fill="#5e85c9"/>
<rect x="473.0" y="84.8" width="2" height="1" fill="#4f89bd"/>
<rect x="475.0" y="84.8" width="1" height="1" fill="#5e85c9"/>
<rect x="476.0" y="84.8" width="2" height="1" fill="#4f89bd"/>
<rect x="478.0" y="84.8" width="11" height="1" fill="#5e85c9"/>
<rect x="489.0" y="84.8" width="1" height="1" fill="#4f89bd"/>
<rect x="490.0" y="84.8" width="2" height="1" fill="#5e85c9"/>
<rect x="492.0" y="84.8" width="1" height="1" fill="#7a9ad2" fill-opacity="0.67"/>
<rect x="493.0" y="84.8" width="3" height="1" fill="#5e85c9"/>
<rect x="496.0" y="84.8" width="1" height="1" fill="#7a9ad2" fill-opacity="0.67"/>
<rect x="450.0" y="85.8" width="1" height="1" fill="#96afdc" fill-opacity="0.33"/>
<rect x="451.0" y="85.8" width="1" height="1" fill="#7a9ad2" fill-opacity="0.67"/>
<rect x="452.0" y="85.8" width="1" height="1" fill="#5e85c9"/>
<rect x="453.0" y="85.8" width="1" height="1" fill="#4f89bd"/>
<rect x="454.0" y="85.8" width="1" height="1" fill="#4391b1"/>
<rect x="455.0" y="85.8" width="1" height="1" fill="#409b98"/>
<rect x="456.0" y="85.8" width="1" height="1" fill="#4aa771"/>
<rect x="457.0" y="85.8" width="2" height="1" fill="#409b98"/>
<rect x="459.0" y="85.8" width="1" height="1" fill="#4391b1"/>
<rect x="460.0" y="85.8" width="1" height="1" fill="#4f89bd"/>
<rect x="461.0" y="85.8" width="2" height="1" fill="#5e85c9"/>
<rect x="463.0" y="85.8" width="1" height="1" fill="#7a9ad2" fill-opacity="0.67"/>
<rect x="466.0" y="85.8" width="1" height="1" fill="#7a9ad2" fill-opacity="0.67"/>
<rect x="467.0" y="85.8" width="1" height="1" fill="#5e85c9" fill-opacity="0.67"/>
<rect x="468.0" y="85.8" width="3" height="1" fill="#5e85c9"/>
<rect x="471.0" y="85.8" width="3" height="1" fill="#7a9ad2" fill-opacity="0.67"/>
<rect x="474.0" y="85.8" width="4" height="1" fill="#5e85c9"/>
<rect x="478.0" y="85.8" width="2" height="1" fill="#7a9ad2" fill-opacity="0.67"/>
<rect x="480.0" y="85.8" width="1" height="1" fill="#5e85c9"/>
<rect x="481.0" y="85.8" width="1" height="1" fill="#5e85c9" fill-opacity="0.67"/>
<rect x="482.0" y="85.8" width="2" height="1" fill="#7a9ad2" fill-opacity="0.67"/>
<rect x="484.0" y="85.8" width="3" height="1" fill="#5e85c9"/>
<rect x="487.0" y="85.8" width="2" height="1" fill="#7a9ad2" fill-opacity="0.67"/>
<rect x="489.0" y="85.8" width="1" height="1" fill="#5e85c9"/>
<rect x="490.0" y="85.8" width="2" height="1" fill="#7a9ad2" fill-opacity="0.67"/>
<rect x="493.0" y="85.8" width="3" height="1" fill="#7a9ad2" fill-opacity="0.67"/>
<rect x="451.0" y="86.8" width="2" height="1" fill="#7a9ad2" fill-opacity="0.67"/>
<rect x="453.0" y="86.8" width="1" height="1" fill="#5e85c9"/>
<rect x="454.0" y="86.8" width="1" height="1" fill="#4f89bd"/>
<rect x="455.0" y="86.8" width="4" height="1" fill="#4391b1"/>
<rect x="459.0" y="86.8" width="1" height="1" fill="#4f89bd"/>
<rect x="460.0" y="86.8" width="1" height="1" fill="#5e85c9"/>
<rect x="461.0" y="86.8" width="2" height="1" fill="#7a9ad2" fill-opacity="0.67"/>
<rect x="466.0" y="86.8" width="1" height="1" fill="#96afdc" fill-opacity="0.33"/>
<rect x="468.0" y="86.8" width="5" height="1" fill="#7a9ad2" fill-opacity="0.67"/>
<rect x="473.0" y="86.8" width="1" height="1" fill="#96afdc" fill-opacity="0.33"/>
<rect x="474.0" y="86.8" width="3" height="1" fill="#7a9ad2" fill-opacity="0.67"/>
<rect x="478.0" y="86.8" width="2" height="1" fill="#96afdc" fill-opacity="0.33"/>
<rect x="480.0" y="86.8" width="1" height="1" fill="#7a9ad2" fill-opacity="0.67"/>
<rect x="481.0" y="86.8" width="1" height="1" fill="#96afdc" fill-opacity="0.33"/>
<rect x="483.0" y="86.8" width="4" height="1" fill="#7a9ad2" fill-opacity="0.67"/>
<rect x="487.0" y="86.8" width="1" height="1" fill="#96afdc" fill-opacity="0.33"/>
<rect x="493.0" y="86.8" width="1" height="1" fill="#96afdc" fill-opacity="0.33"/>
<rect x="495.0" y="86.8" width="1" height="1" fill="#96afdc" fill-opacity="0.33"/>
</g>
<rect x="446.50" y="26.3" width="62.8" height="62.70" fill="none" stroke="#333" stroke-width="0.9"/>
<line x1="467.80" y1="26.30" x2="467.80" y2="89.00" stroke="#333" stroke-width="0.9" />
<line x1="446.50" y1="69.30" x2="509.30" y2="69.30" stroke="#333" stroke-width="0.9" />
<line x1="445.30" y1="85.00" x2="446.50" y2="85.00" stroke="#444" stroke-width="0.6" />
<line x1="445.30" y1="74.00" x2="446.50" y2="74.00" stroke="#444" stroke-width="0.6" />
<line x1="445.30" y1="63.00" x2="446.50" y2="63.00" stroke="#444" stroke-width="0.6" />
<line x1="445.30" y1="52.00" x2="446.50" y2="52.00" stroke="#444" stroke-width="0.6" />
<line x1="445.30" y1="41.00" x2="446.50" y2="41.00" stroke="#444" stroke-width="0.6" />
<line x1="445.30" y1="30.00" x2="446.50" y2="30.00" stroke="#444" stroke-width="0.6" />
<line x1="450.50" y1="89.00" x2="450.50" y2="90.20" stroke="#444" stroke-width="0.6" />
<line x1="461.50" y1="89.00" x2="461.50" y2="90.20" stroke="#444" stroke-width="0.6" />
<line x1="472.50" y1="89.00" x2="472.50" y2="90.20" stroke="#444" stroke-width="0.6" />
<line x1="483.50" y1="89.00" x2="483.50" y2="90.20" stroke="#444" stroke-width="0.6" />
<line x1="494.50" y1="89.00" x2="494.50" y2="90.20" stroke="#444" stroke-width="0.6" />
<line x1="505.50" y1="89.00" x2="505.50" y2="90.20" stroke="#444" stroke-width="0.6" />
<text x="448.00" y="32.30" font-size="6.1" fill="#333" >7.48</text>
<text x="507.90" y="32.30" font-size="6.1" text-anchor="end" fill="#333" >0.12</text>
<text x="447.50" y="87.40" font-size="6.1" fill="#333" >53.4</text>
<text x="508.30" y="87.40" font-size="6.1" text-anchor="end" fill="#333" >39.0</text>
<path d="M226,75.5 L226,97.2 L246,97.2" fill="none" stroke="#333" stroke-width="0.9"/>
<polygon points="226,74.5 224.4,78 227.6,78" fill="#222"/>
<polygon points="248,97.2 244.5,95.6 244.5,98.8" fill="#222"/>
<text x="222.80" y="105.20" font-size="7.0" textLength="41.00" lengthAdjust="spacingAndGlyphs" transform="rotate(-90 222.80 105.20)" >CD11b/CD41a</text>
<text x="226.20" y="105.40" font-size="7.0" textLength="22.80" lengthAdjust="spacingAndGlyphs" >CD235a</text>
<text x="7.90" y="123.70" font-size="10.2" fill="#111" font-weight="bold" textLength="7.60" lengthAdjust="spacingAndGlyphs" stroke="#111" stroke-width="0.35">D</text>
<line x1="34.30" y1="122.80" x2="34.30" y2="187.20" stroke="#111" stroke-width="1" />
<line x1="33.90" y1="186.80" x2="98.80" y2="186.80" stroke="#111" stroke-width="1" />
<line x1="32.30" y1="186.80" x2="34.30" y2="186.80" stroke="#222" stroke-width="0.5" />
<line x1="32.30" y1="183.80" x2="34.30" y2="183.80" stroke="#222" stroke-width="0.5" />
<line x1="32.30" y1="180.80" x2="34.30" y2="180.80" stroke="#222" stroke-width="0.5" />
<line x1="32.30" y1="177.80" x2="34.30" y2="177.80" stroke="#222" stroke-width="0.5" />
<line x1="32.30" y1="174.80" x2="34.30" y2="174.80" stroke="#222" stroke-width="0.5" />
<line x1="32.30" y1="171.80" x2="34.30" y2="171.80" stroke="#222" stroke-width="0.5" />
<line x1="32.30" y1="168.80" x2="34.30" y2="168.80" stroke="#222" stroke-width="0.5" />
<line x1="32.30" y1="165.80" x2="34.30" y2="165.80" stroke="#222" stroke-width="0.5" />
<line x1="32.30" y1="162.80" x2="34.30" y2="162.80" stroke="#222" stroke-width="0.5" />
<line x1="32.30" y1="159.80" x2="34.30" y2="159.80" stroke="#222" stroke-width="0.5" />
<line x1="32.30" y1="156.80" x2="34.30" y2="156.80" stroke="#222" stroke-width="0.5" />
<line x1="32.30" y1="153.80" x2="34.30" y2="153.80" stroke="#222" stroke-width="0.5" />
<line x1="32.30" y1="150.80" x2="34.30" y2="150.80" stroke="#222" stroke-width="0.5" />
<line x1="32.30" y1="147.80" x2="34.30" y2="147.80" stroke="#222" stroke-width="0.5" />
<line x1="32.30" y1="144.80" x2="34.30" y2="144.80" stroke="#222" stroke-width="0.5" />
<line x1="32.30" y1="141.80" x2="34.30" y2="141.80" stroke="#222" stroke-width="0.5" />
<line x1="32.30" y1="138.80" x2="34.30" y2="138.80" stroke="#222" stroke-width="0.5" />
<line x1="32.30" y1="135.80" x2="34.30" y2="135.80" stroke="#222" stroke-width="0.5" />
<line x1="32.30" y1="132.80" x2="34.30" y2="132.80" stroke="#222" stroke-width="0.5" />
<line x1="32.30" y1="129.80" x2="34.30" y2="129.80" stroke="#222" stroke-width="0.5" />
<line x1="32.30" y1="126.80" x2="34.30" y2="126.80" stroke="#222" stroke-width="0.5" />
<line x1="32.30" y1="123.80" x2="34.30" y2="123.80" stroke="#222" stroke-width="0.5" />
<line x1="37.30" y1="186.80" x2="37.30" y2="188.60" stroke="#222" stroke-width="0.5" />
<line x1="40.30" y1="186.80" x2="40.30" y2="188.60" stroke="#222" stroke-width="0.5" />
<line x1="43.30" y1="186.80" x2="43.30" y2="188.60" stroke="#222" stroke-width="0.5" />
<line x1="46.30" y1="186.80" x2="46.30" y2="188.60" stroke="#222" stroke-width="0.5" />
<line x1="49.30" y1="186.80" x2="49.30" y2="188.60" stroke="#222" stroke-width="0.5" />
<line x1="52.30" y1="186.80" x2="52.30" y2="188.60" stroke="#222" stroke-width="0.5" />
<line x1="55.30" y1="186.80" x2="55.30" y2="188.60" stroke="#222" stroke-width="0.5" />
<line x1="58.30" y1="186.80" x2="58.30" y2="188.60" stroke="#222" stroke-width="0.5" />
<line x1="61.30" y1="186.80" x2="61.30" y2="188.60" stroke="#222" stroke-width="0.5" />
<line x1="64.30" y1="186.80" x2="64.30" y2="188.60" stroke="#222" stroke-width="0.5" />
<line x1="67.30" y1="186.80" x2="67.30" y2="188.60" stroke="#222" stroke-width="0.5" />
<line x1="70.30" y1="186.80" x2="70.30" y2="188.60" stroke="#222" stroke-width="0.5" />
<line x1="73.30" y1="186.80" x2="73.30" y2="188.60" stroke="#222" stroke-width="0.5" />
<line x1="76.30" y1="186.80" x2="76.30" y2="188.60" stroke="#222" stroke-width="0.5" />
<line x1="79.30" y1="186.80" x2="79.30" y2="188.60" stroke="#222" stroke-width="0.5" />
<line x1="82.30" y1="186.80" x2="82.30" y2="188.60" stroke="#222" stroke-width="0.5" />
<line x1="85.30" y1="186.80" x2="85.30" y2="188.60" stroke="#222" stroke-width="0.5" />
<line x1="88.30" y1="186.80" x2="88.30" y2="188.60" stroke="#222" stroke-width="0.5" />
<line x1="91.30" y1="186.80" x2="91.30" y2="188.60" stroke="#222" stroke-width="0.5" />
<line x1="94.30" y1="186.80" x2="94.30" y2="188.60" stroke="#222" stroke-width="0.5" />
<line x1="97.30" y1="186.80" x2="97.30" y2="188.60" stroke="#222" stroke-width="0.5" />
<line x1="100.30" y1="186.80" x2="100.30" y2="188.60" stroke="#222" stroke-width="0.5" />
<line x1="54.30" y1="194.60" x2="72.70" y2="194.60" stroke="#111" stroke-width="0.9" />
<polygon points="75.90,194.60 72.70,196.40 72.70,192.80" fill="#111"/>
<text x="42.30" y="203.80" font-size="9.0" textLength="46.80" lengthAdjust="spacingAndGlyphs" stroke="#222" stroke-width="0.1">Forward scatter</text>
<line x1="108.60" y1="122.80" x2="108.60" y2="187.20" stroke="#111" stroke-width="1" />
<line x1="108.20" y1="186.80" x2="173.10" y2="186.80" stroke="#111" stroke-width="1" />
<line x1="106.60" y1="186.80" x2="108.60" y2="186.80" stroke="#222" stroke-width="0.5" />
<line x1="106.60" y1="183.80" x2="108.60" y2="183.80" stroke="#222" stroke-width="0.5" />
<line x1="106.60" y1="180.80" x2="108.60" y2="180.80" stroke="#222" stroke-width="0.5" />
<line x1="106.60" y1="177.80" x2="108.60" y2="177.80" stroke="#222" stroke-width="0.5" />
<line x1="106.60" y1="174.80" x2="108.60" y2="174.80" stroke="#222" stroke-width="0.5" />
<line x1="106.60" y1="171.80" x2="108.60" y2="171.80" stroke="#222" stroke-width="0.5" />
<line x1="106.60" y1="168.80" x2="108.60" y2="168.80" stroke="#222" stroke-width="0.5" />
<line x1="106.60" y1="165.80" x2="108.60" y2="165.80" stroke="#222" stroke-width="0.5" />
<line x1="106.60" y1="162.80" x2="108.60" y2="162.80" stroke="#222" stroke-width="0.5" />
<line x1="106.60" y1="159.80" x2="108.60" y2="159.80" stroke="#222" stroke-width="0.5" />
<line x1="106.60" y1="156.80" x2="108.60" y2="156.80" stroke="#222" stroke-width="0.5" />
<line x1="106.60" y1="153.80" x2="108.60" y2="153.80" stroke="#222" stroke-width="0.5" />
<line x1="106.60" y1="150.80" x2="108.60" y2="150.80" stroke="#222" stroke-width="0.5" />
<line x1="106.60" y1="147.80" x2="108.60" y2="147.80" stroke="#222" stroke-width="0.5" />
<line x1="106.60" y1="144.80" x2="108.60" y2="144.80" stroke="#222" stroke-width="0.5" />
<line x1="106.60" y1="141.80" x2="108.60" y2="141.80" stroke="#222" stroke-width="0.5" />
<line x1="106.60" y1="138.80" x2="108.60" y2="138.80" stroke="#222" stroke-width="0.5" />
<line x1="106.60" y1="135.80" x2="108.60" y2="135.80" stroke="#222" stroke-width="0.5" />
<line x1="106.60" y1="132.80" x2="108.60" y2="132.80" stroke="#222" stroke-width="0.5" />
<line x1="106.60" y1="129.80" x2="108.60" y2="129.80" stroke="#222" stroke-width="0.5" />
<line x1="106.60" y1="126.80" x2="108.60" y2="126.80" stroke="#222" stroke-width="0.5" />
<line x1="106.60" y1="123.80" x2="108.60" y2="123.80" stroke="#222" stroke-width="0.5" />
<line x1="111.60" y1="186.80" x2="111.60" y2="188.60" stroke="#222" stroke-width="0.5" />
<line x1="114.60" y1="186.80" x2="114.60" y2="188.60" stroke="#222" stroke-width="0.5" />
<line x1="117.60" y1="186.80" x2="117.60" y2="188.60" stroke="#222" stroke-width="0.5" />
<line x1="120.60" y1="186.80" x2="120.60" y2="188.60" stroke="#222" stroke-width="0.5" />
<line x1="123.60" y1="186.80" x2="123.60" y2="188.60" stroke="#222" stroke-width="0.5" />
<line x1="126.60" y1="186.80" x2="126.60" y2="188.60" stroke="#222" stroke-width="0.5" />
<line x1="129.60" y1="186.80" x2="129.60" y2="188.60" stroke="#222" stroke-width="0.5" />
<line x1="132.60" y1="186.80" x2="132.60" y2="188.60" stroke="#222" stroke-width="0.5" />
<line x1="135.60" y1="186.80" x2="135.60" y2="188.60" stroke="#222" stroke-width="0.5" />
<line x1="138.60" y1="186.80" x2="138.60" y2="188.60" stroke="#222" stroke-width="0.5" />
<line x1="141.60" y1="186.80" x2="141.60" y2="188.60" stroke="#222" stroke-width="0.5" />
<line x1="144.60" y1="186.80" x2="144.60" y2="188.60" stroke="#222" stroke-width="0.5" />
<line x1="147.60" y1="186.80" x2="147.60" y2="188.60" stroke="#222" stroke-width="0.5" />
<line x1="150.60" y1="186.80" x2="150.60" y2="188.60" stroke="#222" stroke-width="0.5" />
<line x1="153.60" y1="186.80" x2="153.60" y2="188.60" stroke="#222" stroke-width="0.5" />
<line x1="156.60" y1="186.80" x2="156.60" y2="188.60" stroke="#222" stroke-width="0.5" />
<line x1="159.60" y1="186.80" x2="159.60" y2="188.60" stroke="#222" stroke-width="0.5" />
<line x1="162.60" y1="186.80" x2="162.60" y2="188.60" stroke="#222" stroke-width="0.5" />
<line x1="165.60" y1="186.80" x2="165.60" y2="188.60" stroke="#222" stroke-width="0.5" />
<line x1="168.60" y1="186.80" x2="168.60" y2="188.60" stroke="#222" stroke-width="0.5" />
<line x1="171.60" y1="186.80" x2="171.60" y2="188.60" stroke="#222" stroke-width="0.5" />
<line x1="174.60" y1="186.80" x2="174.60" y2="188.60" stroke="#222" stroke-width="0.5" />
<line x1="128.60" y1="194.60" x2="147.00" y2="194.60" stroke="#111" stroke-width="0.9" />
<polygon points="150.20,194.60 147.00,196.40 147.00,192.80" fill="#111"/>
<text x="116.60" y="203.80" font-size="9.0" textLength="46.80" lengthAdjust="spacingAndGlyphs" stroke="#222" stroke-width="0.1">Forward scatter</text>
<path d="M43.00,186.74 L43.68,186.71 L44.36,186.67 L45.04,186.60 L45.71,186.51 L46.39,186.39 L47.07,186.21 L47.75,185.97 L48.43,185.65 L49.11,185.22 L49.79,184.66 L50.46,183.93 L51.14,183.01 L51.82,181.50 L52.50,180.79 L53.18,178.99 L53.86,176.34 L54.54,174.19 L55.21,171.31 L55.89,168.41 L56.57,165.11 L57.25,160.09 L57.93,155.80 L58.61,153.09 L59.29,147.96 L59.96,144.51 L60.64,138.73 L61.32,136.30 L62.00,134.13 L62.68,130.68 L63.36,131.55 L64.04,131.49 L64.71,129.86 L65.39,131.20 L66.07,134.39 L66.75,137.59 L67.43,138.66 L68.11,141.03 L68.79,144.47 L69.46,146.68 L70.14,150.25 L70.82,153.82 L71.50,157.01 L72.18,159.54 L72.86,162.43 L73.54,165.15 L74.21,168.07 L74.89,170.19 L75.57,172.02 L76.25,175.01 L76.93,176.42 L77.61,178.08 L78.29,178.97 L78.96,181.02 L79.64,181.92 L80.32,182.47 L81.00,183.24 L81.68,183.90 L82.36,184.45 L83.04,184.90 L83.71,185.28 L84.39,185.59 L85.07,185.85 L85.75,186.05 L86.43,186.22 L87.11,186.35 L87.79,186.45 L88.46,186.53 L89.14,186.60 L89.82,186.65 L90.50,186.68" fill="none" stroke="#f5b427" stroke-width="1.5"/>
<path d="M39.50,186.74 L40.24,186.71 L40.99,186.66 L41.73,186.59 L42.47,186.49 L43.21,186.34 L43.96,186.12 L44.70,185.83 L45.44,185.42 L46.19,184.88 L46.93,184.16 L47.67,183.22 L48.41,182.60 L49.16,181.12 L49.90,178.03 L50.64,175.78 L51.39,174.33 L52.13,171.12 L52.87,167.54 L53.61,162.92 L54.36,159.43 L55.10,155.09 L55.84,150.62 L56.59,145.05 L57.33,141.84 L58.07,138.21 L58.81,136.59 L59.56,135.78 L60.30,135.04 L61.04,133.95 L61.79,134.46 L62.53,135.11 L63.27,135.95 L64.01,137.89 L64.76,141.53 L65.50,143.45 L66.24,146.19 L66.99,150.30 L67.73,151.94 L68.47,154.73 L69.21,156.61 L69.96,158.78 L70.70,162.06 L71.44,164.13 L72.19,167.24 L72.93,170.34 L73.67,171.74 L74.41,172.76 L75.16,175.65 L75.90,177.03 L76.64,178.32 L77.39,179.81 L78.13,180.70 L78.87,181.71 L79.61,182.00 L80.36,182.93 L81.10,183.57 L81.84,184.12 L82.59,184.59 L83.33,184.99 L84.07,185.32 L84.81,185.60 L85.56,185.83 L86.30,186.03 L87.04,186.18 L87.79,186.31 L88.53,186.41 L89.27,186.50 L90.01,186.56 L90.76,186.62 L91.50,186.66" fill="none" stroke="#b51f38" stroke-width="1.7"/>
<path d="M114.50,186.74 L115.19,186.70 L115.89,186.66 L116.58,186.59 L117.27,186.50 L117.96,186.37 L118.66,186.19 L119.35,185.94 L120.04,185.62 L120.74,185.18 L121.43,184.62 L122.12,183.89 L122.81,182.96 L123.51,181.55 L124.20,180.43 L124.89,178.52 L125.59,176.73 L126.28,174.36 L126.97,170.84 L127.66,167.57 L128.36,165.31 L129.05,160.56 L129.74,156.43 L130.44,153.72 L131.13,148.41 L131.82,145.10 L132.51,140.35 L133.21,137.27 L133.90,133.07 L134.59,132.23 L135.29,131.69 L135.98,130.69 L136.67,132.02 L137.36,133.10 L138.06,133.20 L138.75,137.16 L139.44,139.18 L140.14,141.19 L140.83,143.49 L141.52,148.40 L142.21,150.64 L142.91,154.23 L143.60,157.57 L144.29,160.22 L144.99,163.40 L145.68,165.26 L146.37,168.41 L147.06,170.25 L147.76,173.06 L148.45,174.93 L149.14,175.76 L149.84,177.40 L150.53,178.90 L151.22,180.90 L151.91,181.42 L152.61,182.40 L153.30,183.18 L153.99,183.84 L154.69,184.40 L155.38,184.86 L156.07,185.25 L156.76,185.57 L157.46,185.82 L158.15,186.03 L158.84,186.20 L159.54,186.34 L160.23,186.44 L160.92,186.53 L161.61,186.59 L162.31,186.64 L163.00,186.68" fill="none" stroke="#f2d24a" stroke-width="1.5"/>
<path d="M114.00,186.73 L114.69,186.70 L115.39,186.66 L116.08,186.59 L116.77,186.50 L117.46,186.37 L118.16,186.19 L118.85,185.96 L119.54,185.64 L120.24,185.22 L120.93,184.68 L121.62,183.99 L122.31,183.11 L123.01,181.70 L123.70,180.18 L124.39,178.90 L125.09,176.61 L125.78,174.16 L126.47,172.01 L127.16,169.90 L127.86,166.41 L128.55,162.76 L129.24,157.73 L129.94,154.36 L130.63,149.57 L131.32,145.16 L132.01,141.00 L132.71,137.70 L133.40,136.85 L134.09,134.17 L134.79,132.55 L135.48,132.02 L136.17,130.45 L136.86,131.91 L137.56,134.51 L138.25,136.83 L138.94,139.53 L139.64,142.20 L140.33,142.79 L141.02,147.24 L141.71,150.48 L142.41,153.18 L143.10,155.53 L143.79,159.22 L144.49,161.36 L145.18,165.78 L145.87,168.21 L146.56,170.04 L147.26,171.86 L147.95,174.81 L148.64,176.12 L149.34,178.15 L150.03,179.51 L150.72,180.32 L151.41,181.30 L152.11,182.34 L152.80,183.14 L153.49,183.81 L154.19,184.38 L154.88,184.85 L155.57,185.24 L156.26,185.56 L156.96,185.83 L157.65,186.04 L158.34,186.21 L159.04,186.34 L159.73,186.45 L160.42,186.53 L161.11,186.60 L161.81,186.65 L162.50,186.68" fill="none" stroke="#35a85a" stroke-width="1.6"/>
<path d="M115.00,186.74 L115.66,186.71 L116.33,186.67 L116.99,186.61 L117.66,186.52 L118.32,186.41 L118.99,186.25 L119.65,186.03 L120.31,185.74 L120.98,185.35 L121.64,184.85 L122.31,184.21 L122.97,183.40 L123.64,182.38 L124.30,181.31 L124.96,179.98 L125.63,178.27 L126.29,176.42 L126.96,173.60 L127.62,171.18 L128.29,166.05 L128.95,163.54 L129.61,161.03 L130.28,156.32 L130.94,153.05 L131.61,146.45 L132.27,143.67 L132.94,139.15 L133.60,137.01 L134.26,134.48 L134.93,130.25 L135.59,130.09 L136.26,130.48 L136.92,133.98 L137.59,134.74 L138.25,134.19 L138.91,138.96 L139.58,139.08 L140.24,143.68 L140.91,145.02 L141.57,147.81 L142.24,153.72 L142.90,154.91 L143.56,158.06 L144.23,163.04 L144.89,165.54 L145.56,166.84 L146.22,170.77 L146.89,172.14 L147.55,174.46 L148.21,175.46 L148.88,178.38 L149.54,179.40 L150.21,181.09 L150.87,182.05 L151.54,182.41 L152.20,183.21 L152.86,183.89 L153.53,184.45 L154.19,184.92 L154.86,185.31 L155.52,185.62 L156.19,185.88 L156.85,186.08 L157.51,186.24 L158.18,186.37 L158.84,186.47 L159.51,186.55 L160.17,186.61 L160.84,186.66 L161.50,186.70" fill="none" stroke="#1d5c88" stroke-width="1.4"/>
<text x="25.80" y="185.30" font-size="8.8" textLength="58.00" lengthAdjust="spacingAndGlyphs" transform="rotate(-90 25.80 185.30)" stroke="#222" stroke-width="0.1">Relative frequency</text>
<rect x="174.10" y="136.70" width="4.40" height="4.00" fill="#f0c030" />
<text x="181.30" y="140.70" font-size="6.4" fill="#333" textLength="21.70" lengthAdjust="spacingAndGlyphs" >Empty</text>
<rect x="174.10" y="144.90" width="4.40" height="4.00" fill="#b01c30" />
<text x="181.30" y="148.90" font-size="6.4" fill="#333" textLength="24.60" lengthAdjust="spacingAndGlyphs" >GATA1</text>
<rect x="174.10" y="153.10" width="4.40" height="4.00" fill="#3aaa5a" />
<text x="181.30" y="157.10" font-size="6.4" fill="#333" textLength="24.00" lengthAdjust="spacingAndGlyphs" >R307C</text>
<rect x="174.10" y="161.30" width="4.40" height="4.00" fill="#1a3c6c" />
<text x="181.30" y="165.30" font-size="6.4" fill="#333" textLength="24.40" lengthAdjust="spacingAndGlyphs" >R307H</text>
<g filter="url(#mblur)">
<rect x="230.40" y="127.20" width="66.20" height="66.30" fill="#e6e6e6" />
<ellipse cx="243.5" cy="137.0" rx="3.60" ry="2.88" fill="#d4cef0" opacity="0.26" transform="rotate(58 243.5 137.0)"/>
<ellipse cx="243.5" cy="137.0" rx="2.52" ry="1.89" fill="#8a7cc4" opacity="0.28" transform="rotate(58 243.5 137.0)"/>
<ellipse cx="243.9" cy="137.2" rx="1.35" ry="0.99" fill="#4e3e98" opacity="0.23" transform="rotate(98 243.5 137.0)"/>
<ellipse cx="250.8" cy="134.2" rx="3.60" ry="2.88" fill="#d4cef0" opacity="0.45" transform="rotate(27 250.8 134.2)"/>
<ellipse cx="250.8" cy="134.2" rx="2.52" ry="1.89" fill="#8a7cc4" opacity="0.48" transform="rotate(27 250.8 134.2)"/>
<ellipse cx="251.2" cy="134.4" rx="1.35" ry="0.99" fill="#4e3e98" opacity="0.39" transform="rotate(67 250.8 134.2)"/>
<ellipse cx="268.4" cy="135.4" rx="3.80" ry="3.04" fill="#d4cef0" opacity="0.38" transform="rotate(117 268.4 135.4)"/>
<ellipse cx="268.4" cy="135.4" rx="2.66" ry="1.99" fill="#8a7cc4" opacity="0.40" transform="rotate(117 268.4 135.4)"/>
<ellipse cx="268.8" cy="135.6" rx="1.42" ry="1.04" fill="#4e3e98" opacity="0.33" transform="rotate(157 268.4 135.4)"/>
<ellipse cx="239.6" cy="150.8" rx="3.80" ry="3.04" fill="#d4cef0" opacity="0.56" transform="rotate(13 239.6 150.8)"/>
<ellipse cx="239.6" cy="150.8" rx="2.66" ry="1.99" fill="#8a7cc4" opacity="0.60" transform="rotate(13 239.6 150.8)"/>
<ellipse cx="240.0" cy="151.0" rx="1.42" ry="1.04" fill="#4e3e98" opacity="0.49" transform="rotate(53 239.6 150.8)"/>
<ellipse cx="245.0" cy="150.0" rx="4.40" ry="3.52" fill="#d4cef0" opacity="0.64" transform="rotate(96 245.0 150.0)"/>
<ellipse cx="245.0" cy="150.0" rx="3.08" ry="2.31" fill="#8a7cc4" opacity="0.68" transform="rotate(96 245.0 150.0)"/>
<ellipse cx="245.4" cy="150.2" rx="1.65" ry="1.21" fill="#4e3e98" opacity="0.55" transform="rotate(136 245.0 150.0)"/>
<ellipse cx="248.2" cy="154.6" rx="3.60" ry="2.88" fill="#d4cef0" opacity="0.38" transform="rotate(66 248.2 154.6)"/>
<ellipse cx="248.2" cy="154.6" rx="2.52" ry="1.89" fill="#8a7cc4" opacity="0.40" transform="rotate(66 248.2 154.6)"/>
<ellipse cx="248.6" cy="154.8" rx="1.35" ry="0.99" fill="#4e3e98" opacity="0.33" transform="rotate(106 248.2 154.6)"/>
<ellipse cx="259.6" cy="163.0" rx="4.00" ry="3.20" fill="#d4cef0" opacity="0.68" transform="rotate(10 259.6 163.0)"/>
<ellipse cx="259.6" cy="163.0" rx="2.80" ry="2.10" fill="#8a7cc4" opacity="0.72" transform="rotate(10 259.6 163.0)"/>
<ellipse cx="260.0" cy="163.2" rx="1.50" ry="1.10" fill="#4e3e98" opacity="0.59" transform="rotate(50 259.6 163.0)"/>
<ellipse cx="266.5" cy="167.7" rx="4.60" ry="3.68" fill="#d4cef0" opacity="0.64" transform="rotate(91 266.5 167.7)"/>
<ellipse cx="266.5" cy="167.7" rx="3.22" ry="2.42" fill="#8a7cc4" opacity="0.68" transform="rotate(91 266.5 167.7)"/>
<ellipse cx="266.9" cy="167.9" rx="1.72" ry="1.26" fill="#4e3e98" opacity="0.55" transform="rotate(131 266.5 167.7)"/>
<ellipse cx="260.7" cy="174.6" rx="3.20" ry="2.56" fill="#d4cef0" opacity="0.52" transform="rotate(7 260.7 174.6)"/>
<ellipse cx="260.7" cy="174.6" rx="2.24" ry="1.68" fill="#8a7cc4" opacity="0.56" transform="rotate(7 260.7 174.6)"/>
<ellipse cx="261.1" cy="174.8" rx="1.20" ry="0.88" fill="#4e3e98" opacity="0.45" transform="rotate(47 260.7 174.6)"/>
<ellipse cx="287.3" cy="172.0" rx="4.80" ry="3.84" fill="#d4cef0" opacity="0.60" transform="rotate(78 287.3 172.0)"/>
<ellipse cx="287.3" cy="172.0" rx="3.36" ry="2.52" fill="#8a7cc4" opacity="0.64" transform="rotate(78 287.3 172.0)"/>
<ellipse cx="287.7" cy="172.2" rx="1.80" ry="1.32" fill="#4e3e98" opacity="0.52" transform="rotate(118 287.3 172.0)"/>
<ellipse cx="278.8" cy="187.0" rx="4.80" ry="3.84" fill="#d4cef0" opacity="0.68" transform="rotate(13 278.8 187.0)"/>
<ellipse cx="278.8" cy="187.0" rx="3.36" ry="2.52" fill="#8a7cc4" opacity="0.72" transform="rotate(13 278.8 187.0)"/>
<ellipse cx="279.2" cy="187.2" rx="1.80" ry="1.32" fill="#4e3e98" opacity="0.59" transform="rotate(53 278.8 187.0)"/>
<ellipse cx="271.0" cy="188.5" rx="3.60" ry="2.88" fill="#d4cef0" opacity="0.19" transform="rotate(16 271.0 188.5)"/>
<ellipse cx="271.0" cy="188.5" rx="2.52" ry="1.89" fill="#8a7cc4" opacity="0.20" transform="rotate(16 271.0 188.5)"/>
<ellipse cx="271.4" cy="188.7" rx="1.35" ry="0.99" fill="#4e3e98" opacity="0.16" transform="rotate(56 271.0 188.5)"/>
<ellipse cx="290.4" cy="190.5" rx="2.80" ry="2.24" fill="#d4cef0" opacity="0.22" transform="rotate(76 290.4 190.5)"/>
<ellipse cx="290.4" cy="190.5" rx="1.96" ry="1.47" fill="#8a7cc4" opacity="0.24" transform="rotate(76 290.4 190.5)"/>
<ellipse cx="290.8" cy="190.7" rx="1.05" ry="0.77" fill="#4e3e98" opacity="0.20" transform="rotate(116 290.4 190.5)"/>
<rect x="230.40" y="127.2" width="66.2" height="66.3" fill="none" stroke="#333" stroke-width="1"/>
<rect x="301.60" y="127.20" width="66.20" height="66.30" fill="#ebebeb" />
<ellipse cx="326.5" cy="130.8" rx="4.40" ry="3.52" fill="#d4cef0" opacity="0.71" transform="rotate(149 326.5 130.8)"/>
<ellipse cx="326.5" cy="130.8" rx="3.08" ry="2.31" fill="#8a7cc4" opacity="0.76" transform="rotate(149 326.5 130.8)"/>
<ellipse cx="326.9" cy="131.0" rx="1.65" ry="1.21" fill="#4e3e98" opacity="0.62" transform="rotate(189 326.5 130.8)"/>
<ellipse cx="326.5" cy="138.5" rx="4.00" ry="3.20" fill="#d4cef0" opacity="0.60" transform="rotate(22 326.5 138.5)"/>
<ellipse cx="326.5" cy="138.5" rx="2.80" ry="2.10" fill="#8a7cc4" opacity="0.64" transform="rotate(22 326.5 138.5)"/>
<ellipse cx="326.9" cy="138.7" rx="1.50" ry="1.10" fill="#4e3e98" opacity="0.52" transform="rotate(62 326.5 138.5)"/>
<ellipse cx="318.8" cy="139.7" rx="3.00" ry="2.40" fill="#d4cef0" opacity="0.19" transform="rotate(40 318.8 139.7)"/>
<ellipse cx="318.8" cy="139.7" rx="2.10" ry="1.58" fill="#8a7cc4" opacity="0.20" transform="rotate(40 318.8 139.7)"/>
<ellipse cx="319.2" cy="139.9" rx="1.12" ry="0.83" fill="#4e3e98" opacity="0.16" transform="rotate(80 318.8 139.7)"/>
<ellipse cx="318.0" cy="157.0" rx="4.80" ry="3.84" fill="#d4cef0" opacity="0.64" transform="rotate(113 318.0 157.0)"/>
<ellipse cx="318.0" cy="157.0" rx="3.36" ry="2.52" fill="#8a7cc4" opacity="0.68" transform="rotate(113 318.0 157.0)"/>
<ellipse cx="318.4" cy="157.2" rx="1.80" ry="1.32" fill="#4e3e98" opacity="0.55" transform="rotate(153 318.0 157.0)"/>
<ellipse cx="321.0" cy="164.6" rx="3.60" ry="2.88" fill="#d4cef0" opacity="0.52" transform="rotate(171 321.0 164.6)"/>
<ellipse cx="321.0" cy="164.6" rx="2.52" ry="1.89" fill="#8a7cc4" opacity="0.56" transform="rotate(171 321.0 164.6)"/>
<ellipse cx="321.4" cy="164.8" rx="1.35" ry="0.99" fill="#4e3e98" opacity="0.45" transform="rotate(211 321.0 164.6)"/>
<ellipse cx="332.0" cy="153.0" rx="3.60" ry="2.88" fill="#d4cef0" opacity="0.52" transform="rotate(104 332.0 153.0)"/>
<ellipse cx="332.0" cy="153.0" rx="2.52" ry="1.89" fill="#8a7cc4" opacity="0.56" transform="rotate(104 332.0 153.0)"/>
<ellipse cx="332.4" cy="153.2" rx="1.35" ry="0.99" fill="#4e3e98" opacity="0.45" transform="rotate(144 332.0 153.0)"/>
<ellipse cx="336.5" cy="153.8" rx="3.20" ry="2.56" fill="#d4cef0" opacity="0.45" transform="rotate(71 336.5 153.8)"/>
<ellipse cx="336.5" cy="153.8" rx="2.24" ry="1.68" fill="#8a7cc4" opacity="0.48" transform="rotate(71 336.5 153.8)"/>
<ellipse cx="336.9" cy="154.0" rx="1.20" ry="0.88" fill="#4e3e98" opacity="0.39" transform="rotate(111 336.5 153.8)"/>
<ellipse cx="332.0" cy="157.0" rx="3.60" ry="2.88" fill="#d4cef0" opacity="0.56" transform="rotate(176 332.0 157.0)"/>
<ellipse cx="332.0" cy="157.0" rx="2.52" ry="1.89" fill="#8a7cc4" opacity="0.60" transform="rotate(176 332.0 157.0)"/>
<ellipse cx="332.4" cy="157.2" rx="1.35" ry="0.99" fill="#4e3e98" opacity="0.49" transform="rotate(216 332.0 157.0)"/>
<ellipse cx="332.7" cy="165.4" rx="3.80" ry="3.04" fill="#d4cef0" opacity="0.56" transform="rotate(8 332.7 165.4)"/>
<ellipse cx="332.7" cy="165.4" rx="2.66" ry="1.99" fill="#8a7cc4" opacity="0.60" transform="rotate(8 332.7 165.4)"/>
<ellipse cx="333.1" cy="165.6" rx="1.42" ry="1.04" fill="#4e3e98" opacity="0.49" transform="rotate(48 332.7 165.4)"/>
<ellipse cx="328.0" cy="169.2" rx="4.20" ry="3.36" fill="#d4cef0" opacity="0.60" transform="rotate(155 328.0 169.2)"/>
<ellipse cx="328.0" cy="169.2" rx="2.94" ry="2.21" fill="#8a7cc4" opacity="0.64" transform="rotate(155 328.0 169.2)"/>
<ellipse cx="328.4" cy="169.4" rx="1.58" ry="1.16" fill="#4e3e98" opacity="0.52" transform="rotate(195 328.0 169.2)"/>
<ellipse cx="358.8" cy="179.2" rx="4.40" ry="3.52" fill="#d4cef0" opacity="0.52" transform="rotate(52 358.8 179.2)"/>
<ellipse cx="358.8" cy="179.2" rx="3.08" ry="2.31" fill="#8a7cc4" opacity="0.56" transform="rotate(52 358.8 179.2)"/>
<ellipse cx="359.2" cy="179.4" rx="1.65" ry="1.21" fill="#4e3e98" opacity="0.45" transform="rotate(92 358.8 179.2)"/>
<ellipse cx="325.0" cy="187.7" rx="4.80" ry="3.84" fill="#d4cef0" opacity="0.60" transform="rotate(26 325.0 187.7)"/>
<ellipse cx="325.0" cy="187.7" rx="3.36" ry="2.52" fill="#8a7cc4" opacity="0.64" transform="rotate(26 325.0 187.7)"/>
<ellipse cx="325.4" cy="187.9" rx="1.80" ry="1.32" fill="#4e3e98" opacity="0.52" transform="rotate(66 325.0 187.7)"/>
<rect x="301.60" y="127.2" width="66.2" height="66.3" fill="none" stroke="#333" stroke-width="1"/>
<rect x="373.50" y="127.20" width="66.20" height="66.30" fill="#f0f0f0" />
<ellipse cx="379.6" cy="143.0" rx="4.40" ry="3.52" fill="#d4cef0" opacity="0.60" transform="rotate(21 379.6 143.0)"/>
<ellipse cx="379.6" cy="143.0" rx="3.08" ry="2.31" fill="#8a7cc4" opacity="0.64" transform="rotate(21 379.6 143.0)"/>
<ellipse cx="380.0" cy="143.2" rx="1.65" ry="1.21" fill="#4e3e98" opacity="0.52" transform="rotate(61 379.6 143.0)"/>
<ellipse cx="378.0" cy="148.5" rx="3.80" ry="3.04" fill="#d4cef0" opacity="0.52" transform="rotate(56 378.0 148.5)"/>
<ellipse cx="378.0" cy="148.5" rx="2.66" ry="1.99" fill="#8a7cc4" opacity="0.56" transform="rotate(56 378.0 148.5)"/>
<ellipse cx="378.4" cy="148.7" rx="1.42" ry="1.04" fill="#4e3e98" opacity="0.45" transform="rotate(96 378.0 148.5)"/>
<ellipse cx="385.0" cy="152.3" rx="3.80" ry="3.04" fill="#d4cef0" opacity="0.56" transform="rotate(147 385.0 152.3)"/>
<ellipse cx="385.0" cy="152.3" rx="2.66" ry="1.99" fill="#8a7cc4" opacity="0.60" transform="rotate(147 385.0 152.3)"/>
<ellipse cx="385.4" cy="152.5" rx="1.42" ry="1.04" fill="#4e3e98" opacity="0.49" transform="rotate(187 385.0 152.3)"/>
<ellipse cx="382.0" cy="157.7" rx="3.60" ry="2.88" fill="#d4cef0" opacity="0.34" transform="rotate(33 382.0 157.7)"/>
<ellipse cx="382.0" cy="157.7" rx="2.52" ry="1.89" fill="#8a7cc4" opacity="0.36" transform="rotate(33 382.0 157.7)"/>
<ellipse cx="382.4" cy="157.9" rx="1.35" ry="0.99" fill="#4e3e98" opacity="0.29" transform="rotate(73 382.0 157.7)"/>
<ellipse cx="388.0" cy="137.0" rx="3.20" ry="2.56" fill="#d4cef0" opacity="0.15" transform="rotate(105 388.0 137.0)"/>
<ellipse cx="388.0" cy="137.0" rx="2.24" ry="1.68" fill="#8a7cc4" opacity="0.16" transform="rotate(105 388.0 137.0)"/>
<ellipse cx="388.4" cy="137.2" rx="1.20" ry="0.88" fill="#4e3e98" opacity="0.13" transform="rotate(145 388.0 137.0)"/>
<ellipse cx="398.0" cy="162.3" rx="4.00" ry="3.20" fill="#d4cef0" opacity="0.60" transform="rotate(115 398.0 162.3)"/>
<ellipse cx="398.0" cy="162.3" rx="2.80" ry="2.10" fill="#8a7cc4" opacity="0.64" transform="rotate(115 398.0 162.3)"/>
<ellipse cx="398.4" cy="162.5" rx="1.50" ry="1.10" fill="#4e3e98" opacity="0.52" transform="rotate(155 398.0 162.3)"/>
<ellipse cx="388.0" cy="173.0" rx="5.20" ry="4.16" fill="#d4cef0" opacity="0.60" transform="rotate(67 388.0 173.0)"/>
<ellipse cx="388.0" cy="173.0" rx="3.64" ry="2.73" fill="#8a7cc4" opacity="0.64" transform="rotate(67 388.0 173.0)"/>
<ellipse cx="388.4" cy="173.2" rx="1.95" ry="1.43" fill="#4e3e98" opacity="0.52" transform="rotate(107 388.0 173.0)"/>
<ellipse cx="403.5" cy="173.0" rx="4.40" ry="3.52" fill="#d4cef0" opacity="0.56" transform="rotate(99 403.5 173.0)"/>
<ellipse cx="403.5" cy="173.0" rx="3.08" ry="2.31" fill="#8a7cc4" opacity="0.60" transform="rotate(99 403.5 173.0)"/>
<ellipse cx="403.9" cy="173.2" rx="1.65" ry="1.21" fill="#4e3e98" opacity="0.49" transform="rotate(139 403.5 173.0)"/>
<ellipse cx="408.8" cy="173.5" rx="3.20" ry="2.56" fill="#d4cef0" opacity="0.22" transform="rotate(11 408.8 173.5)"/>
<ellipse cx="408.8" cy="173.5" rx="2.24" ry="1.68" fill="#8a7cc4" opacity="0.24" transform="rotate(11 408.8 173.5)"/>
<ellipse cx="409.2" cy="173.7" rx="1.20" ry="0.88" fill="#4e3e98" opacity="0.20" transform="rotate(51 408.8 173.5)"/>
<ellipse cx="426.5" cy="155.7" rx="4.60" ry="3.68" fill="#d4cef0" opacity="0.41" transform="rotate(11 426.5 155.7)"/>
<ellipse cx="426.5" cy="155.7" rx="3.22" ry="2.42" fill="#8a7cc4" opacity="0.44" transform="rotate(11 426.5 155.7)"/>
<ellipse cx="426.9" cy="155.9" rx="1.72" ry="1.26" fill="#4e3e98" opacity="0.36" transform="rotate(51 426.5 155.7)"/>
<ellipse cx="434.0" cy="144.6" rx="4.00" ry="3.20" fill="#d4cef0" opacity="0.38" transform="rotate(37 434.0 144.6)"/>
<ellipse cx="434.0" cy="144.6" rx="2.80" ry="2.10" fill="#8a7cc4" opacity="0.40" transform="rotate(37 434.0 144.6)"/>
<ellipse cx="434.4" cy="144.8" rx="1.50" ry="1.10" fill="#4e3e98" opacity="0.33" transform="rotate(77 434.0 144.6)"/>
<ellipse cx="435.0" cy="183.0" rx="4.40" ry="3.52" fill="#d4cef0" opacity="0.60" transform="rotate(122 435.0 183.0)"/>
<ellipse cx="435.0" cy="183.0" rx="3.08" ry="2.31" fill="#8a7cc4" opacity="0.64" transform="rotate(122 435.0 183.0)"/>
<ellipse cx="435.4" cy="183.2" rx="1.65" ry="1.21" fill="#4e3e98" opacity="0.52" transform="rotate(162 435.0 183.0)"/>
<rect x="373.50" y="127.2" width="66.2" height="66.3" fill="none" stroke="#333" stroke-width="1"/>
<rect x="444.40" y="127.20" width="66.20" height="66.30" fill="#edf0f4" />
<ellipse cx="452.3" cy="134.6" rx="4.40" ry="3.52" fill="#d4cef0" opacity="0.52" transform="rotate(77 452.3 134.6)"/>
<ellipse cx="452.3" cy="134.6" rx="3.08" ry="2.31" fill="#8a7cc4" opacity="0.56" transform="rotate(77 452.3 134.6)"/>
<ellipse cx="452.7" cy="134.8" rx="1.65" ry="1.21" fill="#4e3e98" opacity="0.45" transform="rotate(117 452.3 134.6)"/>
<ellipse cx="466.0" cy="133.5" rx="4.00" ry="3.20" fill="#d4cef0" opacity="0.38" transform="rotate(57 466.0 133.5)"/>
<ellipse cx="466.0" cy="133.5" rx="2.80" ry="2.10" fill="#8a7cc4" opacity="0.40" transform="rotate(57 466.0 133.5)"/>
<ellipse cx="466.4" cy="133.7" rx="1.50" ry="1.10" fill="#4e3e98" opacity="0.33" transform="rotate(97 466.0 133.5)"/>
<ellipse cx="474.6" cy="142.3" rx="3.40" ry="2.72" fill="#d4cef0" opacity="0.52" transform="rotate(105 474.6 142.3)"/>
<ellipse cx="474.6" cy="142.3" rx="2.38" ry="1.78" fill="#8a7cc4" opacity="0.56" transform="rotate(105 474.6 142.3)"/>
<ellipse cx="475.0" cy="142.5" rx="1.27" ry="0.94" fill="#4e3e98" opacity="0.45" transform="rotate(145 474.6 142.3)"/>
<ellipse cx="471.5" cy="149.2" rx="4.80" ry="3.84" fill="#d4cef0" opacity="0.56" transform="rotate(82 471.5 149.2)"/>
<ellipse cx="471.5" cy="149.2" rx="3.36" ry="2.52" fill="#8a7cc4" opacity="0.60" transform="rotate(82 471.5 149.2)"/>
<ellipse cx="471.9" cy="149.4" rx="1.80" ry="1.32" fill="#4e3e98" opacity="0.49" transform="rotate(122 471.5 149.2)"/>
<ellipse cx="490.8" cy="135.4" rx="2.60" ry="2.08" fill="#d4cef0" opacity="0.38" transform="rotate(54 490.8 135.4)"/>
<ellipse cx="490.8" cy="135.4" rx="1.82" ry="1.37" fill="#8a7cc4" opacity="0.40" transform="rotate(54 490.8 135.4)"/>
<ellipse cx="491.2" cy="135.6" rx="0.98" ry="0.72" fill="#4e3e98" opacity="0.33" transform="rotate(94 490.8 135.4)"/>
<ellipse cx="497.7" cy="136.0" rx="3.60" ry="2.88" fill="#d4cef0" opacity="0.52" transform="rotate(143 497.7 136.0)"/>
<ellipse cx="497.7" cy="136.0" rx="2.52" ry="1.89" fill="#8a7cc4" opacity="0.56" transform="rotate(143 497.7 136.0)"/>
<ellipse cx="498.1" cy="136.2" rx="1.35" ry="0.99" fill="#4e3e98" opacity="0.45" transform="rotate(183 497.7 136.0)"/>
<ellipse cx="498.5" cy="148.5" rx="4.40" ry="3.52" fill="#d4cef0" opacity="0.38" transform="rotate(126 498.5 148.5)"/>
<ellipse cx="498.5" cy="148.5" rx="3.08" ry="2.31" fill="#8a7cc4" opacity="0.40" transform="rotate(126 498.5 148.5)"/>
<ellipse cx="498.9" cy="148.7" rx="1.65" ry="1.21" fill="#4e3e98" opacity="0.33" transform="rotate(166 498.5 148.5)"/>
<ellipse cx="447.7" cy="167.0" rx="3.20" ry="2.56" fill="#d4cef0" opacity="0.26" transform="rotate(44 447.7 167.0)"/>
<ellipse cx="447.7" cy="167.0" rx="2.24" ry="1.68" fill="#8a7cc4" opacity="0.28" transform="rotate(44 447.7 167.0)"/>
<ellipse cx="448.1" cy="167.2" rx="1.20" ry="0.88" fill="#4e3e98" opacity="0.23" transform="rotate(84 447.7 167.0)"/>
<ellipse cx="480.0" cy="173.8" rx="3.80" ry="3.04" fill="#d4cef0" opacity="0.41" transform="rotate(103 480.0 173.8)"/>
<ellipse cx="480.0" cy="173.8" rx="2.66" ry="1.99" fill="#8a7cc4" opacity="0.44" transform="rotate(103 480.0 173.8)"/>
<ellipse cx="480.4" cy="174.0" rx="1.42" ry="1.04" fill="#4e3e98" opacity="0.36" transform="rotate(143 480.0 173.8)"/>
<ellipse cx="460.0" cy="180.8" rx="4.60" ry="3.68" fill="#d4cef0" opacity="0.49" transform="rotate(95 460.0 180.8)"/>
<ellipse cx="460.0" cy="180.8" rx="3.22" ry="2.42" fill="#8a7cc4" opacity="0.52" transform="rotate(95 460.0 180.8)"/>
<ellipse cx="460.4" cy="181.0" rx="1.72" ry="1.26" fill="#4e3e98" opacity="0.42" transform="rotate(135 460.0 180.8)"/>
<ellipse cx="472.3" cy="184.6" rx="4.00" ry="3.20" fill="#d4cef0" opacity="0.52" transform="rotate(158 472.3 184.6)"/>
<ellipse cx="472.3" cy="184.6" rx="2.80" ry="2.10" fill="#8a7cc4" opacity="0.56" transform="rotate(158 472.3 184.6)"/>
<ellipse cx="472.7" cy="184.8" rx="1.50" ry="1.10" fill="#4e3e98" opacity="0.45" transform="rotate(198 472.3 184.6)"/>
<ellipse cx="507.7" cy="178.5" rx="3.00" ry="2.40" fill="#d4cef0" opacity="0.30" transform="rotate(131 507.7 178.5)"/>
<ellipse cx="507.7" cy="178.5" rx="2.10" ry="1.58" fill="#8a7cc4" opacity="0.32" transform="rotate(131 507.7 178.5)"/>
<ellipse cx="508.1" cy="178.7" rx="1.12" ry="0.83" fill="#4e3e98" opacity="0.26" transform="rotate(171 507.7 178.5)"/>
<rect x="444.40" y="127.2" width="66.2" height="66.3" fill="none" stroke="#333" stroke-width="1"/>
</g>
<rect x="230.40" y="127.2" width="66.2" height="66.3" fill="none" stroke="#333" stroke-width="1"/>
<rect x="301.60" y="127.2" width="66.2" height="66.3" fill="none" stroke="#333" stroke-width="1"/>
<rect x="373.50" y="127.2" width="66.2" height="66.3" fill="none" stroke="#333" stroke-width="1"/>
<rect x="444.40" y="127.2" width="66.2" height="66.3" fill="none" stroke="#333" stroke-width="1"/>
<rect x="424.50" y="190.00" width="1.20" height="0.90" fill="#111" />
<text x="7.70" y="231.90" font-size="10.2" fill="#111" font-weight="bold" textLength="6.40" lengthAdjust="spacingAndGlyphs" stroke="#111" stroke-width="0.35">E</text>
<line x1="35.00" y1="239.40" x2="35.00" y2="378.20" stroke="#111" stroke-width="1.1" />
<line x1="34.50" y1="377.70" x2="166.50" y2="377.70" stroke="#111" stroke-width="1.1" />
<line x1="32.60" y1="371.00" x2="35.00" y2="371.00" stroke="#111" stroke-width="0.8" />
<text x="29.00" y="373.90" font-size="8.2" text-anchor="end" fill="#333" textLength="4.60" lengthAdjust="spacingAndGlyphs" >0</text>
<line x1="32.60" y1="336.80" x2="35.00" y2="336.80" stroke="#111" stroke-width="0.8" />
<text x="29.00" y="339.70" font-size="8.2" text-anchor="end" fill="#333" textLength="9.00" lengthAdjust="spacingAndGlyphs" >25</text>
<line x1="32.60" y1="302.60" x2="35.00" y2="302.60" stroke="#111" stroke-width="0.8" />
<text x="29.00" y="305.50" font-size="8.2" text-anchor="end" fill="#333" textLength="9.00" lengthAdjust="spacingAndGlyphs" >50</text>
<line x1="32.60" y1="268.40" x2="35.00" y2="268.40" stroke="#111" stroke-width="0.8" />
<text x="29.00" y="271.30" font-size="8.2" text-anchor="end" fill="#333" textLength="9.00" lengthAdjust="spacingAndGlyphs" >75</text>
<line x1="76.30" y1="377.70" x2="76.30" y2="380.00" stroke="#111" stroke-width="0.8" />
<text x="76.30" y="390.00" font-size="8.0" text-anchor="middle" fill="#333" textLength="4.60" lengthAdjust="spacingAndGlyphs" >0</text>
<line x1="120.30" y1="377.70" x2="120.30" y2="380.00" stroke="#111" stroke-width="0.8" />
<text x="120.30" y="390.00" font-size="8.0" text-anchor="middle" fill="#333" textLength="4.60" lengthAdjust="spacingAndGlyphs" >2</text>
<line x1="164.30" y1="377.70" x2="164.30" y2="380.00" stroke="#111" stroke-width="0.8" />
<text x="164.30" y="390.00" font-size="8.0" text-anchor="middle" fill="#333" textLength="4.60" lengthAdjust="spacingAndGlyphs" >4</text>
<text x="57.8" y="403.4" font-size="8.6" fill="#333" stroke="#333" stroke-width="0.15" textLength="85.5" lengthAdjust="spacingAndGlyphs">log<tspan font-size="5.2" dy="1.6">2</tspan><tspan dy="-1.6"> fold change (WT/Mut)</tspan></text>
<text x="13.9" y="341.5" font-size="8.4" fill="#333" stroke="#333" stroke-width="0.15" transform="rotate(-90 13.9 341.5)" textLength="70" lengthAdjust="spacingAndGlyphs">−log<tspan font-size="5.2" dy="1.6">10</tspan><tspan dy="-1.6"> adjusted p-value</tspan></text>
<text x="84.20" y="244.00" font-size="9.0" textLength="37.70" lengthAdjust="spacingAndGlyphs" >RNA-seq</text>
<text x="45.00" y="270.60" font-size="7.4" fill="#4a78b4" textLength="32.50" lengthAdjust="spacingAndGlyphs" >363 genes</text>
<text x="45.00" y="278.80" font-size="7.4" fill="#4a78b4" textLength="41.60" lengthAdjust="spacingAndGlyphs" >up in mutant</text>
<text x="105.00" y="270.40" font-size="7.4" fill="#d23c62" textLength="34.70" lengthAdjust="spacingAndGlyphs" >327 genes</text>
<text x="105.00" y="278.40" font-size="7.4" fill="#d23c62" textLength="51.50" lengthAdjust="spacingAndGlyphs" >down in mutant</text>
<line x1="35.50" y1="368.60" x2="168.50" y2="368.60" stroke="#222" stroke-width="0.8" stroke-dasharray="3,2"/>
<polygon points="46.9,365.6 48.4,364.4 48.3,363.7 48.4,362.5 50.2,362.0 50.3,360.1 51.0,359.6 52.8,356.7 53.9,356.8 53.9,354.7 54.2,351.6 57.1,351.8 57.2,353.3 57.7,354.9 59.2,356.9 60.2,357.8 61.2,358.8 62.1,359.1 64.1,361.4 64.8,361.9 64.7,361.9 65.5,362.5 67.1,364.0 68.1,364.9 69.1,366.6 68.3,366.8 70.7,368.5 69.3,368.9 66.1,369.8 66.1,369.1 63.5,369.2 63.7,369.9 60.9,368.9 59.5,368.6 59.4,368.7 57.6,369.2 55.6,369.6 54.2,369.1 52.8,368.4 51.6,367.7 51.6,368.3 49.2,367.7 47.7,366.1" fill="#3a5eb0"/>
<rect x="64.4" y="362.3" width="1" height="1" fill="#ffffff" opacity="0.7"/>
<rect x="50.8" y="367.8" width="1" height="1" fill="#ffffff" opacity="0.7"/>
<rect x="52.8" y="356.1" width="1" height="1" fill="#ffffff" opacity="0.7"/>
<rect x="54.3" y="353.2" width="1" height="1" fill="#ffffff" opacity="0.7"/>
<rect x="50.6" y="361.3" width="1" height="1" fill="#ffffff" opacity="0.7"/>
<rect x="53.4" y="361.6" width="1" height="1" fill="#ffffff" opacity="0.7"/>
<rect x="55.7" y="359.3" width="1" height="1" fill="#ffffff" opacity="0.7"/>
<rect x="59.3" y="365.9" width="1" height="1" fill="#ffffff" opacity="0.7"/>
<rect x="65.4" y="365.1" width="1" height="1" fill="#ffffff" opacity="0.7"/>
<rect x="53.5" y="355.0" width="1" height="1" fill="#ffffff" opacity="0.7"/>
<rect x="62.3" y="367.0" width="1" height="1" fill="#ffffff" opacity="0.7"/>
<rect x="52.5" y="367.2" width="1" height="1" fill="#ffffff" opacity="0.7"/>
<rect x="64.9" y="361.7" width="1" height="1" fill="#ffffff" opacity="0.7"/>
<rect x="56.6" y="353.7" width="1" height="1" fill="#ffffff" opacity="0.7"/>
<rect x="49.7" y="367.4" width="1" height="1" fill="#ffffff" opacity="0.7"/>
<rect x="53.3" y="363.3" width="1" height="1" fill="#ffffff" opacity="0.7"/>
<rect x="53.6" y="365.2" width="1" height="1" fill="#ffffff" opacity="0.7"/>
<rect x="59.7" y="356.7" width="1" height="1" fill="#ffffff" opacity="0.7"/>
<rect x="52.2" y="363.5" width="1" height="1" fill="#ffffff" opacity="0.7"/>
<rect x="59.1" y="365.6" width="1" height="1" fill="#ffffff" opacity="0.7"/>
<rect x="60.1" y="356.5" width="1" height="1" fill="#ffffff" opacity="0.7"/>
<rect x="57.0" y="353.0" width="1" height="1" fill="#ffffff" opacity="0.7"/>
<rect x="52.2" y="357.9" width="1" height="1" fill="#ffffff" opacity="0.7"/>
<rect x="55.5" y="366.3" width="1" height="1" fill="#ffffff" opacity="0.7"/>
<rect x="61.4" y="361.4" width="1" height="1" fill="#ffffff" opacity="0.7"/>
<rect x="49.3" y="366.6" width="1" height="1" fill="#ffffff" opacity="0.7"/>
<rect x="61.6" y="367.4" width="1" height="1" fill="#ffffff" opacity="0.7"/>
<rect x="49.4" y="362.2" width="1" height="1" fill="#ffffff" opacity="0.7"/>
<rect x="57.7" y="363.7" width="1" height="1" fill="#ffffff" opacity="0.7"/>
<rect x="54.7" y="368.0" width="1" height="1" fill="#ffffff" opacity="0.7"/>
<rect x="50.4" y="360.7" width="1" height="1" fill="#ffffff" opacity="0.7"/>
<rect x="62.3" y="366.4" width="1" height="1" fill="#ffffff" opacity="0.7"/>
<rect x="62.3" y="363.3" width="1" height="1" fill="#ffffff" opacity="0.7"/>
<rect x="63.3" y="366.6" width="1" height="1" fill="#ffffff" opacity="0.7"/>
<rect x="55.3" y="363.0" width="1" height="1" fill="#ffffff" opacity="0.7"/>
<rect x="65.2" y="365.9" width="1" height="1" fill="#ffffff" opacity="0.7"/>
<rect x="56.5" y="364.6" width="1" height="1" fill="#ffffff" opacity="0.7"/>
<rect x="64.5" y="361.2" width="1" height="1" fill="#ffffff" opacity="0.7"/>
<rect x="60.2" y="358.1" width="1" height="1" fill="#ffffff" opacity="0.7"/>
<rect x="59.5" y="361.7" width="1" height="1" fill="#ffffff" opacity="0.7"/>
<rect x="50.4" y="362.2" width="1" height="1" fill="#ffffff" opacity="0.7"/>
<rect x="66.9" y="366.1" width="1" height="1" fill="#ffffff" opacity="0.7"/>
<rect x="62.1" y="358.2" width="1" height="1" fill="#ffffff" opacity="0.7"/>
<rect x="62.2" y="361.3" width="1" height="1" fill="#ffffff" opacity="0.7"/>
<rect x="56.9" y="365.4" width="1" height="1" fill="#ffffff" opacity="0.7"/>
<rect x="50.5" y="364.0" width="1" height="1" fill="#ffffff" opacity="0.7"/>
<rect x="49.5" y="361.6" width="1" height="1" fill="#ffffff" opacity="0.7"/>
<rect x="57.7" y="355.7" width="1" height="1" fill="#ffffff" opacity="0.7"/>
<rect x="61.6" y="360.0" width="1" height="1" fill="#ffffff" opacity="0.7"/>
<rect x="60.1" y="366.7" width="1" height="1" fill="#ffffff" opacity="0.7"/>
<rect x="54.4" y="362.9" width="1" height="1" fill="#ffffff" opacity="0.7"/>
<rect x="52.6" y="354.7" width="1" height="1" fill="#ffffff" opacity="0.7"/>
<rect x="65.3" y="362.6" width="1" height="1" fill="#ffffff" opacity="0.7"/>
<rect x="57.0" y="366.3" width="1" height="1" fill="#ffffff" opacity="0.7"/>
<rect x="54.9" y="362.7" width="1" height="1" fill="#ffffff" opacity="0.7"/>
<rect x="52.6" y="358.9" width="1" height="1" fill="#ffffff" opacity="0.7"/>
<rect x="63.5" y="366.6" width="1" height="1" fill="#ffffff" opacity="0.7"/>
<rect x="59.5" y="357.1" width="1" height="1" fill="#ffffff" opacity="0.7"/>
<rect x="51.5" y="359.9" width="1" height="1" fill="#ffffff" opacity="0.7"/>
<rect x="64.1" y="365.6" width="1" height="1" fill="#ffffff" opacity="0.7"/>
<rect x="61.8" y="367.2" width="1" height="1" fill="#ffffff" opacity="0.7"/>
<rect x="54.0" y="354.7" width="1" height="1" fill="#ffffff" opacity="0.7"/>
<rect x="57.1" y="356.4" width="1" height="1" fill="#ffffff" opacity="0.7"/>
<rect x="52.9" y="358.6" width="1" height="1" fill="#ffffff" opacity="0.7"/>
<rect x="60.3" y="359.9" width="1" height="1" fill="#ffffff" opacity="0.7"/>
<rect x="54.7" y="365.4" width="1" height="1" fill="#ffffff" opacity="0.7"/>
<rect x="61.8" y="361.1" width="1" height="1" fill="#ffffff" opacity="0.7"/>
<rect x="54.6" y="364.7" width="1" height="1" fill="#ffffff" opacity="0.7"/>
<rect x="57.2" y="352.4" width="1" height="1" fill="#ffffff" opacity="0.7"/>
<rect x="60.3" y="359.1" width="1" height="1" fill="#ffffff" opacity="0.7"/>
<rect x="60.3" y="362.5" width="1" height="1" fill="#ffffff" opacity="0.7"/>
<rect x="63.5" y="367.3" width="1" height="1" fill="#ffffff" opacity="0.7"/>
<rect x="45.9" y="362.8" width="1.4" height="1.4" fill="#3a5eb0"/>
<rect x="47.3" y="360.3" width="1.4" height="1.4" fill="#3a5eb0"/>
<rect x="49.8" y="356.3" width="1.4" height="1.4" fill="#3a5eb0"/>
<rect x="52.5" y="347.5" width="1.4" height="1.4" fill="#3a5eb0"/>
<rect x="56.8" y="348.8" width="1.4" height="1.4" fill="#3a5eb0"/>
<rect x="54.8" y="344.8" width="1.4" height="1.4" fill="#3a5eb0"/>
<rect x="59.1" y="352.8" width="1.4" height="1.4" fill="#3a5eb0"/>
<rect x="61.3" y="355.5" width="1.4" height="1.4" fill="#3a5eb0"/>
<rect x="48.8" y="363.3" width="1.4" height="1.4" fill="#3a5eb0"/>
<rect x="51.3" y="349.8" width="1.4" height="1.4" fill="#3a5eb0"/>
<rect x="45.1" y="365.3" width="1.4" height="1.4" fill="#3a5eb0"/>
<rect x="63.8" y="357.8" width="1.4" height="1.4" fill="#3a5eb0"/>
<rect x="44.1" y="363.5" width="1.4" height="1.4" fill="#3a5eb0"/>
<polygon points="83.5,368.8 83.5,368.2 85.6,366.6 85.6,365.7 87.1,365.0 87.7,364.5 88.1,363.5 89.7,361.3 91.0,361.2 90.8,359.4 92.9,359.2 93.6,357.6 95.6,357.0 96.8,355.4 98.2,353.7 99.6,354.1 100.9,353.2 100.9,355.1 103.1,356.9 102.2,357.9 101.7,359.5 102.5,359.9 100.8,361.4 101.3,363.2 100.8,363.2 100.8,364.7 100.1,366.4 98.4,368.4 97.2,368.1 97.0,370.0 96.2,370.1 95.0,369.9 93.6,369.3 90.9,370.3 89.6,370.8 88.9,370.2 88.0,370.1 85.8,369.6 85.4,370.3" fill="#d00a14"/>
<rect x="90.5" y="367.5" width="0.9" height="0.9" fill="#ffffff" opacity="0.45"/>
<rect x="99.6" y="364.2" width="0.9" height="0.9" fill="#ffffff" opacity="0.45"/>
<rect x="94.9" y="361.0" width="0.9" height="0.9" fill="#ffffff" opacity="0.45"/>
<rect x="94.4" y="364.0" width="0.9" height="0.9" fill="#ffffff" opacity="0.45"/>
<rect x="95.3" y="359.3" width="0.9" height="0.9" fill="#ffffff" opacity="0.45"/>
<rect x="99.6" y="364.2" width="0.9" height="0.9" fill="#ffffff" opacity="0.45"/>
<rect x="92.8" y="367.0" width="0.9" height="0.9" fill="#ffffff" opacity="0.45"/>
<rect x="94.8" y="363.9" width="0.9" height="0.9" fill="#ffffff" opacity="0.45"/>
<rect x="96.3" y="359.7" width="0.9" height="0.9" fill="#ffffff" opacity="0.45"/>
<rect x="94.5" y="363.1" width="0.9" height="0.9" fill="#ffffff" opacity="0.45"/>
<rect x="99.5" y="368.2" width="0.9" height="0.9" fill="#ffffff" opacity="0.45"/>
<rect x="91.2" y="363.7" width="0.9" height="0.9" fill="#ffffff" opacity="0.45"/>
<rect x="89.5" y="363.3" width="0.9" height="0.9" fill="#ffffff" opacity="0.45"/>
<rect x="97.8" y="368.0" width="0.9" height="0.9" fill="#ffffff" opacity="0.45"/>
<rect x="110.0" y="321.2" width="1.5" height="1.5" fill="#c4000e"/>
<rect x="115.8" y="321.9" width="1.5" height="1.5" fill="#c4000e"/>
<rect x="126.7" y="322.6" width="1.5" height="1.5" fill="#c4000e"/>
<rect x="108.5" y="327.2" width="1.5" height="1.5" fill="#c4000e"/>
<rect x="114.7" y="331.2" width="1.5" height="1.5" fill="#c4000e"/>
<rect x="119.8" y="330.6" width="1.5" height="1.5" fill="#c4000e"/>
<rect x="112.8" y="334.2" width="1.5" height="1.5" fill="#c4000e"/>
<rect x="125.0" y="332.2" width="1.5" height="1.5" fill="#c4000e"/>
<rect x="118.2" y="336.9" width="1.5" height="1.5" fill="#c4000e"/>
<rect x="128.1" y="338.9" width="1.5" height="1.5" fill="#c4000e"/>
<rect x="101.2" y="338.9" width="1.5" height="1.5" fill="#c4000e"/>
<rect x="98.5" y="340.4" width="1.5" height="1.5" fill="#c4000e"/>
<rect x="113.8" y="332.1" width="1.5" height="1.5" fill="#c4000e"/>
<rect x="107.2" y="344.6" width="1.5" height="1.5" fill="#c4000e"/>
<rect x="110.0" y="347.6" width="1.5" height="1.5" fill="#c4000e"/>
<rect x="103.2" y="347.6" width="1.5" height="1.5" fill="#c4000e"/>
<rect x="113.8" y="354.2" width="1.5" height="1.5" fill="#c4000e"/>
<rect x="119.7" y="347.6" width="1.5" height="1.5" fill="#c4000e"/>
<rect x="107.2" y="365.8" width="1.5" height="1.5" fill="#c4000e"/>
<rect x="101.3" y="354.2" width="1.5" height="1.5" fill="#c4000e"/>
<rect x="121.5" y="342.8" width="1.5" height="1.5" fill="#c4000e"/>
<rect x="111.2" y="339.8" width="1.5" height="1.5" fill="#c4000e"/>
<rect x="104.8" y="342.2" width="1.5" height="1.5" fill="#c4000e"/>
<rect x="102.2" y="350.8" width="1.5" height="1.5" fill="#c4000e"/>
<rect x="112.8" y="306.6" width="1.5" height="1.5" fill="#c4000e"/>
<rect x="128.9" y="244.6" width="1.5" height="1.5" fill="#c4000e"/>
<rect x="161.2" y="287.2" width="1.5" height="1.5" fill="#c4000e"/>
<rect x="119.2" y="326.2" width="1.5" height="1.5" fill="#c4000e"/>
<rect x="100.8" y="344.8" width="1.5" height="1.5" fill="#c4000e"/>
<rect x="103.8" y="359.2" width="1.5" height="1.5" fill="#c4000e"/>
<rect x="108.2" y="356.2" width="1.5" height="1.5" fill="#c4000e"/>
<path d="M56.5,368.6 Q64,370.8 72,371.6 Q79,372.2 85,370.8 Q90,369.8 95,368.8" fill="none" stroke="#111" stroke-width="2.4"/>
<rect x="74.6" y="369.4" width="1" height="1" fill="#111"/>
<rect x="64.1" y="370.4" width="1" height="1" fill="#111"/>
<rect x="91.2" y="367.7" width="1" height="1" fill="#111"/>
<rect x="85.8" y="368.4" width="1" height="1" fill="#111"/>
<rect x="64.2" y="369.1" width="1" height="1" fill="#111"/>
<rect x="82.4" y="369.4" width="1" height="1" fill="#111"/>
<rect x="70.1" y="370.4" width="1" height="1" fill="#111"/>
<rect x="60.9" y="369.8" width="1" height="1" fill="#111"/>
<rect x="61.5" y="369.0" width="1" height="1" fill="#111"/>
<rect x="66.3" y="369.0" width="1" height="1" fill="#111"/>
<rect x="76.6" y="369.8" width="1" height="1" fill="#111"/>
<rect x="70.9" y="369.7" width="1" height="1" fill="#111"/>
<rect x="76.6" y="368.8" width="1" height="1" fill="#111"/>
<rect x="64.6" y="370.4" width="1" height="1" fill="#111"/>
<rect x="80.6" y="370.1" width="1" height="1" fill="#111"/>
<rect x="88.5" y="369.4" width="1" height="1" fill="#111"/>
<rect x="88.7" y="368.1" width="1" height="1" fill="#111"/>
<rect x="84.4" y="371.1" width="1" height="1" fill="#111"/>
<rect x="90.4" y="368.4" width="1" height="1" fill="#111"/>
<rect x="68.7" y="371.4" width="1" height="1" fill="#111"/>
<rect x="65.1" y="371.7" width="1" height="1" fill="#111"/>
<rect x="89.8" y="367.8" width="1" height="1" fill="#111"/>
<rect x="65.9" y="370.8" width="1" height="1" fill="#111"/>
<rect x="66.6" y="368.6" width="1" height="1" fill="#111"/>
<rect x="87.8" y="369.7" width="1" height="1" fill="#111"/>
<rect x="86.2" y="368.7" width="1" height="1" fill="#111"/>
<rect x="71.9" y="370.6" width="1" height="1" fill="#111"/>
<rect x="57.7" y="368.0" width="1" height="1" fill="#111"/>
<rect x="82.2" y="371.4" width="1" height="1" fill="#111"/>
<rect x="92.8" y="367.7" width="1" height="1" fill="#111"/>
<text x="142.00" y="250.90" font-size="7.0" fill="#1a1a1a" font-style="italic" textLength="16.00" lengthAdjust="spacingAndGlyphs" >HBM</text>
<line x1="140.80" y1="247.20" x2="135.79" y2="246.67" stroke="#111" stroke-width="1.0" />
<polygon points="133.20,246.40 135.95,245.08 135.62,248.26" fill="#111"/>
<text x="118.90" y="296.60" font-size="7.0" fill="#1a1a1a" font-style="italic" textLength="25.40" lengthAdjust="spacingAndGlyphs" >SLC4A1</text>
<line x1="120.50" y1="299.60" x2="117.13" y2="302.65" stroke="#111" stroke-width="1.0" />
<polygon points="115.20,304.40 116.05,301.47 118.20,303.84" fill="#111"/>
<text x="151.20" y="310.70" font-size="7.0" fill="#1a1a1a" font-style="italic" textLength="17.30" lengthAdjust="spacingAndGlyphs" >CCL2</text>
<line x1="160.40" y1="299.60" x2="160.54" y2="293.80" stroke="#111" stroke-width="1.0" />
<polygon points="160.60,291.20 162.14,293.84 158.94,293.76" fill="#111"/>
<text x="69.20" y="325.00" font-size="7.0" fill="#1a1a1a" font-style="italic" textLength="33.50" lengthAdjust="spacingAndGlyphs" >FAM132B</text>
<line x1="101.60" y1="327.30" x2="101.60" y2="334.20" stroke="#111" stroke-width="1.0" />
<polygon points="101.60,336.80 100.00,334.20 103.20,334.20" fill="#111"/>
<text x="72.70" y="342.40" font-size="7.0" fill="#1a1a1a" font-style="italic" textLength="19.60" lengthAdjust="spacingAndGlyphs" >GYPA</text>
<line x1="93.50" y1="340.50" x2="99.95" y2="348.39" stroke="#111" stroke-width="1.0" />
<polygon points="101.60,350.40 98.72,349.40 101.19,347.37" fill="#111"/>
<text x="139.70" y="342.40" font-size="7.0" fill="#1a1a1a" font-style="italic" textLength="15.00" lengthAdjust="spacingAndGlyphs" >RHD</text>
<line x1="138.50" y1="339.50" x2="132.80" y2="339.50" stroke="#111" stroke-width="1.0" />
<polygon points="130.20,339.50 132.80,337.90 132.80,341.10" fill="#111"/>
<text x="37.50" y="344.40" font-size="7.0" fill="#1a1a1a" font-style="italic" textLength="23.10" lengthAdjust="spacingAndGlyphs" >GATA2</text>
<line x1="46.00" y1="346.00" x2="50.31" y2="352.17" stroke="#111" stroke-width="1.0" />
<polygon points="51.80,354.30 49.00,353.09 51.62,351.25" fill="#111"/>
<text x="63.60" y="355.50" font-size="7.0" fill="#1a1a1a" font-style="italic" textLength="23.60" lengthAdjust="spacingAndGlyphs" >RUNX1</text>
<line x1="73.60" y1="357.50" x2="62.01" y2="362.13" stroke="#111" stroke-width="1.0" />
<polygon points="59.60,363.10 61.42,360.65 62.61,363.62" fill="#111"/>
<text x="176.80" y="232.10" font-size="10.2" fill="#111" font-weight="bold" textLength="6.20" lengthAdjust="spacingAndGlyphs" stroke="#111" stroke-width="0.35">F</text>
<rect x="191.20" y="235.40" width="15.70" height="4.40" fill="#f4d024" stroke="#3a3a3a" stroke-width="0.6"/>
<rect x="206.90" y="235.40" width="15.70" height="4.40" fill="#7fcfaa" stroke="#3a3a3a" stroke-width="0.6"/>
<rect x="222.60" y="235.40" width="15.70" height="4.40" fill="#4a86cc" stroke="#3a3a3a" stroke-width="0.6"/>
<rect x="238.30" y="235.40" width="15.70" height="4.40" fill="#d62a2a" stroke="#3a3a3a" stroke-width="0.6"/>
<text x="196.90" y="232.00" font-size="7.6" fill="#333" textLength="21.50" lengthAdjust="spacingAndGlyphs" transform="rotate(-30 196.90 232.00)" >Empty</text>
<text x="214.20" y="232.00" font-size="7.6" fill="#333" textLength="23.50" lengthAdjust="spacingAndGlyphs" transform="rotate(-30 214.20 232.00)" >R307C</text>
<text x="230.40" y="232.00" font-size="7.6" fill="#333" textLength="23.80" lengthAdjust="spacingAndGlyphs" transform="rotate(-30 230.40 232.00)" >R307H</text>
<text x="244.90" y="232.00" font-size="7.6" fill="#333" textLength="11.50" lengthAdjust="spacingAndGlyphs" transform="rotate(-30 244.90 232.00)" >WT</text>
<rect x="191.20" y="243.00" width="16.10" height="2.80" fill="#dcd4c0" />
<rect x="191.20" y="245.40" width="16.10" height="3.00" fill="#e9cf9e" />
<rect x="191.20" y="248.00" width="16.10" height="3.20" fill="#f2c574" />
<rect x="191.20" y="250.80" width="16.10" height="7.10" fill="#f8b832" />
<rect x="191.20" y="257.50" width="16.10" height="3.10" fill="#eccb90" />
<rect x="191.20" y="260.20" width="16.10" height="2.40" fill="#f8b838" />
<rect x="191.20" y="262.20" width="16.10" height="4.40" fill="#f7b230" />
<rect x="191.20" y="266.20" width="16.10" height="3.20" fill="#f0c880" />
<rect x="191.20" y="269.00" width="16.10" height="4.00" fill="#ebcd98" />
<rect x="206.90" y="243.00" width="16.10" height="4.00" fill="#f18a22" />
<rect x="206.90" y="246.60" width="16.10" height="1.80" fill="#f3b048" />
<rect x="206.90" y="248.00" width="16.10" height="9.90" fill="#e4d4b6" />
<rect x="206.90" y="257.50" width="16.10" height="4.90" fill="#eecb88" />
<rect x="206.90" y="262.00" width="16.10" height="11.00" fill="#e4d4b6" />
<rect x="222.60" y="243.00" width="16.10" height="5.40" fill="#ebd2a2" />
<rect x="222.60" y="248.00" width="16.10" height="3.20" fill="#f5c25c" />
<rect x="222.60" y="250.80" width="16.10" height="7.10" fill="#f8bc40" />
<rect x="222.60" y="257.50" width="16.10" height="5.10" fill="#f6c050" />
<rect x="222.60" y="262.20" width="16.10" height="4.70" fill="#edcf9c" />
<rect x="222.60" y="266.50" width="16.10" height="4.40" fill="#f28a22" />
<rect x="222.60" y="270.50" width="16.10" height="2.50" fill="#f4a032" />
<rect x="238.30" y="243.00" width="16.10" height="30.00" fill="#3468b8" />
<rect x="191.20" y="243.0" width="62.80" height="29.60" fill="none" stroke="#3a3a3a" stroke-width="0.9"/>
<text x="183.00" y="260.40" font-size="7.2" text-anchor="middle" fill="#333" textLength="9.00" lengthAdjust="spacingAndGlyphs" >H1</text>
<rect x="191.20" y="274.00" width="16.10" height="4.40" fill="#f47a22" />
<rect x="191.20" y="278.00" width="16.10" height="2.40" fill="#f89a28" />
<rect x="191.20" y="280.00" width="16.10" height="3.80" fill="#f07020" />
<rect x="191.20" y="283.40" width="16.10" height="3.80" fill="#e85024" />
<rect x="191.20" y="286.80" width="16.10" height="4.40" fill="#dc3424" />
<rect x="191.20" y="290.80" width="16.10" height="7.80" fill="#d62c24" />
<rect x="191.20" y="298.20" width="16.10" height="3.20" fill="#f8a028" />
<rect x="191.20" y="301.00" width="16.10" height="3.00" fill="#ea5a24" />
<rect x="191.20" y="303.60" width="16.10" height="6.50" fill="#dc3424" />
<rect x="191.20" y="309.70" width="16.10" height="3.10" fill="#f69024" />
<rect x="191.20" y="312.40" width="16.10" height="5.80" fill="#f48024" />
<rect x="191.20" y="317.80" width="16.10" height="6.00" fill="#c82424" />
<rect x="206.90" y="274.00" width="16.10" height="16.40" fill="#e4d4b6" />
<rect x="206.90" y="290.00" width="16.10" height="10.40" fill="#d0d8dc" />
<rect x="206.90" y="300.00" width="16.10" height="12.40" fill="#b4d6ee" />
<rect x="206.90" y="312.00" width="16.10" height="6.40" fill="#c8d8e2" />
<rect x="206.90" y="318.00" width="16.10" height="5.80" fill="#a8d2f0" />
<rect x="222.60" y="274.00" width="16.10" height="11.40" fill="#ecd4a8" />
<rect x="222.60" y="285.00" width="16.10" height="13.40" fill="#cad8e0" />
<rect x="222.60" y="298.00" width="16.10" height="3.40" fill="#f8b030" />
<rect x="222.60" y="301.00" width="16.10" height="11.40" fill="#ecd0a0" />
<rect x="222.60" y="312.00" width="16.10" height="6.40" fill="#f0cc90" />
<rect x="222.60" y="318.00" width="16.10" height="5.80" fill="#e0d4c0" />
<rect x="238.30" y="274.00" width="16.10" height="49.80" fill="#3a70c0" />
<rect x="191.20" y="274.0" width="62.80" height="49.40" fill="none" stroke="#3a3a3a" stroke-width="0.9"/>
<text x="183.00" y="301.30" font-size="7.2" text-anchor="middle" fill="#333" textLength="9.00" lengthAdjust="spacingAndGlyphs" >H2</text>
<rect x="191.20" y="325.00" width="16.10" height="4.90" fill="#4a8ad0" />
<rect x="191.20" y="329.50" width="16.10" height="2.90" fill="#78b8e8" />
<rect x="191.20" y="332.00" width="16.10" height="22.40" fill="#4888d0" />
<rect x="191.20" y="354.00" width="16.10" height="5.10" fill="#9ed0f0" />
<rect x="206.90" y="325.00" width="16.10" height="6.40" fill="#d0d4d0" />
<rect x="206.90" y="331.00" width="16.10" height="19.40" fill="#9ccfee" />
<rect x="206.90" y="350.00" width="16.10" height="9.10" fill="#58a8e0" />
<rect x="222.60" y="325.00" width="16.10" height="20.40" fill="#90ccf0" />
<rect x="222.60" y="345.00" width="16.10" height="7.40" fill="#d2d4cc" />
<rect x="222.60" y="352.00" width="16.10" height="7.10" fill="#6cb8e8" />
<rect x="238.30" y="325.00" width="16.10" height="34.10" fill="#cf2626" />
<rect x="191.20" y="325.0" width="62.80" height="33.70" fill="none" stroke="#3a3a3a" stroke-width="0.9"/>
<text x="183.00" y="344.45" font-size="7.2" text-anchor="middle" fill="#333" textLength="9.00" lengthAdjust="spacingAndGlyphs" >H3</text>
<rect x="191.20" y="360.40" width="16.10" height="43.00" fill="#3a74c4" />
<rect x="206.90" y="360.40" width="16.10" height="3.00" fill="#f6b840" />
<rect x="206.90" y="363.00" width="16.10" height="3.40" fill="#f2cf90" />
<rect x="206.90" y="366.00" width="16.10" height="9.90" fill="#ecd4a8" />
<rect x="206.90" y="375.50" width="16.10" height="3.40" fill="#f08c20" />
<rect x="206.90" y="378.50" width="16.10" height="18.90" fill="#ccd8de" />
<rect x="206.90" y="397.00" width="16.10" height="6.40" fill="#ecd0a0" />
<rect x="222.60" y="360.40" width="16.10" height="19.50" fill="#98d0f0" />
<rect x="222.60" y="379.50" width="16.10" height="4.40" fill="#f8b438" />
<rect x="222.60" y="383.50" width="16.10" height="12.90" fill="#c4d8e4" />
<rect x="222.60" y="396.00" width="16.10" height="7.40" fill="#b0d4ec" />
<rect x="238.30" y="360.40" width="16.10" height="2.50" fill="#f08a28" />
<rect x="238.30" y="362.50" width="16.10" height="12.90" fill="#d83024" />
<rect x="238.30" y="375.00" width="16.10" height="3.40" fill="#f89828" />
<rect x="238.30" y="378.00" width="16.10" height="3.90" fill="#d83024" />
<rect x="238.30" y="381.50" width="16.10" height="3.40" fill="#f8a030" />
<rect x="238.30" y="384.50" width="16.10" height="11.40" fill="#d83024" />
<rect x="238.30" y="395.50" width="16.10" height="2.90" fill="#f8a830" />
<rect x="238.30" y="398.00" width="16.10" height="2.40" fill="#e04028" />
<rect x="238.30" y="400.00" width="16.10" height="3.40" fill="#f49028" />
<rect x="191.20" y="360.4" width="62.80" height="42.60" fill="none" stroke="#3a3a3a" stroke-width="0.9"/>
<text x="183.00" y="384.30" font-size="7.2" text-anchor="middle" fill="#333" textLength="9.00" lengthAdjust="spacingAndGlyphs" >H4</text>
<text x="224.70" y="411.60" font-size="6.6" text-anchor="middle" fill="#333" textLength="36.40" lengthAdjust="spacingAndGlyphs" >RNA z-score</text>
<rect x="212.3" y="413.8" width="25.4" height="5.8" fill="url(#cbar)" stroke="#333" stroke-width="0.5"/>
<line x1="225.00" y1="419.60" x2="225.00" y2="420.80" stroke="#333" stroke-width="0.5" />
<text x="212.80" y="427.80" font-size="6.6" text-anchor="middle" fill="#333" textLength="7.00" lengthAdjust="spacingAndGlyphs" >−3</text>
<text x="224.90" y="427.80" font-size="6.6" text-anchor="middle" fill="#333" textLength="4.00" lengthAdjust="spacingAndGlyphs" >0</text>
<text x="237.20" y="427.80" font-size="6.6" text-anchor="middle" fill="#333" textLength="3.60" lengthAdjust="spacingAndGlyphs" >3</text>
<text x="261.80" y="231.70" font-size="10.2" fill="#111" font-weight="bold" textLength="8.60" lengthAdjust="spacingAndGlyphs" stroke="#111" stroke-width="0.35">G</text>
<rect x="272.20" y="235.50" width="10.52" height="4.90" fill="#f4d024" stroke="#3a3a3a" stroke-width="0.6"/>
<rect x="282.72" y="235.50" width="10.52" height="4.90" fill="#f4d024" stroke="#3a3a3a" stroke-width="0.6"/>
<rect x="293.24" y="235.50" width="10.52" height="4.90" fill="#7fcfaa" stroke="#3a3a3a" stroke-width="0.6"/>
<rect x="303.76" y="235.50" width="10.52" height="4.90" fill="#7fcfaa" stroke="#3a3a3a" stroke-width="0.6"/>
<rect x="314.28" y="235.50" width="10.52" height="4.90" fill="#4a86cc" stroke="#3a3a3a" stroke-width="0.6"/>
<rect x="324.80" y="235.50" width="10.52" height="4.90" fill="#4a86cc" stroke="#3a3a3a" stroke-width="0.6"/>
<rect x="335.32" y="235.50" width="10.52" height="4.90" fill="#d62a2a" stroke="#3a3a3a" stroke-width="0.6"/>
<rect x="345.84" y="235.50" width="10.52" height="4.90" fill="#d62a2a" stroke="#3a3a3a" stroke-width="0.6"/>
<text x="281.00" y="231.80" font-size="7.6" fill="#333" textLength="21.50" lengthAdjust="spacingAndGlyphs" transform="rotate(-30 281.00 231.80)" >Empty</text>
<text x="302.50" y="231.80" font-size="7.6" fill="#333" textLength="23.50" lengthAdjust="spacingAndGlyphs" transform="rotate(-30 302.50 231.80)" >R307C</text>
<text x="323.40" y="231.80" font-size="7.6" fill="#333" textLength="23.80" lengthAdjust="spacingAndGlyphs" transform="rotate(-30 323.40 231.80)" >R307H</text>
<text x="345.00" y="231.80" font-size="7.6" fill="#333" textLength="11.50" lengthAdjust="spacingAndGlyphs" transform="rotate(-30 345.00 231.80)" >WT</text>
<rect x="272.20" y="243.50" width="10.92" height="8.58" fill="#4aa8e4" />
<rect x="282.72" y="243.50" width="10.92" height="8.58" fill="#78bcec" />
<rect x="293.24" y="243.50" width="10.92" height="8.58" fill="#d6282a" />
<rect x="303.76" y="243.50" width="10.92" height="8.58" fill="#dc2c2a" />
<rect x="314.28" y="243.50" width="10.92" height="8.58" fill="#f07e20" />
<rect x="324.80" y="243.50" width="10.92" height="8.58" fill="#d8d4c8" />
<rect x="335.32" y="243.50" width="10.92" height="8.58" fill="#4aa4e4" />
<rect x="345.84" y="243.50" width="10.92" height="8.58" fill="#88c4ec" />
<rect x="272.20" y="251.68" width="10.92" height="8.58" fill="#f4c07c" />
<rect x="282.72" y="251.68" width="10.92" height="8.58" fill="#d42828" />
<rect x="293.24" y="251.68" width="10.92" height="8.58" fill="#f6c060" />
<rect x="303.76" y="251.68" width="10.92" height="8.58" fill="#f6c464" />
<rect x="314.28" y="251.68" width="10.92" height="8.58" fill="#f0c888" />
<rect x="324.80" y="251.68" width="10.92" height="8.58" fill="#e4d4b8" />
<rect x="335.32" y="251.68" width="10.92" height="8.58" fill="#3c80cc" />
<rect x="345.84" y="251.68" width="10.92" height="8.58" fill="#4488d0" />
<rect x="272.20" y="259.86" width="10.92" height="8.58" fill="#dc3028" />
<rect x="282.72" y="259.86" width="10.92" height="8.58" fill="#f79c2c" />
<rect x="293.24" y="259.86" width="10.92" height="8.58" fill="#ead8b4" />
<rect x="303.76" y="259.86" width="10.92" height="8.58" fill="#f6c04c" />
<rect x="314.28" y="259.86" width="10.92" height="8.58" fill="#f2c464" />
<rect x="324.80" y="259.86" width="10.92" height="8.58" fill="#ecd0a4" />
<rect x="335.32" y="259.86" width="10.92" height="8.58" fill="#3c80cc" />
<rect x="345.84" y="259.86" width="10.92" height="8.58" fill="#4488d0" />
<rect x="272.20" y="268.04" width="10.92" height="8.58" fill="#d8d4cc" />
<rect x="282.72" y="268.04" width="10.92" height="8.58" fill="#d42828" />
<rect x="293.24" y="268.04" width="10.92" height="8.58" fill="#ecd8b4" />
<rect x="303.76" y="268.04" width="10.92" height="8.58" fill="#f4c870" />
<rect x="314.28" y="268.04" width="10.92" height="8.58" fill="#f4c050" />
<rect x="324.80" y="268.04" width="10.92" height="8.58" fill="#f6c458" />
<rect x="335.32" y="268.04" width="10.92" height="8.58" fill="#3e84cc" />
<rect x="345.84" y="268.04" width="10.92" height="8.58" fill="#4488d0" />
<rect x="272.20" y="243.50" width="84.16" height="32.72" fill="none" stroke="#3a3a3a" stroke-width="0.9"/>
<rect x="272.20" y="280.80" width="10.92" height="8.74" fill="#b0d4ee" />
<rect x="282.72" y="280.80" width="10.92" height="8.74" fill="#3c88d4" />
<rect x="293.24" y="280.80" width="10.92" height="8.74" fill="#d4d2cc" />
<rect x="303.76" y="280.80" width="10.92" height="8.74" fill="#c4dcec" />
<rect x="314.28" y="280.80" width="10.92" height="8.74" fill="#c4dcec" />
<rect x="324.80" y="280.80" width="10.92" height="8.74" fill="#d4d2cc" />
<rect x="335.32" y="280.80" width="10.92" height="8.74" fill="#c82828" />
<rect x="345.84" y="280.80" width="10.92" height="8.74" fill="#c82828" />
<rect x="272.20" y="289.14" width="10.92" height="8.74" fill="#58b0e8" />
<rect x="282.72" y="289.14" width="10.92" height="8.74" fill="#3c88d4" />
<rect x="293.24" y="289.14" width="10.92" height="8.74" fill="#d4d2cc" />
<rect x="303.76" y="289.14" width="10.92" height="8.74" fill="#dcd4c4" />
<rect x="314.28" y="289.14" width="10.92" height="8.74" fill="#d4d2cc" />
<rect x="324.80" y="289.14" width="10.92" height="8.74" fill="#d4d2cc" />
<rect x="335.32" y="289.14" width="10.92" height="8.74" fill="#cc2a28" />
<rect x="345.84" y="289.14" width="10.92" height="8.74" fill="#c82828" />
<rect x="272.20" y="297.48" width="10.92" height="8.74" fill="#a8d0ec" />
<rect x="282.72" y="297.48" width="10.92" height="8.74" fill="#3c88d4" />
<rect x="293.24" y="297.48" width="10.92" height="8.74" fill="#d4d2cc" />
<rect x="303.76" y="297.48" width="10.92" height="8.74" fill="#d4d2cc" />
<rect x="314.28" y="297.48" width="10.92" height="8.74" fill="#d4d2cc" />
<rect x="324.80" y="297.48" width="10.92" height="8.74" fill="#c4dcec" />
<rect x="335.32" y="297.48" width="10.92" height="8.74" fill="#e03030" />
<rect x="345.84" y="297.48" width="10.92" height="8.74" fill="#b02028" />
<rect x="272.20" y="305.82" width="10.92" height="8.74" fill="#f8b830" />
<rect x="282.72" y="305.82" width="10.92" height="8.74" fill="#3c88d4" />
<rect x="293.24" y="305.82" width="10.92" height="8.74" fill="#b4d8f0" />
<rect x="303.76" y="305.82" width="10.92" height="8.74" fill="#b4d8f0" />
<rect x="314.28" y="305.82" width="10.92" height="8.74" fill="#c4dcec" />
<rect x="324.80" y="305.82" width="10.92" height="8.74" fill="#c4dcec" />
<rect x="335.32" y="305.82" width="10.92" height="8.74" fill="#d42a28" />
<rect x="345.84" y="305.82" width="10.92" height="8.74" fill="#c42628" />
<rect x="272.20" y="314.16" width="10.92" height="8.74" fill="#f8b830" />
<rect x="282.72" y="314.16" width="10.92" height="8.74" fill="#3c88d4" />
<rect x="293.24" y="314.16" width="10.92" height="8.74" fill="#4ca4e0" />
<rect x="303.76" y="314.16" width="10.92" height="8.74" fill="#4ca4e0" />
<rect x="314.28" y="314.16" width="10.92" height="8.74" fill="#d4d2cc" />
<rect x="324.80" y="314.16" width="10.92" height="8.74" fill="#f8b830" />
<rect x="335.32" y="314.16" width="10.92" height="8.74" fill="#c42628" />
<rect x="345.84" y="314.16" width="10.92" height="8.74" fill="#f8a030" />
<rect x="272.20" y="322.50" width="10.92" height="8.74" fill="#c8d8e4" />
<rect x="282.72" y="322.50" width="10.92" height="8.74" fill="#3c88d4" />
<rect x="293.24" y="322.50" width="10.92" height="8.74" fill="#d4d2cc" />
<rect x="303.76" y="322.50" width="10.92" height="8.74" fill="#b4d8f0" />
<rect x="314.28" y="322.50" width="10.92" height="8.74" fill="#c4dcec" />
<rect x="324.80" y="322.50" width="10.92" height="8.74" fill="#d4d2cc" />
<rect x="335.32" y="322.50" width="10.92" height="8.74" fill="#c02628" />
<rect x="345.84" y="322.50" width="10.92" height="8.74" fill="#c02628" />
<rect x="272.20" y="330.84" width="10.92" height="8.74" fill="#58b0e8" />
<rect x="282.72" y="330.84" width="10.92" height="8.74" fill="#58b0e8" />
<rect x="293.24" y="330.84" width="10.92" height="8.74" fill="#d4d2cc" />
<rect x="303.76" y="330.84" width="10.92" height="8.74" fill="#d4d2cc" />
<rect x="314.28" y="330.84" width="10.92" height="8.74" fill="#d4d2cc" />
<rect x="324.80" y="330.84" width="10.92" height="8.74" fill="#4ca8e4" />
<rect x="335.32" y="330.84" width="10.92" height="8.74" fill="#c02628" />
<rect x="345.84" y="330.84" width="10.92" height="8.74" fill="#b82428" />
<rect x="272.20" y="280.80" width="84.16" height="58.38" fill="none" stroke="#3a3a3a" stroke-width="0.9"/>
<rect x="272.20" y="344.00" width="10.92" height="8.32" fill="#2c5ca8" />
<rect x="282.72" y="344.00" width="10.92" height="8.32" fill="#80c4ec" />
<rect x="293.24" y="344.00" width="10.92" height="8.32" fill="#ecd0a0" />
<rect x="303.76" y="344.00" width="10.92" height="8.32" fill="#e8d4b0" />
<rect x="314.28" y="344.00" width="10.92" height="8.32" fill="#e0d4c0" />
<rect x="324.80" y="344.00" width="10.92" height="8.32" fill="#d4d2cc" />
<rect x="335.32" y="344.00" width="10.92" height="8.32" fill="#dc2c28" />
<rect x="345.84" y="344.00" width="10.92" height="8.32" fill="#e84828" />
<rect x="272.20" y="351.92" width="10.92" height="8.32" fill="#2c5ca8" />
<rect x="282.72" y="351.92" width="10.92" height="8.32" fill="#a8d4ee" />
<rect x="293.24" y="351.92" width="10.92" height="8.32" fill="#e8d4b4" />
<rect x="303.76" y="351.92" width="10.92" height="8.32" fill="#e4d4bc" />
<rect x="314.28" y="351.92" width="10.92" height="8.32" fill="#f4c870" />
<rect x="324.80" y="351.92" width="10.92" height="8.32" fill="#d8d4c8" />
<rect x="335.32" y="351.92" width="10.92" height="8.32" fill="#dc2c28" />
<rect x="345.84" y="351.92" width="10.92" height="8.32" fill="#f8a030" />
<rect x="272.20" y="359.84" width="10.92" height="8.32" fill="#a8d4ee" />
<rect x="282.72" y="359.84" width="10.92" height="8.32" fill="#4c90d4" />
<rect x="293.24" y="359.84" width="10.92" height="8.32" fill="#c8d8e4" />
<rect x="303.76" y="359.84" width="10.92" height="8.32" fill="#c8d8e4" />
<rect x="314.28" y="359.84" width="10.92" height="8.32" fill="#d4d2cc" />
<rect x="324.80" y="359.84" width="10.92" height="8.32" fill="#c8d8e4" />
<rect x="335.32" y="359.84" width="10.92" height="8.32" fill="#b82428" />
<rect x="345.84" y="359.84" width="10.92" height="8.32" fill="#c02628" />
<rect x="272.20" y="367.76" width="10.92" height="8.32" fill="#4c90d4" />
<rect x="282.72" y="367.76" width="10.92" height="8.32" fill="#4c98d8" />
<rect x="293.24" y="367.76" width="10.92" height="8.32" fill="#f0d090" />
<rect x="303.76" y="367.76" width="10.92" height="8.32" fill="#e8d4b4" />
<rect x="314.28" y="367.76" width="10.92" height="8.32" fill="#d8d4c8" />
<rect x="324.80" y="367.76" width="10.92" height="8.32" fill="#d4d2cc" />
<rect x="335.32" y="367.76" width="10.92" height="8.32" fill="#dc2c28" />
<rect x="345.84" y="367.76" width="10.92" height="8.32" fill="#dc2c28" />
<rect x="272.20" y="375.68" width="10.92" height="8.32" fill="#4c90d4" />
<rect x="282.72" y="375.68" width="10.92" height="8.32" fill="#4ca4e0" />
<rect x="293.24" y="375.68" width="10.92" height="8.32" fill="#ecd4a8" />
<rect x="303.76" y="375.68" width="10.92" height="8.32" fill="#e4d4bc" />
<rect x="314.28" y="375.68" width="10.92" height="8.32" fill="#d8d4c8" />
<rect x="324.80" y="375.68" width="10.92" height="8.32" fill="#d4d2cc" />
<rect x="335.32" y="375.68" width="10.92" height="8.32" fill="#dc2c28" />
<rect x="345.84" y="375.68" width="10.92" height="8.32" fill="#dc2c28" />
<rect x="272.20" y="383.60" width="10.92" height="8.32" fill="#90ccf0" />
<rect x="282.72" y="383.60" width="10.92" height="8.32" fill="#4ca4e0" />
<rect x="293.24" y="383.60" width="10.92" height="8.32" fill="#d4d2cc" />
<rect x="303.76" y="383.60" width="10.92" height="8.32" fill="#90ccf0" />
<rect x="314.28" y="383.60" width="10.92" height="8.32" fill="#d4d2cc" />
<rect x="324.80" y="383.60" width="10.92" height="8.32" fill="#d4d2cc" />
<rect x="335.32" y="383.60" width="10.92" height="8.32" fill="#b82428" />
<rect x="345.84" y="383.60" width="10.92" height="8.32" fill="#c02628" />
<rect x="272.20" y="391.52" width="10.92" height="8.32" fill="#58b0e8" />
<rect x="282.72" y="391.52" width="10.92" height="8.32" fill="#58b0e8" />
<rect x="293.24" y="391.52" width="10.92" height="8.32" fill="#d4d2cc" />
<rect x="303.76" y="391.52" width="10.92" height="8.32" fill="#dcd4c4" />
<rect x="314.28" y="391.52" width="10.92" height="8.32" fill="#d4d2cc" />
<rect x="324.80" y="391.52" width="10.92" height="8.32" fill="#d4d2cc" />
<rect x="335.32" y="391.52" width="10.92" height="8.32" fill="#c02628" />
<rect x="345.84" y="391.52" width="10.92" height="8.32" fill="#c02628" />
<rect x="272.20" y="344.00" width="84.16" height="55.44" fill="none" stroke="#3a3a3a" stroke-width="0.9"/>
<text x="268.20" y="259.90" font-size="6.6" text-anchor="middle" fill="#333" textLength="30.00" lengthAdjust="spacingAndGlyphs" transform="rotate(-90 268.20 259.90)" >Mutant up</text>
<text x="268.20" y="310.10" font-size="6.6" text-anchor="middle" fill="#333" textLength="55.00" lengthAdjust="spacingAndGlyphs" transform="rotate(-90 268.20 310.10)" >Heme metabolism</text>
<text x="268.20" y="371.70" font-size="6.6" text-anchor="middle" fill="#333" textLength="39.00" lengthAdjust="spacingAndGlyphs" transform="rotate(-90 268.20 371.70)" >Cytoskeleton</text>
<text x="358.50" y="249.89" font-size="6.4" fill="#333" font-style="italic" >ADA</text>
<text x="358.50" y="258.07" font-size="6.4" fill="#333" font-style="italic" >GATA2</text>
<text x="358.50" y="266.25" font-size="6.4" fill="#333" font-style="italic" >KIT</text>
<text x="358.50" y="274.43" font-size="6.4" fill="#333" font-style="italic" >RUNX1</text>
<text x="358.50" y="287.27" font-size="6.4" fill="#333" font-style="italic" >ALAD</text>
<text x="358.50" y="295.61" font-size="6.4" fill="#333" font-style="italic" >ALAS2</text>
<text x="358.50" y="303.95" font-size="6.4" fill="#333" font-style="italic" >FECH</text>
<text x="358.50" y="312.29" font-size="6.4" fill="#333" font-style="italic" >HMBS</text>
<text x="358.50" y="320.63" font-size="6.4" fill="#333" font-style="italic" >HMGB2</text>
<text x="358.50" y="328.97" font-size="6.4" fill="#333" font-style="italic" >UROD</text>
<text x="358.50" y="337.31" font-size="6.4" fill="#333" font-style="italic" >UROS</text>
<text x="358.50" y="350.26" font-size="6.4" fill="#333" font-style="italic" >ANK1</text>
<text x="358.50" y="358.18" font-size="6.4" fill="#333" font-style="italic" >EPB41</text>
<text x="358.50" y="366.10" font-size="6.4" fill="#333" font-style="italic" >EPB42</text>
<text x="358.50" y="374.02" font-size="6.4" fill="#333" font-style="italic" >SLC4A1</text>
<text x="358.50" y="381.94" font-size="6.4" fill="#333" font-style="italic" >SPTA1</text>
<text x="358.50" y="389.86" font-size="6.4" fill="#333" font-style="italic" >SPTB</text>
<text x="358.50" y="397.78" font-size="6.4" fill="#333" font-style="italic" >STOM</text>
<rect x="396.70" y="235.50" width="10.66" height="4.90" fill="#f4d024" stroke="#3a3a3a" stroke-width="0.6"/>
<rect x="407.36" y="235.50" width="10.66" height="4.90" fill="#f4d024" stroke="#3a3a3a" stroke-width="0.6"/>
<rect x="418.02" y="235.50" width="10.66" height="4.90" fill="#7fcfaa" stroke="#3a3a3a" stroke-width="0.6"/>
<rect x="428.68" y="235.50" width="10.66" height="4.90" fill="#7fcfaa" stroke="#3a3a3a" stroke-width="0.6"/>
<rect x="439.34" y="235.50" width="10.66" height="4.90" fill="#4a86cc" stroke="#3a3a3a" stroke-width="0.6"/>
<rect x="450.00" y="235.50" width="10.66" height="4.90" fill="#4a86cc" stroke="#3a3a3a" stroke-width="0.6"/>
<rect x="460.66" y="235.50" width="10.66" height="4.90" fill="#d62a2a" stroke="#3a3a3a" stroke-width="0.6"/>
<rect x="471.32" y="235.50" width="10.66" height="4.90" fill="#d62a2a" stroke="#3a3a3a" stroke-width="0.6"/>
<text x="405.40" y="231.80" font-size="7.6" fill="#333" textLength="21.50" lengthAdjust="spacingAndGlyphs" transform="rotate(-30 405.40 231.80)" >Empty</text>
<text x="426.80" y="231.80" font-size="7.6" fill="#333" textLength="23.50" lengthAdjust="spacingAndGlyphs" transform="rotate(-30 426.80 231.80)" >R307C</text>
<text x="448.20" y="231.80" font-size="7.6" fill="#333" textLength="23.80" lengthAdjust="spacingAndGlyphs" transform="rotate(-30 448.20 231.80)" >R307H</text>
<text x="469.50" y="231.80" font-size="7.6" fill="#333" textLength="11.50" lengthAdjust="spacingAndGlyphs" transform="rotate(-30 469.50 231.80)" >WT</text>
<rect x="396.70" y="244.50" width="11.06" height="8.62" fill="#3c88d4" />
<rect x="407.36" y="244.50" width="11.06" height="8.62" fill="#58b0e8" />
<rect x="418.02" y="244.50" width="11.06" height="8.62" fill="#d8d4cc" />
<rect x="428.68" y="244.50" width="11.06" height="8.62" fill="#d8d4cc" />
<rect x="439.34" y="244.50" width="11.06" height="8.62" fill="#d4d2cc" />
<rect x="450.00" y="244.50" width="11.06" height="8.62" fill="#d8d4cc" />
<rect x="460.66" y="244.50" width="11.06" height="8.62" fill="#dc2c28" />
<rect x="471.32" y="244.50" width="11.06" height="8.62" fill="#d02828" />
<rect x="396.70" y="252.72" width="11.06" height="8.62" fill="#58b0e8" />
<rect x="407.36" y="252.72" width="11.06" height="8.62" fill="#4ca0e0" />
<rect x="418.02" y="252.72" width="11.06" height="8.62" fill="#d8d4cc" />
<rect x="428.68" y="252.72" width="11.06" height="8.62" fill="#c4dcec" />
<rect x="439.34" y="252.72" width="11.06" height="8.62" fill="#dcd4c4" />
<rect x="450.00" y="252.72" width="11.06" height="8.62" fill="#d4d2cc" />
<rect x="460.66" y="252.72" width="11.06" height="8.62" fill="#dc2c28" />
<rect x="471.32" y="252.72" width="11.06" height="8.62" fill="#b42028" />
<rect x="396.70" y="260.94" width="11.06" height="8.62" fill="#4ca8e4" />
<rect x="407.36" y="260.94" width="11.06" height="8.62" fill="#3c68b8" />
<rect x="418.02" y="260.94" width="11.06" height="8.62" fill="#d8d4c4" />
<rect x="428.68" y="260.94" width="11.06" height="8.62" fill="#d4d2cc" />
<rect x="439.34" y="260.94" width="11.06" height="8.62" fill="#dcd4c4" />
<rect x="450.00" y="260.94" width="11.06" height="8.62" fill="#d4d2cc" />
<rect x="460.66" y="260.94" width="11.06" height="8.62" fill="#d42a28" />
<rect x="471.32" y="260.94" width="11.06" height="8.62" fill="#d82c28" />
<rect x="396.70" y="269.16" width="11.06" height="8.62" fill="#4090d4" />
<rect x="407.36" y="269.16" width="11.06" height="8.62" fill="#58b0e8" />
<rect x="418.02" y="269.16" width="11.06" height="8.62" fill="#d8d4cc" />
<rect x="428.68" y="269.16" width="11.06" height="8.62" fill="#d4d2cc" />
<rect x="439.34" y="269.16" width="11.06" height="8.62" fill="#d4d2cc" />
<rect x="450.00" y="269.16" width="11.06" height="8.62" fill="#d4d2cc" />
<rect x="460.66" y="269.16" width="11.06" height="8.62" fill="#b82428" />
<rect x="471.32" y="269.16" width="11.06" height="8.62" fill="#d02828" />
<rect x="396.70" y="244.50" width="85.28" height="32.88" fill="none" stroke="#3a3a3a" stroke-width="0.9"/>
<rect x="396.70" y="283.00" width="11.06" height="8.30" fill="#3c88d4" />
<rect x="407.36" y="283.00" width="11.06" height="8.30" fill="#4ca0e0" />
<rect x="418.02" y="283.00" width="11.06" height="8.30" fill="#d8d4cc" />
<rect x="428.68" y="283.00" width="11.06" height="8.30" fill="#d8d4cc" />
<rect x="439.34" y="283.00" width="11.06" height="8.30" fill="#d4d2cc" />
<rect x="450.00" y="283.00" width="11.06" height="8.30" fill="#d4d2cc" />
<rect x="460.66" y="283.00" width="11.06" height="8.30" fill="#d42a28" />
<rect x="471.32" y="283.00" width="11.06" height="8.30" fill="#d42a28" />
<rect x="396.70" y="290.90" width="11.06" height="8.30" fill="#2c5ca8" />
<rect x="407.36" y="290.90" width="11.06" height="8.30" fill="#58b0e8" />
<rect x="418.02" y="290.90" width="11.06" height="8.30" fill="#f4c878" />
<rect x="428.68" y="290.90" width="11.06" height="8.30" fill="#d8d4cc" />
<rect x="439.34" y="290.90" width="11.06" height="8.30" fill="#d4d2cc" />
<rect x="450.00" y="290.90" width="11.06" height="8.30" fill="#d4d2cc" />
<rect x="460.66" y="290.90" width="11.06" height="8.30" fill="#e85828" />
<rect x="471.32" y="290.90" width="11.06" height="8.30" fill="#e04828" />
<rect x="396.70" y="298.80" width="11.06" height="8.30" fill="#f0d8a8" />
<rect x="407.36" y="298.80" width="11.06" height="8.30" fill="#58b0e8" />
<rect x="418.02" y="298.80" width="11.06" height="8.30" fill="#c8d8e4" />
<rect x="428.68" y="298.80" width="11.06" height="8.30" fill="#c4dcec" />
<rect x="439.34" y="298.80" width="11.06" height="8.30" fill="#b4d8f0" />
<rect x="450.00" y="298.80" width="11.06" height="8.30" fill="#58b0e8" />
<rect x="460.66" y="298.80" width="11.06" height="8.30" fill="#c02628" />
<rect x="471.32" y="298.80" width="11.06" height="8.30" fill="#c02628" />
<rect x="396.70" y="283.00" width="85.28" height="23.70" fill="none" stroke="#3a3a3a" stroke-width="0.9"/>
<rect x="396.70" y="312.30" width="11.06" height="8.74" fill="#3060b0" />
<rect x="407.36" y="312.30" width="11.06" height="8.74" fill="#b4d8f0" />
<rect x="418.02" y="312.30" width="11.06" height="8.74" fill="#f4b840" />
<rect x="428.68" y="312.30" width="11.06" height="8.74" fill="#d8d4cc" />
<rect x="439.34" y="312.30" width="11.06" height="8.74" fill="#d4d2cc" />
<rect x="450.00" y="312.30" width="11.06" height="8.74" fill="#d4d2cc" />
<rect x="460.66" y="312.30" width="11.06" height="8.74" fill="#f07820" />
<rect x="471.32" y="312.30" width="11.06" height="8.74" fill="#e04028" />
<rect x="396.70" y="320.64" width="11.06" height="8.74" fill="#3c80cc" />
<rect x="407.36" y="320.64" width="11.06" height="8.74" fill="#58b0e8" />
<rect x="418.02" y="320.64" width="11.06" height="8.74" fill="#e8d4b4" />
<rect x="428.68" y="320.64" width="11.06" height="8.74" fill="#dcd4c4" />
<rect x="439.34" y="320.64" width="11.06" height="8.74" fill="#d4d2cc" />
<rect x="450.00" y="320.64" width="11.06" height="8.74" fill="#d4d2cc" />
<rect x="460.66" y="320.64" width="11.06" height="8.74" fill="#dc2c28" />
<rect x="471.32" y="320.64" width="11.06" height="8.74" fill="#dc3028" />
<rect x="396.70" y="328.98" width="11.06" height="8.74" fill="#4ca8e4" />
<rect x="407.36" y="328.98" width="11.06" height="8.74" fill="#58b0e8" />
<rect x="418.02" y="328.98" width="11.06" height="8.74" fill="#e8d4b4" />
<rect x="428.68" y="328.98" width="11.06" height="8.74" fill="#d8d4c8" />
<rect x="439.34" y="328.98" width="11.06" height="8.74" fill="#c8dce8" />
<rect x="450.00" y="328.98" width="11.06" height="8.74" fill="#c8dce8" />
<rect x="460.66" y="328.98" width="11.06" height="8.74" fill="#d02828" />
<rect x="471.32" y="328.98" width="11.06" height="8.74" fill="#c02628" />
<rect x="396.70" y="337.32" width="11.06" height="8.74" fill="#4ca8e4" />
<rect x="407.36" y="337.32" width="11.06" height="8.74" fill="#4c9cdc" />
<rect x="418.02" y="337.32" width="11.06" height="8.74" fill="#e8d4b4" />
<rect x="428.68" y="337.32" width="11.06" height="8.74" fill="#e0d4c0" />
<rect x="439.34" y="337.32" width="11.06" height="8.74" fill="#c8dce8" />
<rect x="450.00" y="337.32" width="11.06" height="8.74" fill="#c8dce8" />
<rect x="460.66" y="337.32" width="11.06" height="8.74" fill="#dc2c28" />
<rect x="471.32" y="337.32" width="11.06" height="8.74" fill="#dc2c28" />
<rect x="396.70" y="345.66" width="11.06" height="8.74" fill="#4090d4" />
<rect x="407.36" y="345.66" width="11.06" height="8.74" fill="#4c9cdc" />
<rect x="418.02" y="345.66" width="11.06" height="8.74" fill="#e8d4b4" />
<rect x="428.68" y="345.66" width="11.06" height="8.74" fill="#e0d4c0" />
<rect x="439.34" y="345.66" width="11.06" height="8.74" fill="#d4d2cc" />
<rect x="450.00" y="345.66" width="11.06" height="8.74" fill="#d4d2cc" />
<rect x="460.66" y="345.66" width="11.06" height="8.74" fill="#dc2c28" />
<rect x="471.32" y="345.66" width="11.06" height="8.74" fill="#dc2c28" />
<rect x="396.70" y="312.30" width="85.28" height="41.70" fill="none" stroke="#3a3a3a" stroke-width="0.9"/>
<rect x="396.70" y="358.90" width="11.06" height="8.65" fill="#d8d4cc" />
<rect x="407.36" y="358.90" width="11.06" height="8.65" fill="#3c80cc" />
<rect x="418.02" y="358.90" width="11.06" height="8.65" fill="#c4dcec" />
<rect x="428.68" y="358.90" width="11.06" height="8.65" fill="#c4dcec" />
<rect x="439.34" y="358.90" width="11.06" height="8.65" fill="#c4dcec" />
<rect x="450.00" y="358.90" width="11.06" height="8.65" fill="#c8d8e4" />
<rect x="460.66" y="358.90" width="11.06" height="8.65" fill="#c82828" />
<rect x="471.32" y="358.90" width="11.06" height="8.65" fill="#c82828" />
<rect x="396.70" y="367.15" width="11.06" height="8.65" fill="#58b0e8" />
<rect x="407.36" y="367.15" width="11.06" height="8.65" fill="#4090d4" />
<rect x="418.02" y="367.15" width="11.06" height="8.65" fill="#c4dcec" />
<rect x="428.68" y="367.15" width="11.06" height="8.65" fill="#c8d8e4" />
<rect x="439.34" y="367.15" width="11.06" height="8.65" fill="#d4d2cc" />
<rect x="450.00" y="367.15" width="11.06" height="8.65" fill="#c8d8e4" />
<rect x="460.66" y="367.15" width="11.06" height="8.65" fill="#b02028" />
<rect x="471.32" y="367.15" width="11.06" height="8.65" fill="#c82828" />
<rect x="396.70" y="358.90" width="85.28" height="16.50" fill="none" stroke="#3a3a3a" stroke-width="0.9"/>
<rect x="396.70" y="380.30" width="11.06" height="8.80" fill="#3c80cc" />
<rect x="407.36" y="380.30" width="11.06" height="8.80" fill="#b4d8f0" />
<rect x="418.02" y="380.30" width="11.06" height="8.80" fill="#f4c060" />
<rect x="428.68" y="380.30" width="11.06" height="8.80" fill="#f4c060" />
<rect x="439.34" y="380.30" width="11.06" height="8.80" fill="#d4d2cc" />
<rect x="450.00" y="380.30" width="11.06" height="8.80" fill="#4ca8e4" />
<rect x="460.66" y="380.30" width="11.06" height="8.80" fill="#e84828" />
<rect x="471.32" y="380.30" width="11.06" height="8.80" fill="#dc2c28" />
<rect x="396.70" y="380.30" width="85.28" height="8.40" fill="none" stroke="#3a3a3a" stroke-width="0.9"/>
<text x="393.40" y="261.00" font-size="6.6" text-anchor="middle" fill="#333" textLength="32.40" lengthAdjust="spacingAndGlyphs" transform="rotate(-90 393.40 261.00)" >Membrane</text>
<text x="393.40" y="295.00" font-size="6.6" text-anchor="middle" fill="#333" textLength="17.40" lengthAdjust="spacingAndGlyphs" transform="rotate(-90 393.40 295.00)" >Other</text>
<text x="393.40" y="333.10" font-size="6.6" text-anchor="middle" fill="#333" textLength="24.00" lengthAdjust="spacingAndGlyphs" transform="rotate(-90 393.40 333.10)" >Globins</text>
<text x="393.40" y="367.10" font-size="6.6" text-anchor="middle" fill="#333" textLength="9.50" lengthAdjust="spacingAndGlyphs" transform="rotate(-90 393.40 367.10)" >Mb</text>
<text x="393.40" y="384.50" font-size="6.6" text-anchor="middle" fill="#333" textLength="7.00" lengthAdjust="spacingAndGlyphs" transform="rotate(-90 393.40 384.50)" >Tx</text>
<text x="485.00" y="250.91" font-size="6.4" fill="#333" font-style="italic" >EPOR</text>
<text x="485.00" y="259.13" font-size="6.4" fill="#333" font-style="italic" >GYPA</text>
<text x="485.00" y="267.35" font-size="6.4" fill="#333" font-style="italic" >GYPE</text>
<text x="485.00" y="275.57" font-size="6.4" fill="#333" font-style="italic" >KEL</text>
<text x="485.00" y="289.25" font-size="6.4" fill="#333" font-style="italic" >FAM132B</text>
<text x="485.00" y="297.15" font-size="6.4" fill="#333" font-style="italic" >FHDC1</text>
<text x="485.00" y="305.05" font-size="6.4" fill="#333" font-style="italic" >SLC38A5</text>
<text x="485.00" y="318.77" font-size="6.4" fill="#333" font-style="italic" >HBA1</text>
<text x="485.00" y="327.11" font-size="6.4" fill="#333" font-style="italic" >HBA2</text>
<text x="485.00" y="335.45" font-size="6.4" fill="#333" font-style="italic" >HBB</text>
<text x="485.00" y="343.79" font-size="6.4" fill="#333" font-style="italic" >HBD</text>
<text x="485.00" y="352.13" font-size="6.4" fill="#333" font-style="italic" >HBM</text>
<text x="485.00" y="365.32" font-size="6.4" fill="#333" font-style="italic" >HK1</text>
<text x="485.00" y="373.57" font-size="6.4" fill="#333" font-style="italic" >PFKM</text>
<text x="485.00" y="386.80" font-size="6.4" fill="#333" font-style="italic" >KLF1</text>
<text x="439.00" y="398.30" font-size="6.6" text-anchor="middle" fill="#333" textLength="36.20" lengthAdjust="spacingAndGlyphs" >RNA z-score</text>
<rect x="427" y="400.3" width="24.5" height="5.5" fill="url(#cbar)" stroke="#333" stroke-width="0.5"/>
<line x1="438.80" y1="405.80" x2="438.80" y2="407.00" stroke="#333" stroke-width="0.5" />
<text x="427.00" y="414.00" font-size="6.6" text-anchor="middle" fill="#333" textLength="6.40" lengthAdjust="spacingAndGlyphs" >−3</text>
<text x="438.90" y="414.00" font-size="6.6" text-anchor="middle" fill="#333" textLength="3.80" lengthAdjust="spacingAndGlyphs" >0</text>
<text x="450.80" y="414.00" font-size="6.6" text-anchor="middle" fill="#333" textLength="3.40" lengthAdjust="spacingAndGlyphs" >2</text>
<text x="7.50" y="447.10" font-size="10.2" fill="#111" font-weight="bold" textLength="7.70" lengthAdjust="spacingAndGlyphs" stroke="#111" stroke-width="0.35">H</text>
<line x1="54.00" y1="462.20" x2="54.00" y2="520.20" stroke="#111" stroke-width="1.1" />
<line x1="53.50" y1="519.70" x2="188.50" y2="519.70" stroke="#111" stroke-width="1.1" />
<line x1="51.60" y1="519.70" x2="54.00" y2="519.70" stroke="#111" stroke-width="0.8" />
<text x="48.60" y="522.60" font-size="8.2" text-anchor="end" fill="#333" textLength="4.60" lengthAdjust="spacingAndGlyphs" >0</text>
<line x1="51.60" y1="501.45" x2="54.00" y2="501.45" stroke="#111" stroke-width="0.8" />
<text x="48.60" y="504.35" font-size="8.2" text-anchor="end" fill="#333" textLength="9.00" lengthAdjust="spacingAndGlyphs" >50</text>
<line x1="51.60" y1="483.20" x2="54.00" y2="483.20" stroke="#111" stroke-width="0.8" />
<text x="48.60" y="486.10" font-size="8.2" text-anchor="end" fill="#333" textLength="13.40" lengthAdjust="spacingAndGlyphs" >100</text>
<line x1="51.60" y1="464.95" x2="54.00" y2="464.95" stroke="#111" stroke-width="0.8" />
<text x="48.60" y="467.85" font-size="8.2" text-anchor="end" fill="#333" textLength="13.40" lengthAdjust="spacingAndGlyphs" >150</text>
<text x="30.2" y="525.6" font-size="8.2" fill="#333" stroke="#333" stroke-width="0.15" transform="rotate(-90 30.2 525.6)" textLength="70" lengthAdjust="spacingAndGlyphs"><tspan font-style="italic">ADA</tspan> expression (cpm)</text>
<rect x="65.30" y="487.76" width="15.60" height="31.44" fill="#fad583" />
<circle cx="70.1" cy="488.09" r="1.25" fill="#e8b838"/>
<circle cx="76.5" cy="488.02" r="1.25" fill="#e8b838"/>
<line x1="73.10" y1="519.70" x2="73.10" y2="522.20" stroke="#111" stroke-width="0.8" />
<rect x="97.40" y="470.97" width="15.60" height="48.23" fill="#94d8a0" />
<circle cx="102.2" cy="469.70" r="1.25" fill="#2a7a38"/>
<circle cx="108.6" cy="471.34" r="1.25" fill="#2a7a38"/>
<line x1="105.20" y1="519.70" x2="105.20" y2="522.20" stroke="#111" stroke-width="0.8" />
<rect x="129.60" y="478.64" width="15.60" height="40.56" fill="#8aa9cc" />
<circle cx="134.4" cy="474.59" r="1.25" fill="#102040"/>
<circle cx="140.8" cy="483.20" r="1.25" fill="#102040"/>
<line x1="137.40" y1="519.70" x2="137.40" y2="522.20" stroke="#111" stroke-width="0.8" />
<rect x="161.50" y="488.68" width="15.60" height="30.52" fill="#e8828f" />
<circle cx="166.3" cy="487.22" r="1.25" fill="#a01828"/>
<circle cx="172.7" cy="489.77" r="1.25" fill="#a01828"/>
<line x1="169.30" y1="519.70" x2="169.30" y2="522.20" stroke="#111" stroke-width="0.8" />
<text x="73.30" y="532.70" font-size="7.4" text-anchor="middle" textLength="22.20" lengthAdjust="spacingAndGlyphs" >Empty</text>
<text x="105.30" y="532.70" font-size="7.4" text-anchor="middle" textLength="23.20" lengthAdjust="spacingAndGlyphs" >R307C</text>
<text x="137.10" y="532.70" font-size="7.4" text-anchor="middle" textLength="23.40" lengthAdjust="spacingAndGlyphs" >R307H</text>
<text x="168.80" y="532.70" font-size="7.4" text-anchor="middle" textLength="25.20" lengthAdjust="spacingAndGlyphs" >GATA1</text>
<text x="198.70" y="446.30" font-size="10.2" fill="#111" font-weight="bold" textLength="2.50" lengthAdjust="spacingAndGlyphs" stroke="#111" stroke-width="0.35">I</text>
<line x1="234.40" y1="452.80" x2="234.40" y2="520.20" stroke="#111" stroke-width="1.1" />
<line x1="233.90" y1="519.60" x2="315.60" y2="519.60" stroke="#111" stroke-width="1.0" />
<line x1="231.00" y1="514.00" x2="234.40" y2="514.00" stroke="#111" stroke-width="0.9" />
<text x="229.00" y="516.90" font-size="8.2" text-anchor="end" fill="#333" textLength="16.20" lengthAdjust="spacingAndGlyphs" >0.00</text>
<line x1="231.00" y1="497.95" x2="234.40" y2="497.95" stroke="#111" stroke-width="0.9" />
<text x="229.00" y="500.85" font-size="8.2" text-anchor="end" fill="#333" textLength="16.20" lengthAdjust="spacingAndGlyphs" >0.25</text>
<line x1="231.00" y1="481.90" x2="234.40" y2="481.90" stroke="#111" stroke-width="0.9" />
<text x="229.00" y="484.80" font-size="8.2" text-anchor="end" fill="#333" textLength="16.20" lengthAdjust="spacingAndGlyphs" >0.50</text>
<line x1="231.00" y1="465.85" x2="234.40" y2="465.85" stroke="#111" stroke-width="0.9" />
<text x="229.00" y="468.75" font-size="8.2" text-anchor="end" fill="#333" textLength="16.20" lengthAdjust="spacingAndGlyphs" >0.75</text>
<rect x="234.50" y="508.80" width="5.50" height="7.60" fill="#111" />
<rect x="240.00" y="508.80" width="0.90" height="7.60" fill="#111" />
<rect x="241.40" y="508.80" width="0.90" height="7.60" fill="#111" />
<rect x="242.80" y="508.80" width="0.90" height="7.60" fill="#111" />
<rect x="244.20" y="508.80" width="0.90" height="7.60" fill="#111" />
<rect x="245.60" y="508.80" width="0.90" height="7.60" fill="#111" />
<rect x="247.00" y="508.80" width="0.90" height="7.60" fill="#111" />
<rect x="248.40" y="508.80" width="0.90" height="7.60" fill="#111" />
<rect x="249.80" y="508.80" width="0.90" height="7.60" fill="#111" />
<rect x="251.20" y="508.80" width="0.90" height="7.60" fill="#111" />
<rect x="252.60" y="508.80" width="0.90" height="7.60" fill="#111" />
<rect x="254.00" y="508.80" width="0.90" height="7.60" fill="#111" />
<rect x="255.40" y="508.80" width="0.60" height="7.60" fill="#111" />
<rect x="256.00" y="508.80" width="3.10" height="7.60" fill="#111" />
<rect x="260.40" y="508.80" width="0.80" height="7.60" fill="#111" />
<rect x="265.10" y="508.80" width="0.80" height="7.60" fill="#111" />
<rect x="266.30" y="508.80" width="0.80" height="7.60" fill="#111" />
<rect x="269.70" y="508.80" width="0.80" height="7.60" fill="#111" />
<rect x="272.30" y="508.80" width="0.80" height="7.60" fill="#111" />
<rect x="274.20" y="508.80" width="3.80" height="7.60" fill="#111" />
<rect x="278.00" y="508.80" width="0.80" height="7.60" fill="#111" />
<rect x="279.30" y="508.80" width="0.80" height="7.60" fill="#111" />
<rect x="280.60" y="508.80" width="0.40" height="7.60" fill="#111" />
<rect x="281.00" y="508.80" width="5.00" height="7.60" fill="#111" />
<rect x="288.40" y="508.80" width="0.80" height="7.60" fill="#111" />
<rect x="290.10" y="508.80" width="0.80" height="7.60" fill="#111" />
<rect x="293.90" y="508.80" width="0.80" height="7.60" fill="#111" />
<rect x="296.50" y="508.80" width="0.80" height="7.60" fill="#111" />
<rect x="300.70" y="508.80" width="0.80" height="7.60" fill="#111" />
<rect x="302.00" y="508.80" width="0.80" height="7.60" fill="#111" />
<rect x="306.20" y="508.80" width="0.80" height="7.60" fill="#111" />
<rect x="312.20" y="508.80" width="0.80" height="7.60" fill="#111" />
<line x1="234.40" y1="514.00" x2="315.60" y2="514.00" stroke="#111" stroke-width="0.9" />
<polyline points="234.70000000000002,456.9 237.4,453.9 308.4,513.5" fill="none" stroke="#c8eac8" stroke-width="3.6"/>
<polyline points="234.70000000000002,456.9 237.4,453.9 308.4,513.5" fill="none" stroke="#2ea040" stroke-width="1.6"/>
<line x1="241.90" y1="454.50" x2="314.60" y2="454.50" stroke="#d2405e" stroke-width="1.3" stroke-dasharray="3.8,2.8"/>
<text x="241.90" y="451.20" font-size="6.8" fill="#333" textLength="64.00" lengthAdjust="spacingAndGlyphs" >Heme metabolism</text>
<text x="264.40" y="463.50" font-size="7.0" textLength="39.50" lengthAdjust="spacingAndGlyphs" >NES = 2.02</text>
<text x="264.40" y="472.10" font-size="7.0" textLength="62.00" lengthAdjust="spacingAndGlyphs" >FDR p-val = 0.008</text>
<line x1="354.20" y1="452.80" x2="354.20" y2="520.20" stroke="#111" stroke-width="1.1" />
<line x1="353.70" y1="519.60" x2="436.40" y2="519.60" stroke="#111" stroke-width="1.0" />
<line x1="350.80" y1="513.20" x2="354.20" y2="513.20" stroke="#111" stroke-width="0.9" />
<text x="348.80" y="516.10" font-size="8.2" text-anchor="end" fill="#333" textLength="12.15" lengthAdjust="spacingAndGlyphs" >0.0</text>
<line x1="350.80" y1="499.00" x2="354.20" y2="499.00" stroke="#111" stroke-width="0.9" />
<text x="348.80" y="501.90" font-size="8.2" text-anchor="end" fill="#333" textLength="12.15" lengthAdjust="spacingAndGlyphs" >0.2</text>
<line x1="350.80" y1="484.80" x2="354.20" y2="484.80" stroke="#111" stroke-width="0.9" />
<text x="348.80" y="487.70" font-size="8.2" text-anchor="end" fill="#333" textLength="12.15" lengthAdjust="spacingAndGlyphs" >0.4</text>
<line x1="350.80" y1="470.60" x2="354.20" y2="470.60" stroke="#111" stroke-width="0.9" />
<text x="348.80" y="473.50" font-size="8.2" text-anchor="end" fill="#333" textLength="12.15" lengthAdjust="spacingAndGlyphs" >0.6</text>
<line x1="350.80" y1="456.40" x2="354.20" y2="456.40" stroke="#111" stroke-width="0.9" />
<text x="348.80" y="459.30" font-size="8.2" text-anchor="end" fill="#333" textLength="12.15" lengthAdjust="spacingAndGlyphs" >0.8</text>
<rect x="354.10" y="508.80" width="2.60" height="7.60" fill="#111" />
<rect x="360.10" y="508.80" width="0.80" height="7.60" fill="#111" />
<rect x="363.00" y="508.80" width="0.80" height="7.60" fill="#111" />
<rect x="364.30" y="508.80" width="0.80" height="7.60" fill="#111" />
<rect x="366.80" y="508.80" width="0.70" height="7.60" fill="#111" />
<rect x="368.10" y="508.80" width="0.70" height="7.60" fill="#111" />
<rect x="369.40" y="508.80" width="0.70" height="7.60" fill="#111" />
<rect x="372.80" y="508.80" width="0.80" height="7.60" fill="#111" />
<rect x="376.20" y="508.80" width="0.80" height="7.60" fill="#111" />
<rect x="378.30" y="508.80" width="0.80" height="7.60" fill="#111" />
<rect x="379.10" y="508.80" width="0.80" height="7.60" fill="#111" />
<rect x="383.00" y="508.80" width="0.80" height="7.60" fill="#111" />
<rect x="385.90" y="508.80" width="0.70" height="7.60" fill="#111" />
<rect x="387.20" y="508.80" width="0.70" height="7.60" fill="#111" />
<rect x="388.50" y="508.80" width="0.70" height="7.60" fill="#111" />
<rect x="392.30" y="508.80" width="0.80" height="7.60" fill="#111" />
<rect x="393.60" y="508.80" width="0.80" height="7.60" fill="#111" />
<rect x="395.30" y="508.80" width="0.80" height="7.60" fill="#111" />
<rect x="397.00" y="508.80" width="0.80" height="7.60" fill="#111" />
<rect x="401.00" y="508.80" width="1.00" height="7.60" fill="#111" />
<rect x="403.30" y="508.80" width="1.20" height="7.60" fill="#111" />
<rect x="406.70" y="508.80" width="0.80" height="7.60" fill="#111" />
<rect x="408.00" y="508.80" width="0.80" height="7.60" fill="#111" />
<rect x="411.00" y="508.80" width="0.80" height="7.60" fill="#111" />
<rect x="412.30" y="508.80" width="0.80" height="7.60" fill="#111" />
<rect x="413.60" y="508.80" width="0.70" height="7.60" fill="#111" />
<rect x="416.50" y="508.80" width="0.80" height="7.60" fill="#111" />
<rect x="417.80" y="508.80" width="0.40" height="7.60" fill="#111" />
<rect x="419.40" y="508.80" width="0.60" height="7.60" fill="#111" />
<rect x="420.70" y="508.80" width="0.60" height="7.60" fill="#111" />
<rect x="425.40" y="508.80" width="1.00" height="7.60" fill="#111" />
<rect x="426.75" y="508.80" width="1.00" height="7.60" fill="#111" />
<rect x="428.10" y="508.80" width="1.00" height="7.60" fill="#111" />
<rect x="429.45" y="508.80" width="1.00" height="7.60" fill="#111" />
<rect x="430.80" y="508.80" width="1.00" height="7.60" fill="#111" />
<rect x="432.15" y="508.80" width="1.00" height="7.60" fill="#111" />
<rect x="433.50" y="508.80" width="1.00" height="7.60" fill="#111" />
<rect x="434.85" y="508.80" width="0.65" height="7.60" fill="#111" />
<line x1="354.20" y1="513.20" x2="436.40" y2="513.20" stroke="#111" stroke-width="0.9" />
<polyline points="354.5,457.4 357.2,454.4 422.5,512.7" fill="none" stroke="#c8eac8" stroke-width="3.6"/>
<polyline points="354.5,457.4 357.2,454.4 422.5,512.7" fill="none" stroke="#2ea040" stroke-width="1.6"/>
<line x1="361.50" y1="455.00" x2="435.40" y2="455.00" stroke="#d2405e" stroke-width="1.3" stroke-dasharray="3.8,2.8"/>
<text x="364.60" y="451.20" font-size="6.8" fill="#333" textLength="60.60" lengthAdjust="spacingAndGlyphs" >GATA TF targets</text>
<text x="389.60" y="466.50" font-size="7.0" textLength="39.40" lengthAdjust="spacingAndGlyphs" >NES = 1.72</text>
<text x="389.60" y="475.10" font-size="7.0" textLength="58.00" lengthAdjust="spacingAndGlyphs" >FDR p-val = 0.06</text>
<line x1="234.40" y1="519.60" x2="234.40" y2="521.80" stroke="#111" stroke-width="0.8" />
<text x="234.40" y="532.00" font-size="8.6" text-anchor="middle" textLength="2.60" lengthAdjust="spacingAndGlyphs" >1</text>
<line x1="254.60" y1="519.60" x2="254.60" y2="521.80" stroke="#111" stroke-width="0.8" />
<text x="254.60" y="532.00" font-size="8.6" text-anchor="middle" textLength="16.80" lengthAdjust="spacingAndGlyphs" >2500</text>
<line x1="274.90" y1="519.60" x2="274.90" y2="521.80" stroke="#111" stroke-width="0.8" />
<text x="274.90" y="532.00" font-size="8.6" text-anchor="middle" textLength="16.80" lengthAdjust="spacingAndGlyphs" >5000</text>
<line x1="295.20" y1="519.60" x2="295.20" y2="521.80" stroke="#111" stroke-width="0.8" />
<text x="295.20" y="532.00" font-size="8.6" text-anchor="middle" textLength="16.80" lengthAdjust="spacingAndGlyphs" >7500</text>
<text x="274.40" y="545.00" font-size="9.2" text-anchor="middle" fill="#333" textLength="16.00" lengthAdjust="spacingAndGlyphs" stroke="#333" stroke-width="0.15">Rank</text>
<line x1="354.20" y1="519.60" x2="354.20" y2="521.80" stroke="#111" stroke-width="0.8" />
<text x="354.20" y="532.00" font-size="8.6" text-anchor="middle" textLength="2.60" lengthAdjust="spacingAndGlyphs" >1</text>
<line x1="374.60" y1="519.60" x2="374.60" y2="521.80" stroke="#111" stroke-width="0.8" />
<text x="374.60" y="532.00" font-size="8.6" text-anchor="middle" textLength="16.80" lengthAdjust="spacingAndGlyphs" >2500</text>
<line x1="395.00" y1="519.60" x2="395.00" y2="521.80" stroke="#111" stroke-width="0.8" />
<text x="395.00" y="532.00" font-size="8.6" text-anchor="middle" textLength="16.80" lengthAdjust="spacingAndGlyphs" >5000</text>
<line x1="415.40" y1="519.60" x2="415.40" y2="521.80" stroke="#111" stroke-width="0.8" />
<text x="415.40" y="532.00" font-size="8.6" text-anchor="middle" textLength="16.80" lengthAdjust="spacingAndGlyphs" >7500</text>
<text x="394.50" y="545.00" font-size="9.2" text-anchor="middle" fill="#333" textLength="16.00" lengthAdjust="spacingAndGlyphs" stroke="#333" stroke-width="0.15">Rank</text>
<text x="205.00" y="489.20" font-size="8.4" text-anchor="middle" fill="#333" textLength="55.00" lengthAdjust="spacingAndGlyphs" transform="rotate(-90 205.00 489.20)" stroke="#333" stroke-width="0.15">Enrichment score</text>
<rect x="0" y="0" width="520" height="1.1" fill="#000"/>
<rect x="0" y="0" width="1.2" height="552" fill="#000"/>
<rect x="518.7" y="0" width="1.3" height="552" fill="#000"/>
<rect x="0" y="550.7" width="520" height="1.3" fill="#000"/>
</svg>
</body></html>
